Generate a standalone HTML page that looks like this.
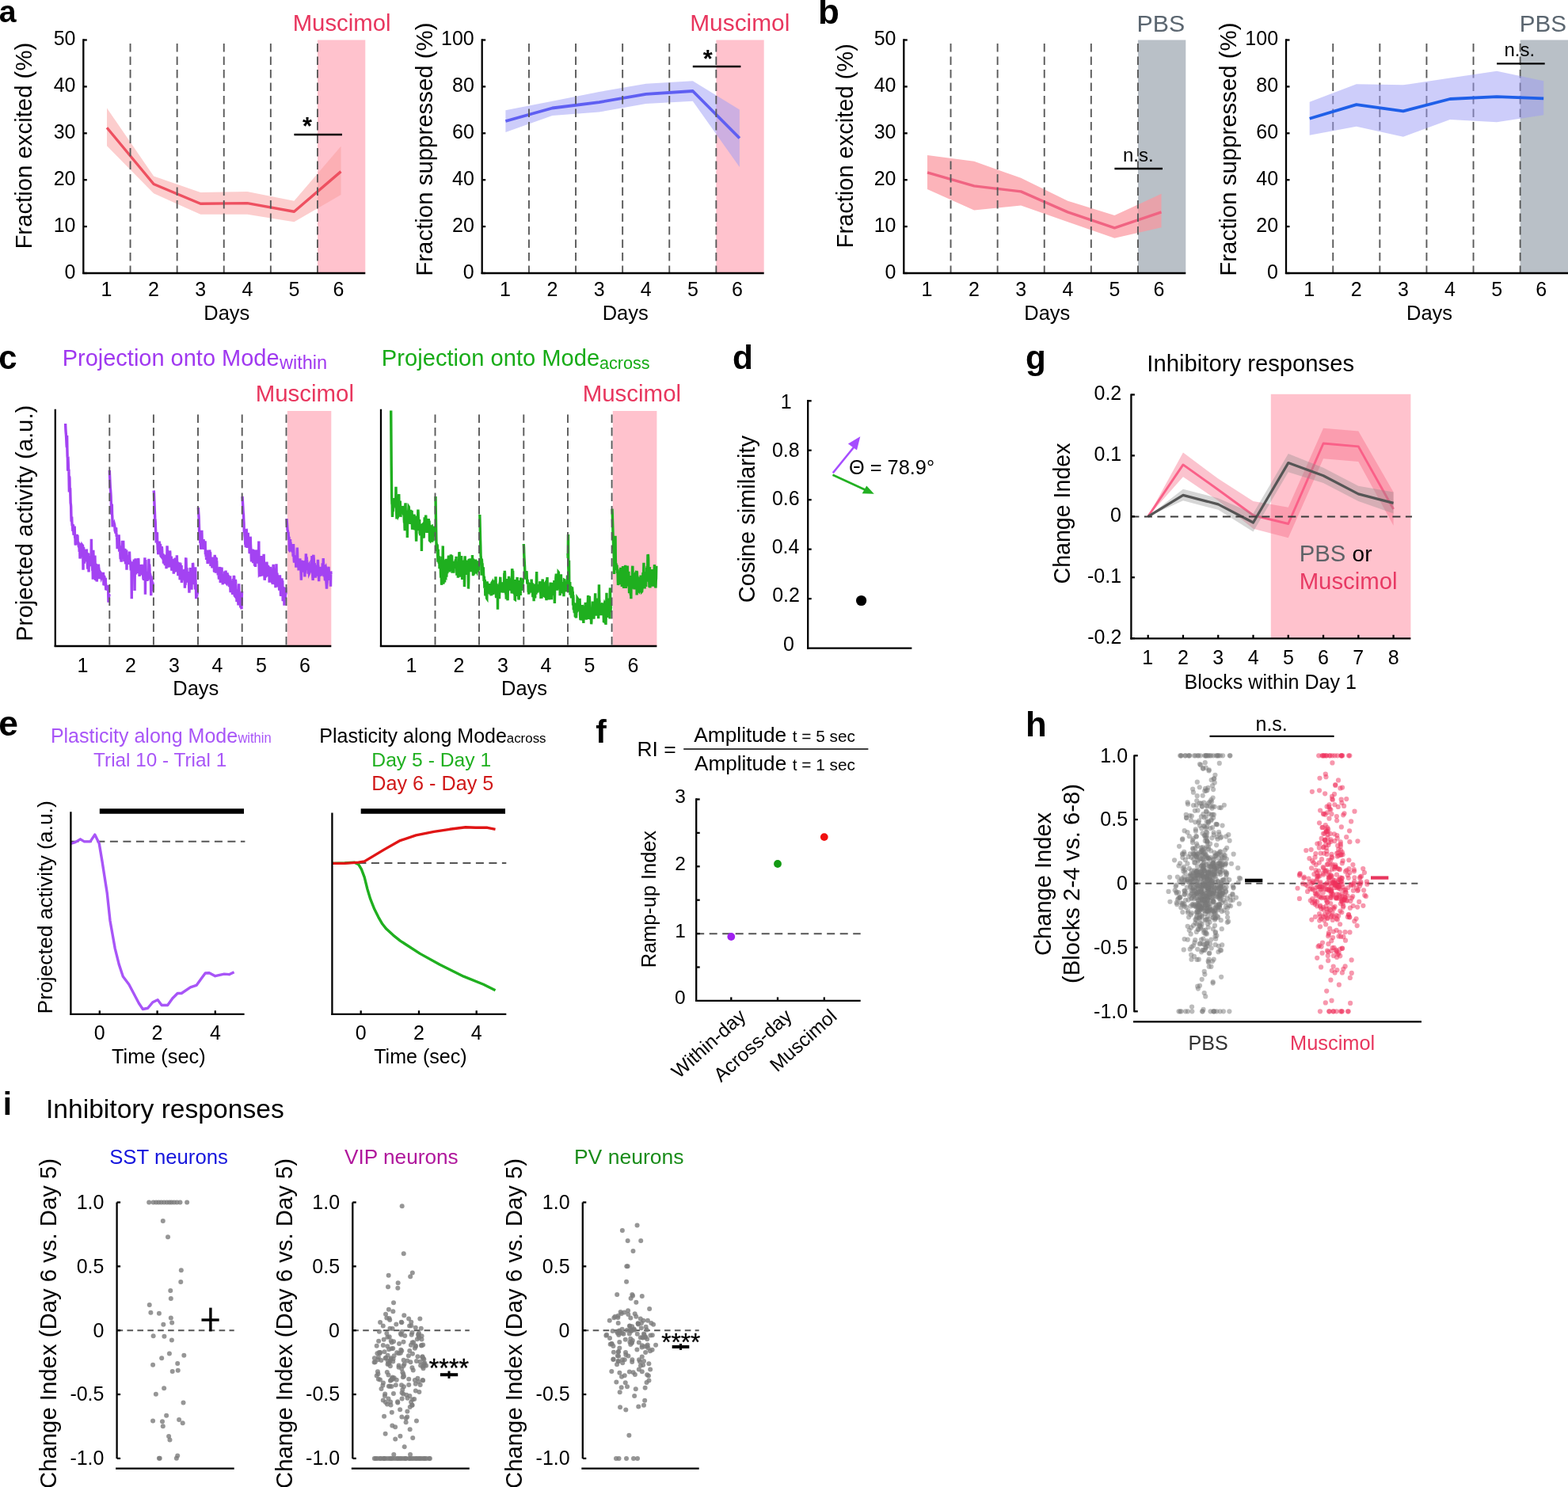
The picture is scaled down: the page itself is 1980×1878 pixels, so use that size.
<!DOCTYPE html>
<html><head><meta charset="utf-8"><title>Figure</title>
<style>html,body{margin:0;padding:0;background:#fff;overflow:hidden;} svg{display:block;}</style></head>
<body><svg width="1980" height="1878" viewBox="0 0 1980 1878">
<rect width="1980" height="1878" fill="#fff"/>
<rect x="400.95" y="50.50" width="60.35" height="294.50" fill="#FFC2CD"/>
<polygon points="135.00,136.49 194.10,222.49 253.20,243.10 312.30,241.93 371.40,253.70 430.50,184.79 430.50,246.05 371.40,280.21 312.30,270.79 253.20,270.79 194.10,244.28 135.00,184.20" fill="#FA9D9D" fill-opacity="0.51" stroke="none"/>
<polyline points="135.00,161.23 194.10,232.50 253.20,257.24 312.30,256.65 371.40,267.25 430.50,216.60" fill="none" stroke="#EE5060" stroke-width="3.4" stroke-linejoin="round" stroke-linecap="butt"/>
<line x1="164.55" y1="55.00" x2="164.55" y2="345.00" stroke="#5a5a5a" stroke-width="1.9" stroke-dasharray="10.5,6" stroke-linecap="butt"/>
<line x1="223.65" y1="55.00" x2="223.65" y2="345.00" stroke="#5a5a5a" stroke-width="1.9" stroke-dasharray="10.5,6" stroke-linecap="butt"/>
<line x1="282.75" y1="55.00" x2="282.75" y2="345.00" stroke="#5a5a5a" stroke-width="1.9" stroke-dasharray="10.5,6" stroke-linecap="butt"/>
<line x1="341.85" y1="55.00" x2="341.85" y2="345.00" stroke="#5a5a5a" stroke-width="1.9" stroke-dasharray="10.5,6" stroke-linecap="butt"/>
<line x1="400.95" y1="55.00" x2="400.95" y2="345.00" stroke="#5a5a5a" stroke-width="1.9" stroke-dasharray="10.5,6" stroke-linecap="butt"/>
<line x1="105.30" y1="49.30" x2="105.30" y2="346.10" stroke="#000" stroke-width="2.3" stroke-linecap="butt"/>
<line x1="104.20" y1="345.00" x2="461.30" y2="345.00" stroke="#000" stroke-width="2.3" stroke-linecap="butt"/>
<line x1="105.30" y1="345.00" x2="109.80" y2="345.00" stroke="#000" stroke-width="2.3" stroke-linecap="butt"/>
<line x1="105.30" y1="286.10" x2="109.80" y2="286.10" stroke="#000" stroke-width="2.3" stroke-linecap="butt"/>
<line x1="105.30" y1="227.20" x2="109.80" y2="227.20" stroke="#000" stroke-width="2.3" stroke-linecap="butt"/>
<line x1="105.30" y1="168.30" x2="109.80" y2="168.30" stroke="#000" stroke-width="2.3" stroke-linecap="butt"/>
<line x1="105.30" y1="109.40" x2="109.80" y2="109.40" stroke="#000" stroke-width="2.3" stroke-linecap="butt"/>
<line x1="105.30" y1="50.50" x2="109.80" y2="50.50" stroke="#000" stroke-width="2.3" stroke-linecap="butt"/>
<line x1="371.40" y1="170.00" x2="432.00" y2="170.00" stroke="#000" stroke-width="2.3" stroke-linecap="butt"/>
<rect x="904.35" y="50.50" width="60.35" height="294.50" fill="#FFC2CD"/>
<polygon points="638.40,139.14 697.50,127.66 756.60,115.88 815.70,105.87 874.80,102.33 933.90,138.56 933.90,211.00 874.80,127.66 815.70,130.90 756.60,141.50 697.50,145.92 638.40,167.12" fill="#9D9DF5" fill-opacity="0.51" stroke="none"/>
<polyline points="638.40,152.99 697.50,136.49 756.60,129.13 815.70,118.82 874.80,115.00 933.90,174.48" fill="none" stroke="#5F5FF2" stroke-width="3.8" stroke-linejoin="round" stroke-linecap="butt"/>
<line x1="667.95" y1="55.00" x2="667.95" y2="345.00" stroke="#5a5a5a" stroke-width="1.9" stroke-dasharray="10.5,6" stroke-linecap="butt"/>
<line x1="727.05" y1="55.00" x2="727.05" y2="345.00" stroke="#5a5a5a" stroke-width="1.9" stroke-dasharray="10.5,6" stroke-linecap="butt"/>
<line x1="786.15" y1="55.00" x2="786.15" y2="345.00" stroke="#5a5a5a" stroke-width="1.9" stroke-dasharray="10.5,6" stroke-linecap="butt"/>
<line x1="845.25" y1="55.00" x2="845.25" y2="345.00" stroke="#5a5a5a" stroke-width="1.9" stroke-dasharray="10.5,6" stroke-linecap="butt"/>
<line x1="904.35" y1="55.00" x2="904.35" y2="345.00" stroke="#5a5a5a" stroke-width="1.9" stroke-dasharray="10.5,6" stroke-linecap="butt"/>
<line x1="608.70" y1="49.30" x2="608.70" y2="346.10" stroke="#000" stroke-width="2.3" stroke-linecap="butt"/>
<line x1="607.60" y1="345.00" x2="964.70" y2="345.00" stroke="#000" stroke-width="2.3" stroke-linecap="butt"/>
<line x1="608.70" y1="345.00" x2="613.20" y2="345.00" stroke="#000" stroke-width="2.3" stroke-linecap="butt"/>
<line x1="608.70" y1="286.10" x2="613.20" y2="286.10" stroke="#000" stroke-width="2.3" stroke-linecap="butt"/>
<line x1="608.70" y1="227.20" x2="613.20" y2="227.20" stroke="#000" stroke-width="2.3" stroke-linecap="butt"/>
<line x1="608.70" y1="168.30" x2="613.20" y2="168.30" stroke="#000" stroke-width="2.3" stroke-linecap="butt"/>
<line x1="608.70" y1="109.40" x2="613.20" y2="109.40" stroke="#000" stroke-width="2.3" stroke-linecap="butt"/>
<line x1="608.70" y1="50.50" x2="613.20" y2="50.50" stroke="#000" stroke-width="2.3" stroke-linecap="butt"/>
<line x1="874.80" y1="84.00" x2="935.40" y2="84.00" stroke="#000" stroke-width="2.3" stroke-linecap="butt"/>
<rect x="1436.95" y="50.50" width="60.35" height="294.50" fill="#B9C0C7"/>
<polygon points="1171.00,195.98 1230.10,203.64 1289.20,224.84 1348.30,253.70 1407.40,271.96 1466.50,244.87 1466.50,287.28 1407.40,300.82 1348.30,280.21 1289.20,259.60 1230.10,265.49 1171.00,238.98" fill="#FB969E" fill-opacity="0.71" stroke="none"/>
<polyline points="1171.00,217.78 1230.10,234.86 1289.20,241.93 1348.30,267.84 1407.40,287.87 1466.50,267.84" fill="none" stroke="#F06482" stroke-width="3.4" stroke-linejoin="round" stroke-linecap="butt"/>
<line x1="1200.55" y1="55.00" x2="1200.55" y2="345.00" stroke="#5a5a5a" stroke-width="1.9" stroke-dasharray="10.5,6" stroke-linecap="butt"/>
<line x1="1259.65" y1="55.00" x2="1259.65" y2="345.00" stroke="#5a5a5a" stroke-width="1.9" stroke-dasharray="10.5,6" stroke-linecap="butt"/>
<line x1="1318.75" y1="55.00" x2="1318.75" y2="345.00" stroke="#5a5a5a" stroke-width="1.9" stroke-dasharray="10.5,6" stroke-linecap="butt"/>
<line x1="1377.85" y1="55.00" x2="1377.85" y2="345.00" stroke="#5a5a5a" stroke-width="1.9" stroke-dasharray="10.5,6" stroke-linecap="butt"/>
<line x1="1436.95" y1="55.00" x2="1436.95" y2="345.00" stroke="#5a5a5a" stroke-width="1.9" stroke-dasharray="10.5,6" stroke-linecap="butt"/>
<line x1="1141.30" y1="49.30" x2="1141.30" y2="346.10" stroke="#000" stroke-width="2.3" stroke-linecap="butt"/>
<line x1="1140.20" y1="345.00" x2="1497.30" y2="345.00" stroke="#000" stroke-width="2.3" stroke-linecap="butt"/>
<line x1="1141.30" y1="345.00" x2="1145.80" y2="345.00" stroke="#000" stroke-width="2.3" stroke-linecap="butt"/>
<line x1="1141.30" y1="286.10" x2="1145.80" y2="286.10" stroke="#000" stroke-width="2.3" stroke-linecap="butt"/>
<line x1="1141.30" y1="227.20" x2="1145.80" y2="227.20" stroke="#000" stroke-width="2.3" stroke-linecap="butt"/>
<line x1="1141.30" y1="168.30" x2="1145.80" y2="168.30" stroke="#000" stroke-width="2.3" stroke-linecap="butt"/>
<line x1="1141.30" y1="109.40" x2="1145.80" y2="109.40" stroke="#000" stroke-width="2.3" stroke-linecap="butt"/>
<line x1="1141.30" y1="50.50" x2="1145.80" y2="50.50" stroke="#000" stroke-width="2.3" stroke-linecap="butt"/>
<line x1="1407.40" y1="213.00" x2="1468.00" y2="213.00" stroke="#000" stroke-width="2.3" stroke-linecap="butt"/>
<rect x="1919.65" y="50.50" width="60.35" height="294.50" fill="#B9C0C7"/>
<line x1="1683.25" y1="55.00" x2="1683.25" y2="345.00" stroke="#5a5a5a" stroke-width="1.9" stroke-dasharray="10.5,6" stroke-linecap="butt"/>
<line x1="1742.35" y1="55.00" x2="1742.35" y2="345.00" stroke="#5a5a5a" stroke-width="1.9" stroke-dasharray="10.5,6" stroke-linecap="butt"/>
<line x1="1801.45" y1="55.00" x2="1801.45" y2="345.00" stroke="#5a5a5a" stroke-width="1.9" stroke-dasharray="10.5,6" stroke-linecap="butt"/>
<line x1="1860.55" y1="55.00" x2="1860.55" y2="345.00" stroke="#5a5a5a" stroke-width="1.9" stroke-dasharray="10.5,6" stroke-linecap="butt"/>
<line x1="1919.65" y1="55.00" x2="1919.65" y2="345.00" stroke="#5a5a5a" stroke-width="1.9" stroke-dasharray="10.5,6" stroke-linecap="butt"/>
<polygon points="1653.70,128.84 1712.80,106.16 1771.90,107.34 1831.00,98.50 1890.10,89.67 1949.20,102.33 1949.20,145.33 1890.10,154.16 1831.00,150.92 1771.90,172.72 1712.80,159.76 1653.70,170.66" fill="#9D9DF5" fill-opacity="0.51" stroke="none"/>
<polyline points="1653.70,149.75 1712.80,132.08 1771.90,140.32 1831.00,125.01 1890.10,122.06 1949.20,124.42" fill="none" stroke="#1F5FE8" stroke-width="3.8" stroke-linejoin="round" stroke-linecap="butt"/>
<line x1="1624.00" y1="49.30" x2="1624.00" y2="346.10" stroke="#000" stroke-width="2.3" stroke-linecap="butt"/>
<line x1="1622.90" y1="345.00" x2="1980.00" y2="345.00" stroke="#000" stroke-width="2.3" stroke-linecap="butt"/>
<line x1="1624.00" y1="345.00" x2="1628.50" y2="345.00" stroke="#000" stroke-width="2.3" stroke-linecap="butt"/>
<line x1="1624.00" y1="286.10" x2="1628.50" y2="286.10" stroke="#000" stroke-width="2.3" stroke-linecap="butt"/>
<line x1="1624.00" y1="227.20" x2="1628.50" y2="227.20" stroke="#000" stroke-width="2.3" stroke-linecap="butt"/>
<line x1="1624.00" y1="168.30" x2="1628.50" y2="168.30" stroke="#000" stroke-width="2.3" stroke-linecap="butt"/>
<line x1="1624.00" y1="109.40" x2="1628.50" y2="109.40" stroke="#000" stroke-width="2.3" stroke-linecap="butt"/>
<line x1="1624.00" y1="50.50" x2="1628.50" y2="50.50" stroke="#000" stroke-width="2.3" stroke-linecap="butt"/>
<line x1="1890.10" y1="80.40" x2="1950.70" y2="80.40" stroke="#000" stroke-width="2.3" stroke-linecap="butt"/>
<rect x="362.80" y="519.00" width="55.50" height="297.00" fill="#FFC2CD"/>
<polyline points="82.60,535.00 82.85,541.10 83.10,545.35 83.36,548.26 83.61,552.01 83.86,556.66 84.11,562.11 84.36,565.12 84.61,550.15 84.87,566.16 85.12,576.14 85.37,578.24 85.62,594.61 85.87,576.48 86.13,582.66 86.38,590.41 86.63,595.26 86.88,592.78 87.13,607.82 87.38,621.58 87.64,601.38 87.89,603.86 88.14,617.54 88.39,618.10 88.64,616.33 88.90,626.80 89.15,635.28 89.40,636.66 89.65,639.60 89.90,651.36 90.15,658.77 90.41,654.15 90.66,652.53 90.91,660.40 91.16,664.07 91.41,661.78 91.67,667.27 91.92,670.90 92.17,664.64 92.42,662.28 92.67,669.29 92.92,674.16 93.18,675.76 93.43,665.86 93.68,665.94 93.93,665.79 94.18,664.60 94.44,675.36 94.69,679.55 94.94,677.59 95.19,687.26 95.44,688.32 95.69,686.17 95.95,686.12 96.20,685.00 96.45,676.86 96.70,684.53 96.95,684.20 97.21,674.77 97.46,682.11 97.71,685.41 97.96,676.04 98.21,684.72 98.46,686.12 98.72,687.27 98.97,684.22 99.22,689.81 99.47,690.32 99.72,691.06 99.98,689.97 100.23,697.04 100.48,696.20 100.73,692.55 100.98,705.35 101.23,704.34 101.49,702.46 101.74,685.76 101.99,696.21 102.24,697.89 102.49,692.27 102.75,690.60 103.00,697.72 103.25,691.18 103.50,691.17 103.75,701.64 104.00,688.69 104.26,689.06 104.51,689.11 104.76,699.35 105.01,719.83 105.26,694.31 105.52,690.90 105.77,693.46 106.02,696.34 106.27,711.58 106.52,704.44 106.77,697.61 107.03,701.28 107.28,701.37 107.53,698.81 107.78,697.74 108.03,703.50 108.29,708.14 108.54,702.15 108.79,698.70 109.04,693.92 109.29,694.61 109.54,709.43 109.80,702.19 110.05,697.70 110.30,710.49 110.55,714.62 110.80,718.64 111.06,708.72 111.31,699.77 111.56,698.60 111.81,716.00 112.06,722.49 112.31,705.23 112.57,702.23 112.82,707.44 113.07,702.65 113.32,703.34 113.57,705.32 113.83,710.47 114.08,715.07 114.33,712.49 114.58,713.30 114.83,710.44 115.08,705.94 115.34,680.85 115.59,698.20 115.84,710.54 116.09,709.30 116.34,713.73 116.60,717.65 116.85,721.49 117.10,720.65 117.35,731.60 117.60,711.57 117.85,694.78 118.11,705.34 118.36,705.71 118.61,703.76 118.86,707.13 119.11,711.97 119.37,714.01 119.62,708.24 119.87,701.50 120.12,710.38 120.37,718.02 120.62,733.05 120.88,719.87 121.13,711.80 121.38,714.78 121.63,728.96 121.88,729.49 122.14,734.46 122.39,732.94 122.64,718.70 122.89,720.60 123.14,724.09 123.39,725.24 123.65,725.10 123.90,723.40 124.15,719.64 124.40,712.63 124.65,716.57 124.91,717.94 125.16,721.27 125.41,722.06 125.66,728.23 125.91,731.02 126.16,728.81 126.42,727.82 126.67,725.85 126.92,723.16 127.17,723.56 127.42,724.34 127.68,728.67 127.93,729.76 128.18,729.04 128.43,723.58 128.68,730.19 128.93,725.22 129.19,723.60 129.44,726.58 129.69,727.60 129.94,730.70 130.19,726.67 130.45,722.85 130.70,727.95 130.95,739.25 131.20,733.97 131.45,726.95 131.70,728.89 131.96,728.98 132.21,739.74 132.46,730.99 132.71,736.94 132.96,737.79 133.22,729.89 133.47,738.24 133.72,745.30 133.97,743.54 134.22,743.05 134.47,745.63 134.73,743.06 134.98,742.05 135.23,742.10 135.48,743.58 135.73,740.13 135.99,745.80 136.24,741.32 136.49,739.13 136.74,750.36 136.99,760.78 137.24,757.10 137.50,750.21 137.75,753.24 138.00,750.67" fill="none" stroke="#A343F2" stroke-width="3.4" stroke-linejoin="miter" stroke-linecap="butt"/>
<polyline points="138.30,594.00 138.55,600.39 138.80,605.65 139.06,611.40 139.31,617.12 139.56,618.48 139.81,622.03 140.06,626.45 140.32,635.17 140.57,644.30 140.82,648.08 141.07,649.75 141.32,636.56 141.58,648.99 141.83,652.74 142.08,665.43 142.33,657.85 142.58,665.28 142.84,661.96 143.09,665.32 143.34,660.74 143.59,661.22 143.85,660.32 144.10,662.59 144.35,661.70 144.60,662.66 144.85,664.92 145.11,669.95 145.36,671.24 145.61,665.80 145.86,673.60 146.11,670.81 146.37,667.69 146.62,666.34 146.87,672.67 147.12,676.25 147.37,678.13 147.63,676.82 147.88,683.50 148.13,693.19 148.38,687.12 148.63,682.37 148.89,688.30 149.14,687.22 149.39,690.34 149.64,690.79 149.89,682.64 150.15,675.19 150.40,683.85 150.65,696.83 150.90,689.26 151.15,693.83 151.41,696.11 151.66,692.03 151.91,700.86 152.16,706.10 152.42,704.23 152.67,703.97 152.92,706.48 153.17,709.59 153.42,699.56 153.68,695.96 153.93,696.61 154.18,687.90 154.43,682.78 154.68,688.46 154.94,697.97 155.19,697.50 155.44,689.44 155.69,682.86 155.94,692.26 156.20,702.12 156.45,699.85 156.70,706.00 156.95,709.23 157.20,705.56 157.46,702.87 157.71,693.66 157.96,693.02 158.21,702.63 158.46,710.11 158.72,709.98 158.97,710.12 159.22,711.49 159.47,707.34 159.72,694.49 159.98,719.79 160.23,708.19 160.48,707.63 160.73,701.07 160.98,710.18 161.24,706.73 161.49,706.19 161.74,711.03 161.99,710.97 162.25,704.11 162.50,712.89 162.75,711.00 163.00,705.51 163.25,703.41 163.51,696.45 163.76,703.95 164.01,710.66 164.26,708.17 164.51,709.48 164.77,712.15 165.02,716.05 165.27,720.31 165.52,715.65 165.77,713.88 166.03,721.41 166.28,756.16 166.53,717.94 166.78,714.19 167.03,709.34 167.29,721.46 167.54,724.67 167.79,724.69 168.04,715.85 168.29,711.15 168.55,720.63 168.80,720.59 169.05,709.52 169.30,706.62 169.55,715.84 169.81,721.66 170.06,745.91 170.31,717.31 170.56,712.35 170.82,712.05 171.07,705.25 171.32,711.99 171.57,725.33 171.82,718.92 172.08,711.32 172.33,710.22 172.58,720.30 172.83,723.80 173.08,720.39 173.34,717.23 173.59,720.40 173.84,720.25 174.09,716.77 174.34,717.12 174.60,705.09 174.85,706.68 175.10,714.77 175.35,715.93 175.60,713.11 175.86,721.54 176.11,727.82 176.36,725.33 176.61,724.10 176.86,726.56 177.12,722.26 177.37,714.15 177.62,719.81 177.87,725.93 178.12,716.88 178.38,720.68 178.63,717.26 178.88,713.21 179.13,713.87 179.38,720.89 179.64,724.52 179.89,721.53 180.14,713.43 180.39,718.26 180.65,725.71 180.90,730.17 181.15,730.17 181.40,731.23 181.65,732.72 181.91,728.46 182.16,719.95 182.41,720.50 182.66,714.41 182.91,704.38 183.17,712.91 183.42,750.65 183.67,716.82 183.92,707.10 184.17,719.13 184.43,732.08 184.68,727.93 184.93,726.28 185.18,723.62 185.43,726.21 185.69,733.87 185.94,732.11 186.19,727.95 186.44,732.55 186.69,733.14 186.95,726.85 187.20,727.29 187.45,726.45 187.70,724.65 187.95,705.88 188.21,729.24 188.46,718.83 188.71,712.53 188.96,718.59 189.22,730.95 189.47,723.80 189.72,726.42 189.97,726.66 190.22,731.37 190.48,731.85 190.73,752.33 190.98,727.53 191.23,731.82 191.48,733.34 191.74,732.88 191.99,733.70 192.24,741.10 192.49,746.50 192.74,744.52 193.00,735.56 193.25,740.08 193.50,741.16" fill="none" stroke="#A343F2" stroke-width="3.4" stroke-linejoin="miter" stroke-linecap="butt"/>
<polyline points="194.20,619.50 194.45,622.64 194.70,629.60 194.95,635.65 195.21,642.01 195.46,647.56 195.71,654.38 195.96,656.24 196.21,659.14 196.46,667.02 196.71,672.13 196.96,674.07 197.22,685.55 197.47,681.73 197.72,682.36 197.97,676.87 198.22,673.01 198.47,672.39 198.72,687.40 198.98,686.86 199.23,694.60 199.48,692.81 199.73,700.10 199.98,699.06 200.23,694.05 200.48,694.51 200.74,687.45 200.99,691.15 201.24,683.57 201.49,691.26 201.74,698.34 201.99,694.34 202.24,689.02 202.50,686.92 202.75,692.39 203.00,702.15 203.25,702.45 203.50,694.03 203.75,690.45 204.00,696.54 204.25,690.26 204.51,691.90 204.76,696.26 205.01,704.47 205.26,705.05 205.51,705.23 205.76,702.86 206.01,699.43 206.27,706.78 206.52,711.79 206.77,706.40 207.02,706.23 207.27,705.54 207.52,710.44 207.77,711.21 208.02,710.91 208.28,710.96 208.53,713.87 208.78,704.72 209.03,700.58 209.28,701.71 209.53,706.17 209.78,701.35 210.04,718.21 210.29,710.98 210.54,715.38 210.79,706.42 211.04,689.38 211.29,693.22 211.54,695.91 211.80,696.81 212.05,705.88 212.30,716.80 212.55,707.86 212.80,704.13 213.05,710.84 213.30,710.25 213.56,707.90 213.81,704.75 214.06,708.34 214.31,707.85 214.56,695.47 214.81,698.19 215.06,714.69 215.31,716.15 215.57,706.76 215.82,702.87 216.07,705.05 216.32,702.60 216.57,709.58 216.82,720.74 217.07,717.89 217.33,718.50 217.58,713.64 217.83,716.66 218.08,718.72 218.33,706.61 218.58,707.70 218.83,711.92 219.08,717.69 219.34,724.68 219.59,717.87 219.84,705.70 220.09,707.66 220.34,708.40 220.59,711.18 220.84,722.80 221.10,704.63 221.35,712.85 221.60,716.94 221.85,719.80 222.10,719.64 222.35,717.04 222.60,717.98 222.86,720.90 223.11,711.51 223.36,701.18 223.61,711.16 223.86,722.02 224.11,715.85 224.36,709.55 224.61,717.79 224.87,727.22 225.12,723.81 225.37,723.75 225.62,722.59 225.87,717.78 226.12,713.64 226.37,714.57 226.63,711.65 226.88,710.26 227.13,732.20 227.38,730.37 227.63,721.74 227.88,717.21 228.13,716.72 228.39,722.10 228.64,722.07 228.89,720.24 229.14,714.09 229.39,735.89 229.64,733.25 229.89,725.12 230.14,725.73 230.40,725.65 230.65,730.64 230.90,730.73 231.15,723.56 231.40,719.70 231.65,723.23 231.90,722.32 232.16,720.20 232.41,725.47 232.66,725.01 232.91,718.77 233.16,727.05 233.41,742.77 233.66,734.96 233.92,731.45 234.17,738.74 234.42,721.91 234.67,705.17 234.92,704.67 235.17,712.76 235.42,725.90 235.68,727.71 235.93,717.09 236.18,726.09 236.43,721.81 236.68,726.69 236.93,731.09 237.18,730.72 237.43,728.69 237.69,735.57 237.94,722.00 238.19,729.54 238.44,736.73 238.69,741.43 238.94,748.64 239.19,742.37 239.45,739.30 239.70,741.61 239.95,732.14 240.20,718.46 240.45,716.99 240.70,735.02 240.95,738.61 241.20,735.44 241.46,731.84 241.71,736.88 241.96,744.61 242.21,727.70 242.46,725.58 242.71,730.66 242.96,738.23 243.22,724.28 243.47,710.95 243.72,712.11 243.97,722.95 244.22,736.52 244.47,735.09 244.72,724.89 244.98,731.37 245.23,732.18 245.48,734.28 245.73,733.24 245.98,734.14 246.23,737.64 246.48,744.50 246.74,716.30 246.99,735.59 247.24,738.03 247.49,745.04 247.74,756.18 247.99,747.76 248.24,750.14 248.49,750.93 248.75,751.06 249.00,743.86 249.25,746.99 249.50,750.59" fill="none" stroke="#A343F2" stroke-width="3.4" stroke-linejoin="miter" stroke-linecap="butt"/>
<polyline points="250.30,641.00 250.55,645.04 250.80,648.79 251.06,652.52 251.31,660.38 251.56,669.10 251.81,673.54 252.06,678.45 252.32,675.51 252.57,678.59 252.82,685.86 253.07,679.23 253.32,683.82 253.58,693.83 253.83,685.00 254.08,680.67 254.33,679.66 254.58,679.62 254.84,669.71 255.09,678.98 255.34,693.65 255.59,689.16 255.85,685.34 256.10,688.83 256.35,690.41 256.60,690.40 256.85,688.59 257.11,681.15 257.36,688.28 257.61,688.74 257.86,693.98 258.11,690.73 258.37,685.74 258.62,688.10 258.87,689.01 259.12,683.24 259.37,697.99 259.63,697.90 259.88,695.42 260.13,703.21 260.38,701.12 260.63,706.88 260.89,703.87 261.14,694.59 261.39,698.13 261.64,698.32 261.89,704.97 262.15,712.00 262.40,710.71 262.65,707.38 262.90,697.82 263.15,702.27 263.41,707.77 263.66,709.41 263.91,703.36 264.16,707.16 264.42,705.15 264.67,694.49 264.92,696.82 265.17,703.82 265.42,697.32 265.68,698.38 265.93,714.97 266.18,710.07 266.43,706.77 266.68,707.12 266.94,704.84 267.19,711.24 267.44,705.79 267.69,713.26 267.94,717.34 268.20,709.63 268.45,708.52 268.70,706.71 268.95,703.55 269.20,712.13 269.46,715.79 269.71,710.47 269.96,714.67 270.21,713.40 270.46,721.42 270.72,722.42 270.97,710.09 271.22,700.85 271.47,705.81 271.72,703.37 271.98,704.23 272.23,714.35 272.48,723.61 272.73,718.23 272.98,711.66 273.24,704.48 273.49,707.47 273.74,709.42 273.99,717.60 274.25,716.47 274.50,717.70 274.75,718.85 275.00,720.52 275.25,726.46 275.51,724.69 275.76,720.24 276.01,722.62 276.26,727.97 276.51,731.56 276.77,728.75 277.02,730.45 277.27,721.92 277.52,717.85 277.77,716.04 278.03,724.04 278.28,736.07 278.53,718.30 278.78,727.16 279.03,722.59 279.29,722.29 279.54,730.18 279.79,729.34 280.04,716.42 280.29,728.13 280.55,733.19 280.80,735.78 281.05,734.16 281.30,738.30 281.55,729.15 281.81,726.66 282.06,730.85 282.31,734.62 282.56,728.63 282.82,726.75 283.07,732.81 283.32,737.05 283.57,727.54 283.82,721.55 284.08,728.44 284.33,733.15 284.58,729.21 284.83,727.11 285.08,720.48 285.34,728.22 285.59,733.75 285.84,736.62 286.09,736.92 286.34,735.76 286.60,729.61 286.85,729.24 287.10,723.37 287.35,728.70 287.60,736.45 287.86,737.42 288.11,725.79 288.36,733.21 288.61,731.50 288.86,729.56 289.12,734.83 289.37,739.09 289.62,741.08 289.87,728.84 290.12,730.04 290.38,730.60 290.63,727.23 290.88,743.30 291.13,748.28 291.38,737.39 291.64,737.59 291.89,736.99 292.14,737.26 292.39,735.89 292.65,739.27 292.90,735.57 293.15,744.96 293.40,748.33 293.65,750.79 293.91,733.80 294.16,732.82 294.41,731.30 294.66,737.17 294.91,740.42 295.17,732.81 295.42,726.92 295.67,728.51 295.92,742.25 296.17,752.17 296.43,752.50 296.68,743.98 296.93,737.43 297.18,737.25 297.43,731.94 297.69,735.03 297.94,748.56 298.19,747.47 298.44,747.67 298.69,749.03 298.95,758.17 299.20,758.12 299.45,746.39 299.70,744.31 299.95,747.76 300.21,759.31 300.46,760.12 300.71,756.26 300.96,764.49 301.22,753.87 301.47,740.56 301.72,737.27 301.97,748.22 302.22,753.30 302.48,751.00 302.73,756.87 302.98,761.57 303.23,757.83 303.48,763.38 303.74,767.42 303.99,760.23 304.24,753.77 304.49,758.22 304.74,764.40 305.00,769.39 305.25,755.25 305.50,746.83" fill="none" stroke="#A343F2" stroke-width="3.4" stroke-linejoin="miter" stroke-linecap="butt"/>
<polyline points="306.00,627.00 306.25,629.95 306.50,635.12 306.75,639.06 307.00,644.34 307.26,648.45 307.51,649.72 307.76,656.60 308.01,661.15 308.26,671.17 308.51,672.72 308.76,671.17 309.01,676.45 309.26,678.52 309.52,681.74 309.77,687.24 310.02,687.62 310.27,691.18 310.52,686.23 310.77,677.18 311.02,667.97 311.27,669.17 311.53,681.23 311.78,689.75 312.03,691.70 312.28,682.81 312.53,681.64 312.78,679.03 313.03,676.44 313.28,672.69 313.53,684.73 313.79,683.87 314.04,686.33 314.29,691.22 314.54,688.89 314.79,684.99 315.04,697.72 315.29,698.88 315.54,694.07 315.79,685.28 316.05,677.81 316.30,679.18 316.55,688.96 316.80,692.87 317.05,694.06 317.30,705.04 317.55,709.50 317.80,704.41 318.05,701.87 318.31,694.53 318.56,702.44 318.81,700.44 319.06,693.60 319.31,703.38 319.56,709.84 319.81,710.68 320.06,706.51 320.32,694.48 320.57,696.20 320.82,698.20 321.07,701.57 321.32,705.38 321.57,714.70 321.82,708.02 322.07,701.51 322.32,710.44 322.58,715.88 322.83,706.05 323.08,694.52 323.33,697.26 323.58,699.15 323.83,694.65 324.08,698.66 324.33,699.22 324.58,709.39 324.84,711.62 325.09,704.74 325.34,699.50 325.59,704.82 325.84,702.51 326.09,704.21 326.34,711.43 326.59,702.85 326.84,683.44 327.10,714.00 327.35,724.18 327.60,723.75 327.85,721.33 328.10,722.91 328.35,716.17 328.60,726.57 328.85,726.55 329.11,713.53 329.36,710.04 329.61,702.14 329.86,703.75 330.11,710.63 330.36,706.46 330.61,712.03 330.86,715.89 331.11,716.39 331.37,723.00 331.62,727.29 331.87,720.59 332.12,723.28 332.37,724.24 332.62,713.36 332.87,704.92 333.12,699.90 333.37,715.08 333.63,727.04 333.88,724.74 334.13,732.63 334.38,731.39 334.63,724.53 334.88,716.56 335.13,712.04 335.38,717.35 335.63,720.81 335.89,717.97 336.14,710.37 336.39,715.47 336.64,718.79 336.89,709.54 337.14,714.11 337.39,720.75 337.64,725.56 337.89,725.25 338.15,719.23 338.40,714.31 338.65,715.02 338.90,726.99 339.15,727.68 339.40,721.73 339.65,715.74 339.90,719.34 340.16,735.77 340.41,726.02 340.66,729.53 340.91,732.11 341.16,716.56 341.41,717.03 341.66,726.23 341.91,727.02 342.16,719.75 342.42,721.44 342.67,720.56 342.92,721.90 343.17,727.66 343.42,730.73 343.67,735.41 343.92,736.02 344.17,735.88 344.42,726.51 344.68,725.87 344.93,717.10 345.18,712.77 345.43,718.39 345.68,730.85 345.93,728.59 346.18,733.38 346.43,736.31 346.68,738.14 346.94,730.71 347.19,728.79 347.44,727.92 347.69,728.57 347.94,742.25 348.19,733.32 348.44,729.35 348.69,728.72 348.95,712.35 349.20,726.87 349.45,731.01 349.70,724.73 349.95,723.50 350.20,728.83 350.45,735.70 350.70,740.96 350.95,727.74 351.21,733.06 351.46,728.85 351.71,733.51 351.96,741.79 352.21,740.88 352.46,740.92 352.71,745.55 352.96,736.77 353.21,729.73 353.47,726.33 353.72,736.29 353.97,741.16 354.22,739.96 354.47,751.26 354.72,751.29 354.97,745.02 355.22,735.51 355.47,740.90 355.73,740.02 355.98,730.23 356.23,737.60 356.48,737.84 356.73,733.38 356.98,747.41 357.23,759.15 357.48,751.75 357.74,741.20 357.99,744.83 358.24,750.91 358.49,744.80 358.74,747.89 358.99,764.83 359.24,752.85 359.49,756.16 359.74,745.90 360.00,754.43 360.25,756.22 360.50,747.56 360.75,741.83 361.00,750.46" fill="none" stroke="#A343F2" stroke-width="3.4" stroke-linejoin="miter" stroke-linecap="butt"/>
<polyline points="362.00,655.00 362.25,658.46 362.50,661.96 362.75,665.53 363.00,669.11 363.26,669.57 363.51,672.24 363.76,672.60 364.01,671.73 364.26,676.02 364.51,681.10 364.76,681.52 365.01,677.77 365.26,694.56 365.52,694.88 365.77,694.29 366.02,692.63 366.27,686.10 366.52,681.06 366.77,690.27 367.02,684.88 367.27,690.01 367.52,692.43 367.78,693.92 368.03,694.37 368.28,693.99 368.53,696.29 368.78,690.23 369.03,693.79 369.28,689.23 369.53,698.57 369.78,696.36 370.04,700.97 370.29,702.64 370.54,687.01 370.79,692.97 371.04,703.08 371.29,708.16 371.54,710.50 371.79,707.16 372.04,704.72 372.30,702.84 372.55,703.03 372.80,704.46 373.05,708.36 373.30,706.66 373.55,710.39 373.80,716.63 374.05,713.26 374.30,709.35 374.56,704.72 374.81,707.92 375.06,699.39 375.31,691.58 375.56,697.65 375.81,707.53 376.06,706.27 376.31,706.54 376.57,709.71 376.82,708.19 377.07,720.45 377.32,713.37 377.57,711.96 377.82,719.62 378.07,707.20 378.32,705.75 378.57,708.08 378.83,705.34 379.08,713.42 379.33,715.99 379.58,715.35 379.83,715.73 380.08,723.63 380.33,732.67 380.58,723.11 380.83,707.52 381.09,719.86 381.34,722.55 381.59,716.43 381.84,708.47 382.09,709.43 382.34,709.64 382.59,708.34 382.84,721.11 383.09,722.56 383.35,714.64 383.60,711.88 383.85,722.42 384.10,719.17 384.35,721.91 384.60,719.56 384.85,728.47 385.10,723.14 385.35,722.78 385.61,707.90 385.86,713.47 386.11,711.60 386.36,699.33 386.61,704.29 386.86,704.26 387.11,703.38 387.36,706.16 387.61,708.02 387.87,716.51 388.12,720.01 388.37,716.98 388.62,710.75 388.87,715.02 389.12,724.70 389.37,717.59 389.62,714.42 389.87,713.96 390.13,720.29 390.38,724.55 390.63,724.05 390.88,722.29 391.13,721.47 391.38,718.23 391.63,723.41 391.88,712.48 392.13,717.39 392.39,720.46 392.64,714.35 392.89,720.50 393.14,718.30 393.39,707.23 393.64,714.68 393.89,702.06 394.14,708.59 394.39,717.91 394.65,722.24 394.90,730.13 395.15,732.90 395.40,715.44 395.65,701.74 395.90,700.90 396.15,704.29 396.40,708.81 396.65,716.09 396.91,721.78 397.16,711.29 397.41,713.33 397.66,716.12 397.91,716.02 398.16,719.04 398.41,729.73 398.66,721.82 398.91,719.96 399.17,723.51 399.42,725.11 399.67,727.56 399.92,714.87 400.17,725.03 400.42,715.54 400.67,719.56 400.92,723.37 401.17,713.70 401.43,706.74 401.68,714.10 401.93,714.90 402.18,721.98 402.43,726.82 402.68,734.26 402.93,726.04 403.18,717.22 403.43,723.17 403.69,727.90 403.94,723.29 404.19,720.28 404.44,718.45 404.69,716.22 404.94,717.25 405.19,727.50 405.44,723.35 405.70,715.88 405.95,725.27 406.20,724.49 406.45,723.58 406.70,725.74 406.95,725.08 407.20,711.18 407.45,718.87 407.70,725.47 407.96,719.58 408.21,705.00 408.46,712.31 408.71,724.50 408.96,728.11 409.21,713.19 409.46,716.50 409.71,724.61 409.96,726.71 410.22,729.77 410.47,733.45 410.72,728.01 410.97,716.24 411.22,715.82 411.47,717.19 411.72,725.28 411.97,735.74 412.22,738.60 412.48,743.64 412.73,740.16 412.98,736.58 413.23,732.33 413.48,723.20 413.73,728.87 413.98,730.56 414.23,732.85 414.48,724.31 414.74,719.59 414.99,715.72 415.24,721.12 415.49,724.53 415.74,731.27 415.99,731.35 416.24,727.79 416.49,725.31 416.74,724.50 417.00,724.49 417.25,728.49 417.50,740.82 417.75,721.42 418.00,725.11" fill="none" stroke="#A343F2" stroke-width="3.4" stroke-linejoin="miter" stroke-linecap="butt"/>
<line x1="138.30" y1="523.50" x2="138.30" y2="816.00" stroke="#5a5a5a" stroke-width="1.9" stroke-dasharray="10.5,6" stroke-linecap="butt"/>
<line x1="193.90" y1="523.50" x2="193.90" y2="816.00" stroke="#5a5a5a" stroke-width="1.9" stroke-dasharray="10.5,6" stroke-linecap="butt"/>
<line x1="250.00" y1="523.50" x2="250.00" y2="816.00" stroke="#5a5a5a" stroke-width="1.9" stroke-dasharray="10.5,6" stroke-linecap="butt"/>
<line x1="305.70" y1="523.50" x2="305.70" y2="816.00" stroke="#5a5a5a" stroke-width="1.9" stroke-dasharray="10.5,6" stroke-linecap="butt"/>
<line x1="361.50" y1="523.50" x2="361.50" y2="816.00" stroke="#5a5a5a" stroke-width="1.9" stroke-dasharray="10.5,6" stroke-linecap="butt"/>
<line x1="69.80" y1="516.70" x2="69.80" y2="817.10" stroke="#000" stroke-width="2.3" stroke-linecap="butt"/>
<line x1="68.70" y1="816.00" x2="418.30" y2="816.00" stroke="#000" stroke-width="2.3" stroke-linecap="butt"/>
<rect x="773.80" y="519.00" width="55.60" height="297.00" fill="#FFC2CD"/>
<polyline points="493.70,518.50 493.95,553.00 494.20,587.19 494.45,609.78 494.71,628.53 494.96,636.03 495.21,637.35 495.46,652.95 495.71,649.42 495.96,636.28 496.21,645.01 496.46,644.96 496.72,637.60 496.97,641.52 497.22,638.74 497.47,628.98 497.72,637.41 497.97,635.59 498.22,634.57 498.48,633.51 498.73,635.37 498.98,639.70 499.23,637.36 499.48,628.84 499.73,631.83 499.98,614.69 500.24,628.03 500.49,637.99 500.74,648.58 500.99,655.32 501.24,637.70 501.49,633.94 501.74,635.42 502.00,644.28 502.25,650.38 502.50,647.54 502.75,649.54 503.00,651.54 503.25,651.02 503.50,628.55 503.75,624.12 504.01,639.99 504.26,648.38 504.51,645.10 504.76,645.02 505.01,635.56 505.26,632.57 505.51,640.18 505.77,652.52 506.02,652.00 506.27,643.82 506.52,645.05 506.77,643.00 507.02,643.26 507.27,639.43 507.52,642.91 507.78,649.18 508.03,644.37 508.28,639.02 508.53,641.14 508.78,646.56 509.03,646.58 509.28,647.20 509.54,647.53 509.79,650.65 510.04,646.80 510.29,656.30 510.54,660.48 510.79,655.31 511.04,666.82 511.30,670.06 511.55,655.17 511.80,637.94 512.05,635.39 512.30,649.99 512.55,664.78 512.80,661.42 513.05,657.60 513.31,649.76 513.56,646.64 513.81,650.10 514.06,644.48 514.31,678.96 514.56,655.67 514.81,655.29 515.07,655.50 515.32,652.36 515.57,660.72 515.82,644.10 516.07,639.97 516.32,640.35 516.57,647.58 516.83,657.59 517.08,658.48 517.33,657.40 517.58,657.84 517.83,660.00 518.08,661.72 518.33,649.35 518.59,643.87 518.84,655.71 519.09,654.36 519.34,654.99 519.59,651.92 519.84,653.87 520.09,644.82 520.34,662.12 520.60,668.74 520.85,666.28 521.10,660.96 521.35,658.15 521.60,654.65 521.85,655.51 522.10,653.08 522.36,652.87 522.61,661.64 522.86,665.72 523.11,649.62 523.36,659.22 523.61,661.32 523.86,669.34 524.12,657.78 524.37,658.70 524.62,654.17 524.87,659.65 525.12,651.51 525.37,673.42 525.62,683.81 525.87,675.50 526.13,661.69 526.38,661.67 526.63,660.99 526.88,668.06 527.13,657.27 527.38,662.14 527.63,654.09 527.89,643.48 528.14,647.60 528.39,658.46 528.64,658.08 528.89,661.04 529.14,670.13 529.39,663.15 529.64,656.03 529.90,664.27 530.15,674.09 530.40,662.10 530.65,675.30 530.90,676.10 531.15,663.45 531.40,662.68 531.66,672.21 531.91,666.24 532.16,663.62 532.41,695.98 532.66,669.18 532.91,665.79 533.16,671.25 533.42,661.38 533.67,662.57 533.92,662.27 534.17,663.97 534.42,675.11 534.67,677.03 534.92,678.73 535.17,679.55 535.43,671.86 535.68,664.17 535.93,666.05 536.18,653.40 536.43,656.42 536.68,661.30 536.93,657.22 537.19,669.37 537.44,658.01 537.69,650.48 537.94,654.77 538.19,658.43 538.44,663.57 538.69,667.39 538.95,672.90 539.20,668.10 539.45,665.03 539.70,661.17 539.95,666.17 540.20,657.91 540.45,668.70 540.71,658.20 540.96,660.31 541.21,655.06 541.46,660.33 541.71,666.76 541.96,657.62 542.21,662.98 542.46,682.50 542.72,682.76 542.97,671.15 543.22,666.32 543.47,667.48 543.72,680.83 543.97,672.72 544.22,668.84 544.48,668.12 544.73,663.29 544.98,664.40 545.23,664.31 545.48,677.32 545.73,684.68 545.98,671.53 546.24,675.52 546.49,667.98 546.74,681.53 546.99,683.33 547.24,664.54 547.49,674.03 547.74,674.36 547.99,677.65 548.25,671.83 548.50,666.84 548.75,673.69 549.00,671.93" fill="none" stroke="#1FAF1F" stroke-width="3.4" stroke-linejoin="miter" stroke-linecap="butt"/>
<polyline points="550.00,627.00 550.25,643.95 550.50,659.12 550.75,675.05 551.00,688.14 551.26,688.07 551.51,696.17 551.76,695.34 552.01,687.48 552.26,689.11 552.51,694.58 552.76,702.74 553.01,709.65 553.26,693.92 553.52,702.99 553.77,707.19 554.02,707.11 554.27,711.75 554.52,702.46 554.77,703.91 555.02,718.10 555.27,715.00 555.53,713.98 555.78,711.40 556.03,711.79 556.28,715.72 556.53,724.81 556.78,729.66 557.03,723.50 557.28,722.03 557.53,738.82 557.79,733.02 558.04,725.49 558.29,702.88 558.54,716.40 558.79,717.63 559.04,705.08 559.29,689.39 559.54,724.83 559.79,737.41 560.05,736.05 560.30,708.63 560.55,709.09 560.80,720.18 561.05,713.68 561.30,718.28 561.55,735.59 561.80,719.91 562.06,713.70 562.31,714.68 562.56,728.81 562.81,729.05 563.06,712.91 563.31,705.90 563.56,717.03 563.81,728.71 564.06,721.67 564.32,711.16 564.57,719.34 564.82,724.26 565.07,720.01 565.32,719.08 565.57,717.12 565.82,712.67 566.07,708.58 566.32,703.50 566.58,701.71 566.83,703.42 567.08,717.84 567.33,722.30 567.58,720.18 567.83,720.90 568.08,717.05 568.33,712.46 568.59,716.03 568.84,714.83 569.09,709.85 569.34,700.25 569.59,709.14 569.84,717.83 570.09,706.54 570.34,705.93 570.59,701.36 570.85,711.33 571.10,723.73 571.35,718.06 571.60,721.54 571.85,718.19 572.10,721.72 572.35,716.14 572.60,719.56 572.85,723.58 573.11,720.24 573.36,710.40 573.61,709.72 573.86,709.14 574.11,712.72 574.36,713.27 574.61,715.40 574.86,717.80 575.12,708.52 575.37,706.81 575.62,709.74 575.87,711.35 576.12,702.80 576.37,715.51 576.62,714.01 576.87,726.60 577.12,723.78 577.38,722.34 577.63,710.62 577.88,711.79 578.13,720.78 578.38,729.68 578.63,724.99 578.88,725.70 579.13,718.52 579.38,723.95 579.64,710.89 579.89,697.23 580.14,698.36 580.39,712.51 580.64,715.77 580.89,717.29 581.14,717.41 581.39,723.39 581.65,728.52 581.90,724.77 582.15,716.65 582.40,709.76 582.65,701.98 582.90,713.47 583.15,724.21 583.40,719.27 583.65,732.00 583.91,726.72 584.16,722.97 584.41,723.98 584.66,718.56 584.91,719.64 585.16,724.07 585.41,713.74 585.66,710.45 585.91,707.43 586.17,721.30 586.42,741.09 586.67,729.63 586.92,707.82 587.17,702.29 587.42,712.18 587.67,720.81 587.92,716.36 588.18,725.01 588.43,723.80 588.68,723.85 588.93,725.72 589.18,724.57 589.43,713.63 589.68,713.01 589.93,723.60 590.18,715.09 590.44,707.50 590.69,714.32 590.94,714.00 591.19,724.51 591.44,743.58 591.69,735.11 591.94,713.82 592.19,705.74 592.44,710.34 592.70,709.28 592.95,715.69 593.20,719.81 593.45,720.97 593.70,713.77 593.95,705.19 594.20,711.27 594.45,716.10 594.71,720.07 594.96,722.07 595.21,710.39 595.46,710.26 595.71,708.59 595.96,709.27 596.21,716.24 596.46,701.12 596.71,721.51 596.97,705.26 597.22,719.21 597.47,727.15 597.72,705.89 597.97,713.47 598.22,718.51 598.47,725.17 598.72,724.34 598.97,712.31 599.23,713.80 599.48,717.72 599.73,716.19 599.98,716.05 600.23,724.44 600.48,716.99 600.73,706.60 600.98,712.97 601.24,712.91 601.49,714.06 601.74,721.63 601.99,722.10 602.24,719.38 602.49,720.57 602.74,720.56 602.99,712.63 603.24,716.97 603.50,722.59 603.75,712.29 604.00,708.37 604.25,711.53 604.50,720.51" fill="none" stroke="#1FAF1F" stroke-width="3.4" stroke-linejoin="miter" stroke-linecap="butt"/>
<polyline points="605.80,650.00 606.05,660.25 606.30,671.45 606.56,681.12 606.81,689.79 607.06,701.52 607.31,703.83 607.56,708.55 607.82,714.60 608.07,726.78 608.32,705.60 608.57,709.72 608.82,716.99 609.08,711.37 609.33,718.95 609.58,722.22 609.83,716.82 610.09,725.71 610.34,716.27 610.59,724.77 610.84,728.26 611.09,734.03 611.35,727.76 611.60,731.46 611.85,742.59 612.10,741.51 612.35,732.04 612.61,743.34 612.86,752.37 613.11,734.31 613.36,746.06 613.61,749.00 613.87,744.00 614.12,744.32 614.37,752.49 614.62,755.63 614.87,755.98 615.13,734.33 615.38,738.67 615.63,740.94 615.88,738.66 616.14,740.55 616.39,736.76 616.64,742.95 616.89,741.10 617.14,742.06 617.40,747.50 617.65,747.44 617.90,739.03 618.15,747.43 618.40,749.95 618.66,748.50 618.91,750.96 619.16,738.88 619.41,737.15 619.66,741.81 619.92,741.36 620.17,750.87 620.42,750.90 620.67,752.33 620.92,736.26 621.18,735.84 621.43,746.82 621.68,740.24 621.93,745.29 622.18,739.41 622.44,744.77 622.69,750.89 622.94,741.62 623.19,732.43 623.45,738.47 623.70,749.50 623.95,747.83 624.20,747.78 624.45,745.03 624.71,735.42 624.96,738.92 625.21,735.57 625.46,743.96 625.71,739.91 625.97,728.23 626.22,739.66 626.47,753.70 626.72,755.04 626.97,737.20 627.23,740.94 627.48,748.15 627.73,747.16 627.98,740.07 628.23,743.05 628.49,769.65 628.74,739.44 628.99,738.83 629.24,742.05 629.49,740.71 629.75,743.08 630.00,744.36 630.25,752.45 630.50,756.12 630.76,743.68 631.01,735.92 631.26,737.22 631.51,733.51 631.76,728.70 632.02,736.86 632.27,740.50 632.52,746.79 632.77,745.22 633.02,744.90 633.28,748.26 633.53,739.15 633.78,736.83 634.03,735.96 634.28,739.03 634.54,745.14 634.79,738.75 635.04,735.30 635.29,738.02 635.54,748.71 635.80,741.78 636.05,737.29 636.30,735.26 636.55,738.96 636.81,723.82 637.06,729.58 637.31,720.90 637.56,724.80 637.81,740.24 638.07,742.89 638.32,731.17 638.57,738.53 638.82,749.90 639.07,750.63 639.33,756.73 639.58,731.05 639.83,733.55 640.08,746.62 640.33,749.53 640.59,734.65 640.84,755.95 641.09,758.27 641.34,743.61 641.59,742.97 641.85,738.98 642.10,734.41 642.35,735.11 642.60,727.85 642.85,730.49 643.11,738.72 643.36,743.78 643.61,734.36 643.86,732.26 644.12,733.56 644.37,740.73 644.62,742.81 644.87,746.09 645.12,736.82 645.38,730.38 645.63,740.16 645.88,732.09 646.13,749.52 646.38,741.87 646.64,718.31 646.89,719.78 647.14,733.87 647.39,729.43 647.64,720.90 647.90,733.96 648.15,749.60 648.40,745.59 648.65,735.85 648.90,742.36 649.16,747.52 649.41,745.31 649.66,750.55 649.91,744.11 650.16,757.00 650.42,757.16 650.67,747.74 650.92,742.68 651.17,732.05 651.43,735.35 651.68,747.47 651.93,752.96 652.18,748.89 652.43,743.63 652.69,738.63 652.94,731.35 653.19,728.90 653.44,751.38 653.69,737.08 653.95,735.86 654.20,741.42 654.45,739.74 654.70,751.45 654.95,757.38 655.21,756.49 655.46,750.08 655.71,738.65 655.96,734.04 656.21,733.48 656.47,743.33 656.72,748.90 656.97,740.60 657.22,752.03 657.48,737.43 657.73,729.50 657.98,740.64 658.23,746.07 658.48,735.87 658.74,734.26 658.99,745.75 659.24,736.84 659.49,743.01 659.74,740.66 660.00,735.82 660.25,734.82 660.50,730.23" fill="none" stroke="#1FAF1F" stroke-width="3.4" stroke-linejoin="miter" stroke-linecap="butt"/>
<polyline points="661.30,687.00 661.55,692.19 661.80,700.77 662.06,706.02 662.31,710.87 662.56,715.23 662.81,721.08 663.06,726.53 663.32,726.33 663.57,725.32 663.82,730.07 664.07,731.49 664.32,727.91 664.58,723.53 664.83,721.24 665.08,723.02 665.33,730.73 665.58,732.98 665.84,736.81 666.09,731.71 666.34,738.18 666.59,736.35 666.85,735.01 667.10,743.81 667.35,743.54 667.60,747.47 667.85,750.50 668.11,745.33 668.36,739.20 668.61,744.41 668.86,748.77 669.11,742.57 669.37,746.06 669.62,743.60 669.87,740.32 670.12,738.20 670.37,736.21 670.63,742.38 670.88,743.30 671.13,731.66 671.38,738.80 671.63,745.50 671.89,745.31 672.14,748.30 672.39,736.26 672.64,750.86 672.89,754.13 673.15,748.63 673.40,745.49 673.65,748.78 673.90,749.23 674.15,759.26 674.41,738.10 674.66,739.07 674.91,743.28 675.16,737.53 675.42,749.48 675.67,755.59 675.92,742.16 676.17,741.96 676.42,749.88 676.68,746.79 676.93,750.74 677.18,744.46 677.43,727.50 677.68,722.12 677.94,739.36 678.19,749.03 678.44,744.15 678.69,748.05 678.94,738.12 679.20,742.29 679.45,744.91 679.70,742.85 679.95,740.56 680.20,739.15 680.46,740.07 680.71,738.98 680.96,746.06 681.21,740.16 681.46,743.87 681.72,735.59 681.97,734.39 682.22,747.12 682.47,749.18 682.72,745.77 682.98,756.08 683.23,746.09 683.48,750.77 683.73,753.81 683.98,755.67 684.24,740.65 684.49,736.31 684.74,738.36 684.99,733.90 685.25,731.55 685.50,739.03 685.75,740.18 686.00,737.11 686.25,736.91 686.51,735.39 686.76,752.12 687.01,752.34 687.26,749.20 687.51,749.61 687.77,742.49 688.02,737.97 688.27,737.45 688.52,736.97 688.77,742.27 689.03,750.10 689.28,747.10 689.53,754.53 689.78,755.60 690.03,758.10 690.29,743.76 690.54,736.72 690.79,733.12 691.04,729.15 691.29,745.62 691.55,749.63 691.80,746.42 692.05,742.77 692.30,747.44 692.55,740.69 692.81,745.18 693.06,749.19 693.31,753.83 693.56,757.33 693.82,748.76 694.07,740.50 694.32,744.95 694.57,743.11 694.82,740.92 695.08,735.57 695.33,738.71 695.58,741.47 695.83,742.13 696.08,750.35 696.34,757.25 696.59,744.93 696.84,735.71 697.09,741.27 697.34,750.30 697.60,748.35 697.85,750.45 698.10,748.72 698.35,749.05 698.60,744.91 698.86,751.26 699.11,748.51 699.36,750.41 699.61,748.39 699.86,733.09 700.12,752.54 700.37,762.08 700.62,744.79 700.87,736.88 701.12,740.63 701.38,745.69 701.63,739.34 701.88,729.87 702.13,726.90 702.38,724.70 702.64,729.24 702.89,727.90 703.14,726.85 703.39,745.68 703.65,741.15 703.90,738.23 704.15,727.83 704.40,744.45 704.65,735.92 704.91,735.92 705.16,722.60 705.41,722.91 705.66,739.98 705.91,740.53 706.17,740.08 706.42,733.33 706.67,729.91 706.92,729.21 707.17,752.13 707.43,731.22 707.68,734.95 707.93,734.18 708.18,736.53 708.43,725.19 708.69,734.57 708.94,739.43 709.19,745.88 709.44,749.39 709.69,744.30 709.95,738.01 710.20,734.92 710.45,745.59 710.70,740.09 710.95,738.86 711.21,736.70 711.46,735.37 711.71,748.98 711.96,753.21 712.22,742.41 712.47,732.32 712.72,732.46 712.97,736.01 713.22,734.91 713.48,739.85 713.73,738.13 713.98,740.05 714.23,744.62 714.48,741.02 714.74,747.36 714.99,743.07 715.24,743.43 715.49,740.18 715.74,744.83 716.00,743.80 716.25,736.60 716.50,726.45" fill="none" stroke="#1FAF1F" stroke-width="3.4" stroke-linejoin="miter" stroke-linecap="butt"/>
<polyline points="717.00,699.00 717.25,704.99 717.50,674.98 717.75,716.62 718.00,722.66 718.26,724.77 718.51,707.88 718.76,733.86 719.01,747.99 719.26,742.48 719.51,736.68 719.76,735.03 720.01,751.35 720.26,749.64 720.52,747.15 720.77,741.35 721.02,741.48 721.27,753.26 721.52,755.37 721.77,744.31 722.02,743.09 722.27,742.98 722.52,741.39 722.78,744.95 723.03,747.71 723.28,747.97 723.53,764.41 723.78,751.41 724.03,755.61 724.28,770.24 724.53,761.63 724.79,762.01 725.04,770.74 725.29,774.10 725.54,764.24 725.79,769.56 726.04,764.12 726.29,778.13 726.54,778.97 726.79,771.32 727.05,768.74 727.30,779.24 727.55,780.34 727.80,775.56 728.05,761.48 728.30,766.02 728.55,772.60 728.80,770.38 729.05,755.39 729.31,755.79 729.56,769.54 729.81,770.05 730.06,769.59 730.31,764.79 730.56,768.48 730.81,763.89 731.06,759.82 731.31,763.30 731.57,769.88 731.82,759.17 732.07,755.81 732.32,764.75 732.57,776.09 732.82,781.34 733.07,782.92 733.32,781.25 733.57,771.96 733.83,772.98 734.08,783.56 734.33,777.08 734.58,773.07 734.83,768.39 735.08,771.22 735.33,763.94 735.58,765.77 735.83,769.05 736.09,771.61 736.34,777.84 736.59,781.22 736.84,787.02 737.09,772.64 737.34,766.84 737.59,771.43 737.84,765.57 738.10,767.66 738.35,777.73 738.60,767.59 738.85,771.52 739.10,764.18 739.35,760.92 739.60,779.36 739.85,768.99 740.10,766.05 740.36,782.71 740.61,772.90 740.86,773.03 741.11,778.30 741.36,763.05 741.61,760.93 741.86,772.48 742.11,771.31 742.36,759.63 742.62,751.95 742.87,755.72 743.12,774.66 743.37,781.80 743.62,781.29 743.87,775.35 744.12,766.74 744.37,752.72 744.62,761.05 744.88,767.28 745.13,775.98 745.38,769.81 745.63,768.51 745.88,770.31 746.13,772.58 746.38,777.95 746.63,788.33 746.88,784.75 747.14,772.48 747.39,767.38 747.64,780.59 747.89,778.40 748.14,776.58 748.39,761.24 748.64,761.25 748.89,775.11 749.14,777.78 749.40,770.18 749.65,771.66 749.90,781.64 750.15,774.98 750.40,765.47 750.65,763.81 750.90,774.21 751.15,772.60 751.40,755.47 751.66,749.38 751.91,767.64 752.16,775.61 752.41,777.63 752.66,769.86 752.91,757.81 753.16,769.13 753.41,769.71 753.67,776.90 753.92,771.20 754.17,761.47 754.42,755.49 754.67,760.17 754.92,766.80 755.17,768.41 755.42,774.18 755.67,781.29 755.93,766.16 756.18,759.46 756.43,738.20 756.68,756.84 756.93,759.13 757.18,773.96 757.43,777.09 757.68,763.31 757.93,763.77 758.19,774.63 758.44,774.10 758.69,769.27 758.94,763.48 759.19,777.13 759.44,773.12 759.69,767.53 759.94,763.18 760.19,762.86 760.45,763.00 760.70,763.02 760.95,767.91 761.20,769.79 761.45,761.68 761.70,763.47 761.95,770.71 762.20,777.44 762.45,786.09 762.71,766.48 762.96,765.94 763.21,763.04 763.46,761.79 763.71,762.32 763.96,787.24 764.21,769.38 764.46,769.77 764.71,778.15 764.97,789.03 765.22,777.15 765.47,768.04 765.72,765.43 765.97,748.78 766.22,770.54 766.47,779.90 766.72,768.82 766.98,765.39 767.23,759.98 767.48,756.54 767.73,766.07 767.98,766.38 768.23,763.35 768.48,767.95 768.73,755.58 768.98,768.88 769.24,771.44 769.49,769.11 769.74,767.75 769.99,781.48 770.24,748.02 770.49,742.44 770.74,759.85 770.99,773.08 771.24,767.73 771.50,766.03 771.75,766.40 772.00,766.03 772.25,766.25 772.50,766.39" fill="none" stroke="#1FAF1F" stroke-width="3.4" stroke-linejoin="miter" stroke-linecap="butt"/>
<polyline points="773.00,642.60 773.25,649.00 773.50,656.54 773.75,664.29 774.00,673.39 774.26,680.05 774.51,686.94 774.76,692.50 775.01,697.02 775.26,701.92 775.51,724.91 775.76,705.15 776.01,700.71 776.26,704.32 776.52,714.53 776.77,706.43 777.02,676.86 777.27,702.10 777.52,714.59 777.77,714.45 778.02,711.31 778.27,715.70 778.52,719.75 778.78,716.27 779.03,713.52 779.28,719.93 779.53,723.85 779.78,718.82 780.03,722.85 780.28,733.46 780.53,739.02 780.78,737.01 781.04,734.93 781.29,736.33 781.54,727.96 781.79,732.41 782.04,728.96 782.29,732.64 782.54,724.36 782.79,727.60 783.04,738.18 783.30,725.17 783.55,716.79 783.80,732.53 784.05,735.88 784.30,723.13 784.55,719.45 784.80,736.57 785.05,731.66 785.30,740.86 785.56,736.52 785.81,726.25 786.06,735.54 786.31,728.86 786.56,714.95 786.81,729.70 787.06,724.99 787.31,726.59 787.57,743.00 787.82,738.94 788.07,739.05 788.32,730.83 788.57,732.58 788.82,730.16 789.07,735.52 789.32,737.56 789.57,713.76 789.83,730.00 790.08,737.05 790.33,742.95 790.58,740.48 790.83,728.42 791.08,723.35 791.33,730.43 791.58,740.23 791.83,738.62 792.09,721.15 792.34,714.59 792.59,734.18 792.84,736.23 793.09,740.00 793.34,729.44 793.59,731.90 793.84,721.69 794.09,732.24 794.35,741.22 794.60,749.09 794.85,739.01 795.10,748.26 795.35,732.74 795.60,727.07 795.85,744.15 796.10,747.13 796.35,746.78 796.61,736.84 796.86,756.17 797.11,728.50 797.36,742.75 797.61,730.17 797.86,735.83 798.11,736.99 798.36,728.35 798.61,716.41 798.87,714.74 799.12,729.28 799.37,732.87 799.62,733.73 799.87,743.57 800.12,736.19 800.37,739.77 800.62,739.51 800.87,735.42 801.13,744.39 801.38,742.53 801.63,735.92 801.88,725.58 802.13,725.04 802.38,726.10 802.63,732.01 802.88,737.23 803.13,738.15 803.39,726.67 803.64,733.77 803.89,720.70 804.14,751.43 804.39,721.46 804.64,730.80 804.89,727.46 805.14,730.31 805.39,729.03 805.65,732.83 805.90,742.30 806.15,746.07 806.40,746.35 806.65,737.17 806.90,728.74 807.15,739.23 807.40,744.39 807.65,748.33 807.91,739.87 808.16,733.12 808.41,735.21 808.66,729.68 808.91,731.94 809.16,726.55 809.41,739.10 809.66,735.63 809.91,733.34 810.17,741.33 810.42,747.17 810.67,746.91 810.92,744.65 811.17,741.59 811.42,742.85 811.67,731.79 811.92,723.03 812.17,733.07 812.43,740.06 812.68,721.67 812.93,710.75 813.18,737.66 813.43,730.87 813.68,734.83 813.93,733.74 814.18,743.58 814.43,726.81 814.69,726.27 814.94,734.49 815.19,734.44 815.44,739.24 815.69,741.00 815.94,729.42 816.19,722.07 816.44,734.71 816.70,717.00 816.95,720.38 817.20,714.88 817.45,717.85 817.70,718.30 817.95,701.64 818.20,700.19 818.45,701.12 818.70,704.96 818.96,719.59 819.21,724.48 819.46,725.26 819.71,731.23 819.96,741.82 820.21,717.18 820.46,716.04 820.71,732.70 820.96,742.45 821.22,735.30 821.47,732.89 821.72,726.61 821.97,730.84 822.22,732.28 822.47,735.04 822.72,729.96 822.97,726.32 823.22,724.40 823.48,718.93 823.73,729.96 823.98,735.97 824.23,732.42 824.48,740.66 824.73,736.44 824.98,728.38 825.23,734.26 825.48,732.06 825.74,735.38 825.99,723.89 826.24,719.19 826.49,713.03 826.74,720.24 826.99,720.28 827.24,723.72 827.49,737.57 827.74,742.50 828.00,740.96 828.25,733.30 828.50,730.51 828.75,715.07 829.00,716.14" fill="none" stroke="#1FAF1F" stroke-width="3.4" stroke-linejoin="miter" stroke-linecap="butt"/>
<line x1="549.50" y1="523.50" x2="549.50" y2="816.00" stroke="#5a5a5a" stroke-width="1.9" stroke-dasharray="10.5,6" stroke-linecap="butt"/>
<line x1="605.00" y1="523.50" x2="605.00" y2="816.00" stroke="#5a5a5a" stroke-width="1.9" stroke-dasharray="10.5,6" stroke-linecap="butt"/>
<line x1="661.30" y1="523.50" x2="661.30" y2="816.00" stroke="#5a5a5a" stroke-width="1.9" stroke-dasharray="10.5,6" stroke-linecap="butt"/>
<line x1="717.00" y1="523.50" x2="717.00" y2="816.00" stroke="#5a5a5a" stroke-width="1.9" stroke-dasharray="10.5,6" stroke-linecap="butt"/>
<line x1="772.60" y1="523.50" x2="772.60" y2="816.00" stroke="#5a5a5a" stroke-width="1.9" stroke-dasharray="10.5,6" stroke-linecap="butt"/>
<line x1="481.00" y1="516.70" x2="481.00" y2="817.10" stroke="#000" stroke-width="2.3" stroke-linecap="butt"/>
<line x1="479.90" y1="816.00" x2="829.40" y2="816.00" stroke="#000" stroke-width="2.3" stroke-linecap="butt"/>
<line x1="1020.20" y1="505.00" x2="1020.20" y2="819.70" stroke="#000" stroke-width="2.3" stroke-linecap="butt"/>
<line x1="1019.10" y1="818.60" x2="1151.40" y2="818.60" stroke="#000" stroke-width="2.3" stroke-linecap="butt"/>
<line x1="1020.20" y1="506.30" x2="1024.70" y2="506.30" stroke="#000" stroke-width="2.3" stroke-linecap="butt"/>
<line x1="1020.20" y1="568.76" x2="1024.70" y2="568.76" stroke="#000" stroke-width="2.3" stroke-linecap="butt"/>
<line x1="1020.20" y1="631.22" x2="1024.70" y2="631.22" stroke="#000" stroke-width="2.3" stroke-linecap="butt"/>
<line x1="1020.20" y1="693.68" x2="1024.70" y2="693.68" stroke="#000" stroke-width="2.3" stroke-linecap="butt"/>
<line x1="1020.20" y1="756.14" x2="1024.70" y2="756.14" stroke="#000" stroke-width="2.3" stroke-linecap="butt"/>
<circle cx="1087.60" cy="758.50" r="6.6" fill="#000"/>
<line x1="1051.80" y1="597.30" x2="1078.40" y2="564.50" stroke="#A64DFF" stroke-width="2.6" stroke-linecap="butt"/>
<polygon points="1086.30,551.30 1070.90,560.60 1082.00,568.50" fill="#A64DFF" stroke="none"/>
<line x1="1051.50" y1="599.70" x2="1092.80" y2="618.70" stroke="#22B022" stroke-width="2.6" stroke-linecap="butt"/>
<polygon points="1103.80,623.70 1094.20,613.40 1088.70,623.20" fill="#22B022" stroke="none"/>
<rect x="1604.80" y="497.80" width="176.60" height="308.50" fill="#FFC2CD"/>
<polygon points="1449.70,652.30 1493.97,571.53 1538.24,604.61 1582.51,633.07 1626.78,640.76 1671.05,540.76 1715.32,544.61 1759.59,621.53 1759.59,663.84 1715.32,583.07 1671.05,579.22 1626.78,679.22 1582.51,667.68 1538.24,632.30 1493.97,602.30 1449.70,652.30" fill="#F5607E" fill-opacity="0.38" stroke="none"/>
<polyline points="1449.70,652.30 1493.97,586.91 1538.24,618.45 1582.51,650.76 1626.78,661.53 1671.05,559.99 1715.32,563.84 1759.59,643.07" fill="none" stroke="#FA6088" stroke-width="2.9" stroke-linejoin="round" stroke-linecap="butt"/>
<polygon points="1449.70,652.30 1493.97,617.68 1538.24,629.22 1582.51,648.45 1626.78,573.07 1671.05,590.76 1715.32,613.84 1759.59,621.53 1759.59,648.45 1715.32,633.07 1671.05,609.99 1626.78,596.14 1582.51,671.53 1538.24,643.84 1493.97,632.30 1449.70,652.30" fill="#8A8A8A" fill-opacity="0.35" stroke="none"/>
<polyline points="1449.70,652.30 1493.97,625.38 1538.24,636.91 1582.51,659.99 1626.78,584.61 1671.05,600.76 1715.32,623.84 1759.59,635.38" fill="none" stroke="#555555" stroke-width="3.2" stroke-linejoin="round" stroke-linecap="butt"/>
<line x1="1428.40" y1="652.40" x2="1783.00" y2="652.40" stroke="#3a3a3a" stroke-width="2.0" stroke-dasharray="10,6.5" stroke-linecap="butt"/>
<line x1="1428.40" y1="497.40" x2="1428.40" y2="807.40" stroke="#000" stroke-width="2.3" stroke-linecap="butt"/>
<line x1="1427.30" y1="806.30" x2="1781.40" y2="806.30" stroke="#000" stroke-width="2.3" stroke-linecap="butt"/>
<line x1="1428.40" y1="498.45" x2="1432.90" y2="498.45" stroke="#000" stroke-width="2.3" stroke-linecap="butt"/>
<line x1="1428.40" y1="575.38" x2="1432.90" y2="575.38" stroke="#000" stroke-width="2.3" stroke-linecap="butt"/>
<line x1="1428.40" y1="652.30" x2="1432.90" y2="652.30" stroke="#000" stroke-width="2.3" stroke-linecap="butt"/>
<line x1="1428.40" y1="729.22" x2="1432.90" y2="729.22" stroke="#000" stroke-width="2.3" stroke-linecap="butt"/>
<line x1="1428.40" y1="806.15" x2="1432.90" y2="806.15" stroke="#000" stroke-width="2.3" stroke-linecap="butt"/>
<line x1="1449.70" y1="806.30" x2="1449.70" y2="801.80" stroke="#000" stroke-width="2.3" stroke-linecap="butt"/>
<line x1="1493.97" y1="806.30" x2="1493.97" y2="801.80" stroke="#000" stroke-width="2.3" stroke-linecap="butt"/>
<line x1="1538.24" y1="806.30" x2="1538.24" y2="801.80" stroke="#000" stroke-width="2.3" stroke-linecap="butt"/>
<line x1="1582.51" y1="806.30" x2="1582.51" y2="801.80" stroke="#000" stroke-width="2.3" stroke-linecap="butt"/>
<line x1="1626.78" y1="806.30" x2="1626.78" y2="801.80" stroke="#000" stroke-width="2.3" stroke-linecap="butt"/>
<line x1="1671.05" y1="806.30" x2="1671.05" y2="801.80" stroke="#000" stroke-width="2.3" stroke-linecap="butt"/>
<line x1="1715.32" y1="806.30" x2="1715.32" y2="801.80" stroke="#000" stroke-width="2.3" stroke-linecap="butt"/>
<line x1="1759.59" y1="806.30" x2="1759.59" y2="801.80" stroke="#000" stroke-width="2.3" stroke-linecap="butt"/>
<line x1="125.80" y1="1024.50" x2="308.00" y2="1024.50" stroke="#000" stroke-width="6.3" stroke-linecap="butt"/>
<line x1="89.40" y1="1062.80" x2="309.40" y2="1062.80" stroke="#555" stroke-width="2.0" stroke-dasharray="10,6.5" stroke-linecap="butt"/>
<polyline points="89.43,1065.35 95.19,1063.60 101.45,1059.84 106.46,1062.85 113.98,1062.85 119.74,1054.08 125.25,1065.35 129.01,1087.90 135.27,1127.98 139.03,1163.05 145.29,1198.12 150.30,1218.16 155.31,1233.19 162.83,1243.21 175.35,1267.00 180.36,1274.52 186.62,1273.27 192.89,1265.75 199.15,1262.75 204.16,1269.51 211.67,1269.51 217.94,1260.74 224.20,1254.48 229.21,1254.48 240.48,1246.96 248.00,1244.46 259.27,1228.93 264.28,1228.68 271.79,1232.69 283.07,1230.18 289.33,1230.68 295.59,1227.68" fill="none" stroke="#A855F7" stroke-width="3.4" stroke-linejoin="round" stroke-linecap="butt"/>
<line x1="89.40" y1="1025.30" x2="89.40" y2="1281.90" stroke="#000" stroke-width="2.3" stroke-linecap="butt"/>
<line x1="88.30" y1="1280.80" x2="308.60" y2="1280.80" stroke="#000" stroke-width="2.3" stroke-linecap="butt"/>
<line x1="125.80" y1="1280.80" x2="125.80" y2="1276.30" stroke="#000" stroke-width="2.3" stroke-linecap="butt"/>
<line x1="198.60" y1="1280.80" x2="198.60" y2="1276.30" stroke="#000" stroke-width="2.3" stroke-linecap="butt"/>
<line x1="271.80" y1="1280.80" x2="271.80" y2="1276.30" stroke="#000" stroke-width="2.3" stroke-linecap="butt"/>
<line x1="455.70" y1="1024.50" x2="638.00" y2="1024.50" stroke="#000" stroke-width="6.3" stroke-linecap="butt"/>
<line x1="419.40" y1="1089.90" x2="639.30" y2="1089.90" stroke="#555" stroke-width="2.0" stroke-dasharray="10,6.5" stroke-linecap="butt"/>
<polyline points="419.37,1090.40 435.15,1089.90 447.68,1089.15 452.69,1091.65 456.44,1097.92 460.20,1107.94 463.96,1122.97 467.72,1135.49 472.73,1148.02 477.74,1158.04 482.75,1166.80 487.76,1173.07 496.52,1181.08 505.29,1188.10 530.34,1204.38 555.39,1218.16 585.45,1233.19 610.50,1243.21 625.53,1250.72" fill="none" stroke="#1FAF1F" stroke-width="3.4" stroke-linejoin="round" stroke-linecap="butt"/>
<polyline points="419.37,1090.40 435.15,1090.40 452.69,1089.15 460.20,1087.90 472.73,1080.38 485.25,1072.87 505.29,1061.59 525.33,1054.83 547.88,1050.32 567.92,1047.31 587.96,1044.81 600.48,1045.31 615.51,1045.31 625.53,1047.31" fill="none" stroke="#E01515" stroke-width="3.4" stroke-linejoin="round" stroke-linecap="butt"/>
<line x1="419.40" y1="1026.50" x2="419.40" y2="1281.90" stroke="#000" stroke-width="2.3" stroke-linecap="butt"/>
<line x1="418.30" y1="1280.80" x2="639.30" y2="1280.80" stroke="#000" stroke-width="2.3" stroke-linecap="butt"/>
<line x1="455.70" y1="1280.80" x2="455.70" y2="1276.30" stroke="#000" stroke-width="2.3" stroke-linecap="butt"/>
<line x1="529.00" y1="1280.80" x2="529.00" y2="1276.30" stroke="#000" stroke-width="2.3" stroke-linecap="butt"/>
<line x1="601.70" y1="1280.80" x2="601.70" y2="1276.30" stroke="#000" stroke-width="2.3" stroke-linecap="butt"/>
<line x1="879.20" y1="1179.30" x2="1086.70" y2="1179.30" stroke="#555" stroke-width="2.0" stroke-dasharray="10,6.5" stroke-linecap="butt"/>
<line x1="879.20" y1="1008.30" x2="879.20" y2="1265.00" stroke="#000" stroke-width="2.3" stroke-linecap="butt"/>
<line x1="878.10" y1="1263.90" x2="1086.70" y2="1263.90" stroke="#000" stroke-width="2.3" stroke-linecap="butt"/>
<line x1="879.20" y1="1221.50" x2="883.70" y2="1221.50" stroke="#000" stroke-width="2.3" stroke-linecap="butt"/>
<line x1="879.20" y1="1179.10" x2="883.70" y2="1179.10" stroke="#000" stroke-width="2.3" stroke-linecap="butt"/>
<line x1="879.20" y1="1136.70" x2="883.70" y2="1136.70" stroke="#000" stroke-width="2.3" stroke-linecap="butt"/>
<line x1="879.20" y1="1094.30" x2="883.70" y2="1094.30" stroke="#000" stroke-width="2.3" stroke-linecap="butt"/>
<line x1="879.20" y1="1051.90" x2="883.70" y2="1051.90" stroke="#000" stroke-width="2.3" stroke-linecap="butt"/>
<line x1="879.20" y1="1009.50" x2="883.70" y2="1009.50" stroke="#000" stroke-width="2.3" stroke-linecap="butt"/>
<line x1="923.30" y1="1263.90" x2="923.30" y2="1259.40" stroke="#000" stroke-width="2.3" stroke-linecap="butt"/>
<line x1="982.00" y1="1263.90" x2="982.00" y2="1259.40" stroke="#000" stroke-width="2.3" stroke-linecap="butt"/>
<line x1="1040.80" y1="1263.90" x2="1040.80" y2="1259.40" stroke="#000" stroke-width="2.3" stroke-linecap="butt"/>
<circle cx="923.30" cy="1183.00" r="4.9" fill="#A020F0"/>
<circle cx="982.00" cy="1091.00" r="4.9" fill="#139A13"/>
<circle cx="1040.80" cy="1057.10" r="4.9" fill="#F01010"/>
<text transform="translate(943.30,1285.50) rotate(-42)" font-family='"Liberation Sans", Arial, sans-serif' font-size="24.50" fill="#000" text-anchor="end">Within-day</text>
<text transform="translate(1001.50,1285.50) rotate(-42)" font-family='"Liberation Sans", Arial, sans-serif' font-size="24.50" fill="#000" text-anchor="end">Across-day</text>
<text transform="translate(1058.30,1285.50) rotate(-42)" font-family='"Liberation Sans", Arial, sans-serif' font-size="24.50" fill="#000" text-anchor="end">Muscimol</text>
<line x1="863.20" y1="946.10" x2="1096.40" y2="946.10" stroke="#000" stroke-width="1.5" stroke-linecap="butt"/>
<line x1="1432.30" y1="1115.80" x2="1795.80" y2="1115.80" stroke="#555" stroke-width="2.0" stroke-dasharray="8,6" stroke-linecap="butt"/>
<circle cx="1518.71" cy="1138.78" r="3.1" fill="#7a7a7a" fill-opacity="0.5"/>
<circle cx="1525.87" cy="1150.59" r="3.1" fill="#7a7a7a" fill-opacity="0.5"/>
<circle cx="1533.49" cy="1126.26" r="3.1" fill="#7a7a7a" fill-opacity="0.5"/>
<circle cx="1491.75" cy="1111.14" r="3.1" fill="#7a7a7a" fill-opacity="0.5"/>
<circle cx="1543.09" cy="1094.96" r="3.1" fill="#7a7a7a" fill-opacity="0.5"/>
<circle cx="1515.37" cy="1118.16" r="3.1" fill="#7a7a7a" fill-opacity="0.5"/>
<circle cx="1526.50" cy="1133.14" r="3.1" fill="#7a7a7a" fill-opacity="0.5"/>
<circle cx="1524.10" cy="1138.39" r="3.1" fill="#7a7a7a" fill-opacity="0.5"/>
<circle cx="1538.13" cy="1103.72" r="3.1" fill="#7a7a7a" fill-opacity="0.5"/>
<circle cx="1538.53" cy="1083.68" r="3.1" fill="#7a7a7a" fill-opacity="0.5"/>
<circle cx="1563.73" cy="1114.48" r="3.1" fill="#7a7a7a" fill-opacity="0.5"/>
<circle cx="1515.57" cy="1148.53" r="3.1" fill="#7a7a7a" fill-opacity="0.5"/>
<circle cx="1505.31" cy="1142.31" r="3.1" fill="#7a7a7a" fill-opacity="0.5"/>
<circle cx="1523.82" cy="1084.47" r="3.1" fill="#7a7a7a" fill-opacity="0.5"/>
<circle cx="1509.21" cy="1116.06" r="3.1" fill="#7a7a7a" fill-opacity="0.5"/>
<circle cx="1534.52" cy="1159.81" r="3.1" fill="#7a7a7a" fill-opacity="0.5"/>
<circle cx="1506.22" cy="1122.54" r="3.1" fill="#7a7a7a" fill-opacity="0.5"/>
<circle cx="1524.11" cy="1146.95" r="3.1" fill="#7a7a7a" fill-opacity="0.5"/>
<circle cx="1539.60" cy="1134.87" r="3.1" fill="#7a7a7a" fill-opacity="0.5"/>
<circle cx="1541.26" cy="1131.68" r="3.1" fill="#7a7a7a" fill-opacity="0.5"/>
<circle cx="1525.74" cy="1136.77" r="3.1" fill="#7a7a7a" fill-opacity="0.5"/>
<circle cx="1548.29" cy="1108.13" r="3.1" fill="#7a7a7a" fill-opacity="0.5"/>
<circle cx="1546.81" cy="1122.07" r="3.1" fill="#7a7a7a" fill-opacity="0.5"/>
<circle cx="1489.76" cy="1133.97" r="3.1" fill="#7a7a7a" fill-opacity="0.5"/>
<circle cx="1528.78" cy="1111.38" r="3.1" fill="#7a7a7a" fill-opacity="0.5"/>
<circle cx="1525.26" cy="1101.88" r="3.1" fill="#7a7a7a" fill-opacity="0.5"/>
<circle cx="1517.38" cy="1157.79" r="3.1" fill="#7a7a7a" fill-opacity="0.5"/>
<circle cx="1509.78" cy="1126.45" r="3.1" fill="#7a7a7a" fill-opacity="0.5"/>
<circle cx="1522.85" cy="1142.82" r="3.1" fill="#7a7a7a" fill-opacity="0.5"/>
<circle cx="1529.59" cy="1124.56" r="3.1" fill="#7a7a7a" fill-opacity="0.5"/>
<circle cx="1518.03" cy="1277.30" r="3.1" fill="#7a7a7a" fill-opacity="0.5"/>
<circle cx="1548.49" cy="1120.18" r="3.1" fill="#7a7a7a" fill-opacity="0.5"/>
<circle cx="1541.35" cy="1121.50" r="3.1" fill="#7a7a7a" fill-opacity="0.5"/>
<circle cx="1510.84" cy="1127.53" r="3.1" fill="#7a7a7a" fill-opacity="0.5"/>
<circle cx="1508.67" cy="1144.34" r="3.1" fill="#7a7a7a" fill-opacity="0.5"/>
<circle cx="1538.48" cy="1129.60" r="3.1" fill="#7a7a7a" fill-opacity="0.5"/>
<circle cx="1520.99" cy="954.30" r="3.1" fill="#7a7a7a" fill-opacity="0.5"/>
<circle cx="1524.87" cy="1151.29" r="3.1" fill="#7a7a7a" fill-opacity="0.5"/>
<circle cx="1531.33" cy="1115.56" r="3.1" fill="#7a7a7a" fill-opacity="0.5"/>
<circle cx="1540.23" cy="1145.73" r="3.1" fill="#7a7a7a" fill-opacity="0.5"/>
<circle cx="1531.08" cy="1094.18" r="3.1" fill="#7a7a7a" fill-opacity="0.5"/>
<circle cx="1548.76" cy="1104.44" r="3.1" fill="#7a7a7a" fill-opacity="0.5"/>
<circle cx="1515.72" cy="1165.82" r="3.1" fill="#7a7a7a" fill-opacity="0.5"/>
<circle cx="1535.05" cy="1114.49" r="3.1" fill="#7a7a7a" fill-opacity="0.5"/>
<circle cx="1510.64" cy="1145.55" r="3.1" fill="#7a7a7a" fill-opacity="0.5"/>
<circle cx="1525.87" cy="1119.90" r="3.1" fill="#7a7a7a" fill-opacity="0.5"/>
<circle cx="1524.67" cy="1119.66" r="3.1" fill="#7a7a7a" fill-opacity="0.5"/>
<circle cx="1509.24" cy="1165.60" r="3.1" fill="#7a7a7a" fill-opacity="0.5"/>
<circle cx="1475.54" cy="1125.92" r="3.1" fill="#7a7a7a" fill-opacity="0.5"/>
<circle cx="1540.74" cy="1126.43" r="3.1" fill="#7a7a7a" fill-opacity="0.5"/>
<circle cx="1528.70" cy="1098.89" r="3.1" fill="#7a7a7a" fill-opacity="0.5"/>
<circle cx="1524.65" cy="1147.36" r="3.1" fill="#7a7a7a" fill-opacity="0.5"/>
<circle cx="1509.42" cy="1103.96" r="3.1" fill="#7a7a7a" fill-opacity="0.5"/>
<circle cx="1516.38" cy="1145.49" r="3.1" fill="#7a7a7a" fill-opacity="0.5"/>
<circle cx="1531.07" cy="1128.14" r="3.1" fill="#7a7a7a" fill-opacity="0.5"/>
<circle cx="1522.63" cy="1139.65" r="3.1" fill="#7a7a7a" fill-opacity="0.5"/>
<circle cx="1541.27" cy="1087.89" r="3.1" fill="#7a7a7a" fill-opacity="0.5"/>
<circle cx="1524.45" cy="1107.80" r="3.1" fill="#7a7a7a" fill-opacity="0.5"/>
<circle cx="1510.98" cy="1065.66" r="3.1" fill="#7a7a7a" fill-opacity="0.5"/>
<circle cx="1525.26" cy="954.30" r="3.1" fill="#7a7a7a" fill-opacity="0.5"/>
<circle cx="1510.76" cy="1101.54" r="3.1" fill="#7a7a7a" fill-opacity="0.5"/>
<circle cx="1526.13" cy="1101.64" r="3.1" fill="#7a7a7a" fill-opacity="0.5"/>
<circle cx="1487.97" cy="1134.36" r="3.1" fill="#7a7a7a" fill-opacity="0.5"/>
<circle cx="1552.37" cy="1277.30" r="3.1" fill="#7a7a7a" fill-opacity="0.5"/>
<circle cx="1531.44" cy="1090.11" r="3.1" fill="#7a7a7a" fill-opacity="0.5"/>
<circle cx="1509.66" cy="1129.61" r="3.1" fill="#7a7a7a" fill-opacity="0.5"/>
<circle cx="1521.61" cy="1116.38" r="3.1" fill="#7a7a7a" fill-opacity="0.5"/>
<circle cx="1533.49" cy="1121.12" r="3.1" fill="#7a7a7a" fill-opacity="0.5"/>
<circle cx="1523.32" cy="1106.87" r="3.1" fill="#7a7a7a" fill-opacity="0.5"/>
<circle cx="1556.41" cy="1128.90" r="3.1" fill="#7a7a7a" fill-opacity="0.5"/>
<circle cx="1517.06" cy="1124.09" r="3.1" fill="#7a7a7a" fill-opacity="0.5"/>
<circle cx="1518.62" cy="1115.16" r="3.1" fill="#7a7a7a" fill-opacity="0.5"/>
<circle cx="1518.96" cy="1118.32" r="3.1" fill="#7a7a7a" fill-opacity="0.5"/>
<circle cx="1485.77" cy="1140.20" r="3.1" fill="#7a7a7a" fill-opacity="0.5"/>
<circle cx="1494.43" cy="1100.39" r="3.1" fill="#7a7a7a" fill-opacity="0.5"/>
<circle cx="1530.92" cy="1150.00" r="3.1" fill="#7a7a7a" fill-opacity="0.5"/>
<circle cx="1516.31" cy="1147.80" r="3.1" fill="#7a7a7a" fill-opacity="0.5"/>
<circle cx="1545.38" cy="1149.64" r="3.1" fill="#7a7a7a" fill-opacity="0.5"/>
<circle cx="1520.59" cy="1098.78" r="3.1" fill="#7a7a7a" fill-opacity="0.5"/>
<circle cx="1518.75" cy="1128.80" r="3.1" fill="#7a7a7a" fill-opacity="0.5"/>
<circle cx="1540.52" cy="1142.60" r="3.1" fill="#7a7a7a" fill-opacity="0.5"/>
<circle cx="1526.79" cy="1146.33" r="3.1" fill="#7a7a7a" fill-opacity="0.5"/>
<circle cx="1552.31" cy="1111.12" r="3.1" fill="#7a7a7a" fill-opacity="0.5"/>
<circle cx="1503.23" cy="1144.49" r="3.1" fill="#7a7a7a" fill-opacity="0.5"/>
<circle cx="1529.40" cy="1149.41" r="3.1" fill="#7a7a7a" fill-opacity="0.5"/>
<circle cx="1534.64" cy="1106.76" r="3.1" fill="#7a7a7a" fill-opacity="0.5"/>
<circle cx="1531.56" cy="1147.70" r="3.1" fill="#7a7a7a" fill-opacity="0.5"/>
<circle cx="1544.25" cy="1127.94" r="3.1" fill="#7a7a7a" fill-opacity="0.5"/>
<circle cx="1541.97" cy="1120.80" r="3.1" fill="#7a7a7a" fill-opacity="0.5"/>
<circle cx="1544.94" cy="1277.30" r="3.1" fill="#7a7a7a" fill-opacity="0.5"/>
<circle cx="1511.43" cy="1121.87" r="3.1" fill="#7a7a7a" fill-opacity="0.5"/>
<circle cx="1538.62" cy="1090.38" r="3.1" fill="#7a7a7a" fill-opacity="0.5"/>
<circle cx="1523.27" cy="1132.33" r="3.1" fill="#7a7a7a" fill-opacity="0.5"/>
<circle cx="1538.57" cy="1149.12" r="3.1" fill="#7a7a7a" fill-opacity="0.5"/>
<circle cx="1541.75" cy="1162.17" r="3.1" fill="#7a7a7a" fill-opacity="0.5"/>
<circle cx="1526.49" cy="1125.27" r="3.1" fill="#7a7a7a" fill-opacity="0.5"/>
<circle cx="1505.36" cy="1128.61" r="3.1" fill="#7a7a7a" fill-opacity="0.5"/>
<circle cx="1496.81" cy="954.30" r="3.1" fill="#7a7a7a" fill-opacity="0.5"/>
<circle cx="1537.91" cy="1131.14" r="3.1" fill="#7a7a7a" fill-opacity="0.5"/>
<circle cx="1518.37" cy="1131.47" r="3.1" fill="#7a7a7a" fill-opacity="0.5"/>
<circle cx="1544.97" cy="1136.95" r="3.1" fill="#7a7a7a" fill-opacity="0.5"/>
<circle cx="1523.83" cy="1132.40" r="3.1" fill="#7a7a7a" fill-opacity="0.5"/>
<circle cx="1525.69" cy="1117.02" r="3.1" fill="#7a7a7a" fill-opacity="0.5"/>
<circle cx="1511.19" cy="1129.24" r="3.1" fill="#7a7a7a" fill-opacity="0.5"/>
<circle cx="1521.34" cy="1118.37" r="3.1" fill="#7a7a7a" fill-opacity="0.5"/>
<circle cx="1539.34" cy="1077.66" r="3.1" fill="#7a7a7a" fill-opacity="0.5"/>
<circle cx="1516.79" cy="1109.81" r="3.1" fill="#7a7a7a" fill-opacity="0.5"/>
<circle cx="1517.71" cy="1156.28" r="3.1" fill="#7a7a7a" fill-opacity="0.5"/>
<circle cx="1510.74" cy="1081.45" r="3.1" fill="#7a7a7a" fill-opacity="0.5"/>
<circle cx="1537.95" cy="1112.78" r="3.1" fill="#7a7a7a" fill-opacity="0.5"/>
<circle cx="1495.45" cy="1141.93" r="3.1" fill="#7a7a7a" fill-opacity="0.5"/>
<circle cx="1511.21" cy="1100.14" r="3.1" fill="#7a7a7a" fill-opacity="0.5"/>
<circle cx="1540.54" cy="1120.25" r="3.1" fill="#7a7a7a" fill-opacity="0.5"/>
<circle cx="1549.81" cy="1134.56" r="3.1" fill="#7a7a7a" fill-opacity="0.5"/>
<circle cx="1518.68" cy="1134.97" r="3.1" fill="#7a7a7a" fill-opacity="0.5"/>
<circle cx="1540.06" cy="1143.11" r="3.1" fill="#7a7a7a" fill-opacity="0.5"/>
<circle cx="1484.60" cy="1119.56" r="3.1" fill="#7a7a7a" fill-opacity="0.5"/>
<circle cx="1535.95" cy="1096.48" r="3.1" fill="#7a7a7a" fill-opacity="0.5"/>
<circle cx="1528.38" cy="1127.99" r="3.1" fill="#7a7a7a" fill-opacity="0.5"/>
<circle cx="1499.60" cy="1111.13" r="3.1" fill="#7a7a7a" fill-opacity="0.5"/>
<circle cx="1495.54" cy="1078.24" r="3.1" fill="#7a7a7a" fill-opacity="0.5"/>
<circle cx="1513.90" cy="1148.11" r="3.1" fill="#7a7a7a" fill-opacity="0.5"/>
<circle cx="1527.61" cy="1114.82" r="3.1" fill="#7a7a7a" fill-opacity="0.5"/>
<circle cx="1529.76" cy="1127.57" r="3.1" fill="#7a7a7a" fill-opacity="0.5"/>
<circle cx="1524.52" cy="1144.59" r="3.1" fill="#7a7a7a" fill-opacity="0.5"/>
<circle cx="1536.31" cy="1143.84" r="3.1" fill="#7a7a7a" fill-opacity="0.5"/>
<circle cx="1536.15" cy="1120.99" r="3.1" fill="#7a7a7a" fill-opacity="0.5"/>
<circle cx="1496.49" cy="1110.84" r="3.1" fill="#7a7a7a" fill-opacity="0.5"/>
<circle cx="1515.30" cy="1132.66" r="3.1" fill="#7a7a7a" fill-opacity="0.5"/>
<circle cx="1512.74" cy="1119.42" r="3.1" fill="#7a7a7a" fill-opacity="0.5"/>
<circle cx="1541.38" cy="1104.32" r="3.1" fill="#7a7a7a" fill-opacity="0.5"/>
<circle cx="1513.18" cy="1113.94" r="3.1" fill="#7a7a7a" fill-opacity="0.5"/>
<circle cx="1540.64" cy="1101.00" r="3.1" fill="#7a7a7a" fill-opacity="0.5"/>
<circle cx="1524.27" cy="1110.21" r="3.1" fill="#7a7a7a" fill-opacity="0.5"/>
<circle cx="1566.23" cy="1109.61" r="3.1" fill="#7a7a7a" fill-opacity="0.5"/>
<circle cx="1521.59" cy="1079.34" r="3.1" fill="#7a7a7a" fill-opacity="0.5"/>
<circle cx="1522.60" cy="1106.56" r="3.1" fill="#7a7a7a" fill-opacity="0.5"/>
<circle cx="1520.41" cy="1117.72" r="3.1" fill="#7a7a7a" fill-opacity="0.5"/>
<circle cx="1525.21" cy="1104.59" r="3.1" fill="#7a7a7a" fill-opacity="0.5"/>
<circle cx="1564.79" cy="1141.43" r="3.1" fill="#7a7a7a" fill-opacity="0.5"/>
<circle cx="1512.85" cy="1128.28" r="3.1" fill="#7a7a7a" fill-opacity="0.5"/>
<circle cx="1506.60" cy="1102.71" r="3.1" fill="#7a7a7a" fill-opacity="0.5"/>
<circle cx="1518.81" cy="1106.38" r="3.1" fill="#7a7a7a" fill-opacity="0.5"/>
<circle cx="1533.19" cy="1085.64" r="3.1" fill="#7a7a7a" fill-opacity="0.5"/>
<circle cx="1503.43" cy="1120.41" r="3.1" fill="#7a7a7a" fill-opacity="0.5"/>
<circle cx="1535.11" cy="1153.71" r="3.1" fill="#7a7a7a" fill-opacity="0.5"/>
<circle cx="1533.60" cy="1076.62" r="3.1" fill="#7a7a7a" fill-opacity="0.5"/>
<circle cx="1519.46" cy="1095.93" r="3.1" fill="#7a7a7a" fill-opacity="0.5"/>
<circle cx="1517.87" cy="1144.58" r="3.1" fill="#7a7a7a" fill-opacity="0.5"/>
<circle cx="1509.13" cy="1089.54" r="3.1" fill="#7a7a7a" fill-opacity="0.5"/>
<circle cx="1517.09" cy="1119.91" r="3.1" fill="#7a7a7a" fill-opacity="0.5"/>
<circle cx="1510.54" cy="1161.66" r="3.1" fill="#7a7a7a" fill-opacity="0.5"/>
<circle cx="1546.17" cy="1130.15" r="3.1" fill="#7a7a7a" fill-opacity="0.5"/>
<circle cx="1553.34" cy="1132.15" r="3.1" fill="#7a7a7a" fill-opacity="0.5"/>
<circle cx="1517.63" cy="1084.68" r="3.1" fill="#7a7a7a" fill-opacity="0.5"/>
<circle cx="1521.51" cy="1138.55" r="3.1" fill="#7a7a7a" fill-opacity="0.5"/>
<circle cx="1485.66" cy="1126.38" r="3.1" fill="#7a7a7a" fill-opacity="0.5"/>
<circle cx="1512.06" cy="1126.90" r="3.1" fill="#7a7a7a" fill-opacity="0.5"/>
<circle cx="1528.75" cy="1129.21" r="3.1" fill="#7a7a7a" fill-opacity="0.5"/>
<circle cx="1527.15" cy="1141.31" r="3.1" fill="#7a7a7a" fill-opacity="0.5"/>
<circle cx="1524.56" cy="1115.69" r="3.1" fill="#7a7a7a" fill-opacity="0.5"/>
<circle cx="1536.94" cy="1096.30" r="3.1" fill="#7a7a7a" fill-opacity="0.5"/>
<circle cx="1523.85" cy="1106.54" r="3.1" fill="#7a7a7a" fill-opacity="0.5"/>
<circle cx="1515.10" cy="1141.62" r="3.1" fill="#7a7a7a" fill-opacity="0.5"/>
<circle cx="1549.93" cy="1146.64" r="3.1" fill="#7a7a7a" fill-opacity="0.5"/>
<circle cx="1485.32" cy="1117.96" r="3.1" fill="#7a7a7a" fill-opacity="0.5"/>
<circle cx="1500.47" cy="1136.62" r="3.1" fill="#7a7a7a" fill-opacity="0.5"/>
<circle cx="1508.17" cy="1134.89" r="3.1" fill="#7a7a7a" fill-opacity="0.5"/>
<circle cx="1510.94" cy="1158.62" r="3.1" fill="#7a7a7a" fill-opacity="0.5"/>
<circle cx="1510.40" cy="1076.54" r="3.1" fill="#7a7a7a" fill-opacity="0.5"/>
<circle cx="1517.94" cy="1099.92" r="3.1" fill="#7a7a7a" fill-opacity="0.5"/>
<circle cx="1509.12" cy="1142.67" r="3.1" fill="#7a7a7a" fill-opacity="0.5"/>
<circle cx="1520.88" cy="1100.11" r="3.1" fill="#7a7a7a" fill-opacity="0.5"/>
<circle cx="1531.73" cy="1090.29" r="3.1" fill="#7a7a7a" fill-opacity="0.5"/>
<circle cx="1522.09" cy="1174.67" r="3.1" fill="#7a7a7a" fill-opacity="0.5"/>
<circle cx="1524.35" cy="1133.06" r="3.1" fill="#7a7a7a" fill-opacity="0.5"/>
<circle cx="1503.87" cy="1129.42" r="3.1" fill="#7a7a7a" fill-opacity="0.5"/>
<circle cx="1500.80" cy="1105.99" r="3.1" fill="#7a7a7a" fill-opacity="0.5"/>
<circle cx="1516.13" cy="1123.39" r="3.1" fill="#7a7a7a" fill-opacity="0.5"/>
<circle cx="1539.57" cy="1125.86" r="3.1" fill="#7a7a7a" fill-opacity="0.5"/>
<circle cx="1528.97" cy="1121.96" r="3.1" fill="#7a7a7a" fill-opacity="0.5"/>
<circle cx="1538.14" cy="1078.74" r="3.1" fill="#7a7a7a" fill-opacity="0.5"/>
<circle cx="1497.13" cy="1277.30" r="3.1" fill="#7a7a7a" fill-opacity="0.5"/>
<circle cx="1537.02" cy="954.30" r="3.1" fill="#7a7a7a" fill-opacity="0.5"/>
<circle cx="1507.09" cy="1141.59" r="3.1" fill="#7a7a7a" fill-opacity="0.5"/>
<circle cx="1537.57" cy="1059.77" r="3.1" fill="#7a7a7a" fill-opacity="0.5"/>
<circle cx="1535.27" cy="1142.80" r="3.1" fill="#7a7a7a" fill-opacity="0.5"/>
<circle cx="1560.92" cy="1133.61" r="3.1" fill="#7a7a7a" fill-opacity="0.5"/>
<circle cx="1533.02" cy="1119.82" r="3.1" fill="#7a7a7a" fill-opacity="0.5"/>
<circle cx="1527.80" cy="1109.72" r="3.1" fill="#7a7a7a" fill-opacity="0.5"/>
<circle cx="1519.43" cy="1097.38" r="3.1" fill="#7a7a7a" fill-opacity="0.5"/>
<circle cx="1524.82" cy="1111.81" r="3.1" fill="#7a7a7a" fill-opacity="0.5"/>
<circle cx="1491.60" cy="1140.37" r="3.1" fill="#7a7a7a" fill-opacity="0.5"/>
<circle cx="1517.06" cy="1109.20" r="3.1" fill="#7a7a7a" fill-opacity="0.5"/>
<circle cx="1521.00" cy="1114.99" r="3.1" fill="#7a7a7a" fill-opacity="0.5"/>
<circle cx="1536.57" cy="1078.21" r="3.1" fill="#7a7a7a" fill-opacity="0.5"/>
<circle cx="1509.14" cy="1120.98" r="3.1" fill="#7a7a7a" fill-opacity="0.5"/>
<circle cx="1523.89" cy="1150.87" r="3.1" fill="#7a7a7a" fill-opacity="0.5"/>
<circle cx="1553.98" cy="1144.27" r="3.1" fill="#7a7a7a" fill-opacity="0.5"/>
<circle cx="1513.04" cy="1087.86" r="3.1" fill="#7a7a7a" fill-opacity="0.5"/>
<circle cx="1537.67" cy="1132.86" r="3.1" fill="#7a7a7a" fill-opacity="0.5"/>
<circle cx="1514.57" cy="1168.23" r="3.1" fill="#7a7a7a" fill-opacity="0.5"/>
<circle cx="1519.85" cy="1133.77" r="3.1" fill="#7a7a7a" fill-opacity="0.5"/>
<circle cx="1530.57" cy="1120.64" r="3.1" fill="#7a7a7a" fill-opacity="0.5"/>
<circle cx="1536.81" cy="1093.77" r="3.1" fill="#7a7a7a" fill-opacity="0.5"/>
<circle cx="1512.98" cy="1143.58" r="3.1" fill="#7a7a7a" fill-opacity="0.5"/>
<circle cx="1502.99" cy="1105.57" r="3.1" fill="#7a7a7a" fill-opacity="0.5"/>
<circle cx="1549.15" cy="1102.66" r="3.1" fill="#7a7a7a" fill-opacity="0.5"/>
<circle cx="1525.21" cy="1136.46" r="3.1" fill="#7a7a7a" fill-opacity="0.5"/>
<circle cx="1536.96" cy="1124.89" r="3.1" fill="#7a7a7a" fill-opacity="0.5"/>
<circle cx="1535.70" cy="1080.64" r="3.1" fill="#7a7a7a" fill-opacity="0.5"/>
<circle cx="1533.44" cy="1081.74" r="3.1" fill="#7a7a7a" fill-opacity="0.5"/>
<circle cx="1507.96" cy="954.30" r="3.1" fill="#7a7a7a" fill-opacity="0.5"/>
<circle cx="1519.18" cy="1113.14" r="3.1" fill="#7a7a7a" fill-opacity="0.5"/>
<circle cx="1494.98" cy="1094.91" r="3.1" fill="#7a7a7a" fill-opacity="0.5"/>
<circle cx="1525.20" cy="1123.83" r="3.1" fill="#7a7a7a" fill-opacity="0.5"/>
<circle cx="1512.77" cy="1122.80" r="3.1" fill="#7a7a7a" fill-opacity="0.5"/>
<circle cx="1521.32" cy="1140.10" r="3.1" fill="#7a7a7a" fill-opacity="0.5"/>
<circle cx="1557.45" cy="1120.52" r="3.1" fill="#7a7a7a" fill-opacity="0.5"/>
<circle cx="1534.90" cy="1122.50" r="3.1" fill="#7a7a7a" fill-opacity="0.5"/>
<circle cx="1522.34" cy="1057.93" r="3.1" fill="#7a7a7a" fill-opacity="0.5"/>
<circle cx="1495.76" cy="1125.01" r="3.1" fill="#7a7a7a" fill-opacity="0.5"/>
<circle cx="1533.97" cy="1091.91" r="3.1" fill="#7a7a7a" fill-opacity="0.5"/>
<circle cx="1547.07" cy="1090.79" r="3.1" fill="#7a7a7a" fill-opacity="0.5"/>
<circle cx="1506.04" cy="1124.86" r="3.1" fill="#7a7a7a" fill-opacity="0.5"/>
<circle cx="1528.97" cy="1094.20" r="3.1" fill="#7a7a7a" fill-opacity="0.5"/>
<circle cx="1514.96" cy="1169.86" r="3.1" fill="#7a7a7a" fill-opacity="0.5"/>
<circle cx="1518.87" cy="1118.50" r="3.1" fill="#7a7a7a" fill-opacity="0.5"/>
<circle cx="1515.21" cy="1101.26" r="3.1" fill="#7a7a7a" fill-opacity="0.5"/>
<circle cx="1501.74" cy="1174.86" r="3.1" fill="#7a7a7a" fill-opacity="0.5"/>
<circle cx="1512.94" cy="1146.85" r="3.1" fill="#7a7a7a" fill-opacity="0.5"/>
<circle cx="1493.64" cy="1096.77" r="3.1" fill="#7a7a7a" fill-opacity="0.5"/>
<circle cx="1548.09" cy="1126.46" r="3.1" fill="#7a7a7a" fill-opacity="0.5"/>
<circle cx="1539.77" cy="1145.48" r="3.1" fill="#7a7a7a" fill-opacity="0.5"/>
<circle cx="1522.56" cy="1129.09" r="3.1" fill="#7a7a7a" fill-opacity="0.5"/>
<circle cx="1526.96" cy="1132.91" r="3.1" fill="#7a7a7a" fill-opacity="0.5"/>
<circle cx="1512.50" cy="954.30" r="3.1" fill="#7a7a7a" fill-opacity="0.5"/>
<circle cx="1525.41" cy="1110.38" r="3.1" fill="#7a7a7a" fill-opacity="0.5"/>
<circle cx="1525.45" cy="1126.98" r="3.1" fill="#7a7a7a" fill-opacity="0.5"/>
<circle cx="1517.29" cy="1135.69" r="3.1" fill="#7a7a7a" fill-opacity="0.5"/>
<circle cx="1518.57" cy="1121.86" r="3.1" fill="#7a7a7a" fill-opacity="0.5"/>
<circle cx="1499.44" cy="1090.68" r="3.1" fill="#7a7a7a" fill-opacity="0.5"/>
<circle cx="1503.02" cy="1112.75" r="3.1" fill="#7a7a7a" fill-opacity="0.5"/>
<circle cx="1510.68" cy="1106.20" r="3.1" fill="#7a7a7a" fill-opacity="0.5"/>
<circle cx="1525.68" cy="1124.05" r="3.1" fill="#7a7a7a" fill-opacity="0.5"/>
<circle cx="1515.55" cy="1149.85" r="3.1" fill="#7a7a7a" fill-opacity="0.5"/>
<circle cx="1556.80" cy="1136.72" r="3.1" fill="#7a7a7a" fill-opacity="0.5"/>
<circle cx="1518.29" cy="1105.92" r="3.1" fill="#7a7a7a" fill-opacity="0.5"/>
<circle cx="1515.00" cy="1118.31" r="3.1" fill="#7a7a7a" fill-opacity="0.5"/>
<circle cx="1529.48" cy="1141.08" r="3.1" fill="#7a7a7a" fill-opacity="0.5"/>
<circle cx="1537.27" cy="1157.23" r="3.1" fill="#7a7a7a" fill-opacity="0.5"/>
<circle cx="1556.75" cy="1118.14" r="3.1" fill="#7a7a7a" fill-opacity="0.5"/>
<circle cx="1540.19" cy="1128.32" r="3.1" fill="#7a7a7a" fill-opacity="0.5"/>
<circle cx="1510.66" cy="1128.57" r="3.1" fill="#7a7a7a" fill-opacity="0.5"/>
<circle cx="1518.57" cy="1128.09" r="3.1" fill="#7a7a7a" fill-opacity="0.5"/>
<circle cx="1541.46" cy="1114.23" r="3.1" fill="#7a7a7a" fill-opacity="0.5"/>
<circle cx="1526.63" cy="1113.99" r="3.1" fill="#7a7a7a" fill-opacity="0.5"/>
<circle cx="1535.78" cy="1098.89" r="3.1" fill="#7a7a7a" fill-opacity="0.5"/>
<circle cx="1520.50" cy="1099.65" r="3.1" fill="#7a7a7a" fill-opacity="0.5"/>
<circle cx="1548.20" cy="1090.53" r="3.1" fill="#7a7a7a" fill-opacity="0.5"/>
<circle cx="1547.64" cy="1102.41" r="3.1" fill="#7a7a7a" fill-opacity="0.5"/>
<circle cx="1543.12" cy="1128.23" r="3.1" fill="#7a7a7a" fill-opacity="0.5"/>
<circle cx="1524.87" cy="1121.87" r="3.1" fill="#7a7a7a" fill-opacity="0.5"/>
<circle cx="1492.26" cy="1109.47" r="3.1" fill="#7a7a7a" fill-opacity="0.5"/>
<circle cx="1499.92" cy="1277.30" r="3.1" fill="#7a7a7a" fill-opacity="0.5"/>
<circle cx="1527.90" cy="1108.22" r="3.1" fill="#7a7a7a" fill-opacity="0.5"/>
<circle cx="1533.00" cy="1094.56" r="3.1" fill="#7a7a7a" fill-opacity="0.5"/>
<circle cx="1477.44" cy="1138.76" r="3.1" fill="#7a7a7a" fill-opacity="0.5"/>
<circle cx="1515.04" cy="1160.67" r="3.1" fill="#7a7a7a" fill-opacity="0.5"/>
<circle cx="1541.33" cy="1093.66" r="3.1" fill="#7a7a7a" fill-opacity="0.5"/>
<circle cx="1491.65" cy="954.30" r="3.1" fill="#7a7a7a" fill-opacity="0.5"/>
<circle cx="1513.04" cy="1104.62" r="3.1" fill="#7a7a7a" fill-opacity="0.5"/>
<circle cx="1532.33" cy="1150.77" r="3.1" fill="#7a7a7a" fill-opacity="0.5"/>
<circle cx="1522.39" cy="1081.46" r="3.1" fill="#7a7a7a" fill-opacity="0.5"/>
<circle cx="1518.10" cy="1103.94" r="3.1" fill="#7a7a7a" fill-opacity="0.5"/>
<circle cx="1543.20" cy="1123.50" r="3.1" fill="#7a7a7a" fill-opacity="0.5"/>
<circle cx="1543.49" cy="1128.60" r="3.1" fill="#7a7a7a" fill-opacity="0.5"/>
<circle cx="1512.20" cy="1118.07" r="3.1" fill="#7a7a7a" fill-opacity="0.5"/>
<circle cx="1504.23" cy="1124.41" r="3.1" fill="#7a7a7a" fill-opacity="0.5"/>
<circle cx="1497.44" cy="1126.95" r="3.1" fill="#7a7a7a" fill-opacity="0.5"/>
<circle cx="1497.71" cy="1145.96" r="3.1" fill="#7a7a7a" fill-opacity="0.5"/>
<circle cx="1544.21" cy="1092.09" r="3.1" fill="#7a7a7a" fill-opacity="0.5"/>
<circle cx="1557.50" cy="1121.54" r="3.1" fill="#7a7a7a" fill-opacity="0.5"/>
<circle cx="1526.13" cy="1118.96" r="3.1" fill="#7a7a7a" fill-opacity="0.5"/>
<circle cx="1541.95" cy="1118.54" r="3.1" fill="#7a7a7a" fill-opacity="0.5"/>
<circle cx="1513.51" cy="1173.96" r="3.1" fill="#7a7a7a" fill-opacity="0.5"/>
<circle cx="1520.91" cy="1108.73" r="3.1" fill="#7a7a7a" fill-opacity="0.5"/>
<circle cx="1539.43" cy="1128.09" r="3.1" fill="#7a7a7a" fill-opacity="0.5"/>
<circle cx="1528.15" cy="1127.18" r="3.1" fill="#7a7a7a" fill-opacity="0.5"/>
<circle cx="1521.55" cy="1119.07" r="3.1" fill="#7a7a7a" fill-opacity="0.5"/>
<circle cx="1492.93" cy="1142.63" r="3.1" fill="#7a7a7a" fill-opacity="0.5"/>
<circle cx="1496.51" cy="1101.58" r="3.1" fill="#7a7a7a" fill-opacity="0.5"/>
<circle cx="1514.63" cy="1136.38" r="3.1" fill="#7a7a7a" fill-opacity="0.5"/>
<circle cx="1512.35" cy="1141.08" r="3.1" fill="#7a7a7a" fill-opacity="0.5"/>
<circle cx="1520.88" cy="1140.14" r="3.1" fill="#7a7a7a" fill-opacity="0.5"/>
<circle cx="1510.29" cy="1117.06" r="3.1" fill="#7a7a7a" fill-opacity="0.5"/>
<circle cx="1518.31" cy="1103.78" r="3.1" fill="#7a7a7a" fill-opacity="0.5"/>
<circle cx="1523.35" cy="1134.10" r="3.1" fill="#7a7a7a" fill-opacity="0.5"/>
<circle cx="1530.09" cy="1154.79" r="3.1" fill="#7a7a7a" fill-opacity="0.5"/>
<circle cx="1523.30" cy="1096.62" r="3.1" fill="#7a7a7a" fill-opacity="0.5"/>
<circle cx="1512.70" cy="1144.73" r="3.1" fill="#7a7a7a" fill-opacity="0.5"/>
<circle cx="1517.48" cy="1093.63" r="3.1" fill="#7a7a7a" fill-opacity="0.5"/>
<circle cx="1539.25" cy="1121.87" r="3.1" fill="#7a7a7a" fill-opacity="0.5"/>
<circle cx="1518.42" cy="1136.43" r="3.1" fill="#7a7a7a" fill-opacity="0.5"/>
<circle cx="1504.41" cy="1135.12" r="3.1" fill="#7a7a7a" fill-opacity="0.5"/>
<circle cx="1503.69" cy="1110.20" r="3.1" fill="#7a7a7a" fill-opacity="0.5"/>
<circle cx="1527.10" cy="1100.54" r="3.1" fill="#7a7a7a" fill-opacity="0.5"/>
<circle cx="1532.69" cy="1125.13" r="3.1" fill="#7a7a7a" fill-opacity="0.5"/>
<circle cx="1543.39" cy="1099.23" r="3.1" fill="#7a7a7a" fill-opacity="0.5"/>
<circle cx="1517.46" cy="1073.46" r="3.1" fill="#7a7a7a" fill-opacity="0.5"/>
<circle cx="1548.02" cy="1125.35" r="3.1" fill="#7a7a7a" fill-opacity="0.5"/>
<circle cx="1516.18" cy="1146.63" r="3.1" fill="#7a7a7a" fill-opacity="0.5"/>
<circle cx="1518.05" cy="1144.48" r="3.1" fill="#7a7a7a" fill-opacity="0.5"/>
<circle cx="1512.94" cy="1152.08" r="3.1" fill="#7a7a7a" fill-opacity="0.5"/>
<circle cx="1531.71" cy="1135.11" r="3.1" fill="#7a7a7a" fill-opacity="0.5"/>
<circle cx="1541.13" cy="1137.01" r="3.1" fill="#7a7a7a" fill-opacity="0.5"/>
<circle cx="1521.58" cy="1150.61" r="3.1" fill="#7a7a7a" fill-opacity="0.5"/>
<circle cx="1512.92" cy="1108.66" r="3.1" fill="#7a7a7a" fill-opacity="0.5"/>
<circle cx="1503.64" cy="1179.69" r="3.1" fill="#7a7a7a" fill-opacity="0.5"/>
<circle cx="1524.38" cy="1150.51" r="3.1" fill="#7a7a7a" fill-opacity="0.5"/>
<circle cx="1517.00" cy="1075.08" r="3.1" fill="#7a7a7a" fill-opacity="0.5"/>
<circle cx="1518.52" cy="1097.18" r="3.1" fill="#7a7a7a" fill-opacity="0.5"/>
<circle cx="1510.50" cy="1108.82" r="3.1" fill="#7a7a7a" fill-opacity="0.5"/>
<circle cx="1505.95" cy="1110.31" r="3.1" fill="#7a7a7a" fill-opacity="0.5"/>
<circle cx="1502.16" cy="954.30" r="3.1" fill="#7a7a7a" fill-opacity="0.5"/>
<circle cx="1530.10" cy="1108.53" r="3.1" fill="#7a7a7a" fill-opacity="0.5"/>
<circle cx="1539.88" cy="1118.89" r="3.1" fill="#7a7a7a" fill-opacity="0.5"/>
<circle cx="1521.69" cy="1148.46" r="3.1" fill="#7a7a7a" fill-opacity="0.5"/>
<circle cx="1527.99" cy="1122.31" r="3.1" fill="#7a7a7a" fill-opacity="0.5"/>
<circle cx="1518.33" cy="1137.24" r="3.1" fill="#7a7a7a" fill-opacity="0.5"/>
<circle cx="1519.63" cy="1136.61" r="3.1" fill="#7a7a7a" fill-opacity="0.5"/>
<circle cx="1497.04" cy="1136.79" r="3.1" fill="#7a7a7a" fill-opacity="0.5"/>
<circle cx="1537.94" cy="954.30" r="3.1" fill="#7a7a7a" fill-opacity="0.5"/>
<circle cx="1533.04" cy="1128.10" r="3.1" fill="#7a7a7a" fill-opacity="0.5"/>
<circle cx="1547.37" cy="1100.95" r="3.1" fill="#7a7a7a" fill-opacity="0.5"/>
<circle cx="1511.92" cy="1150.63" r="3.1" fill="#7a7a7a" fill-opacity="0.5"/>
<circle cx="1524.29" cy="1124.48" r="3.1" fill="#7a7a7a" fill-opacity="0.5"/>
<circle cx="1508.21" cy="1078.60" r="3.1" fill="#7a7a7a" fill-opacity="0.5"/>
<circle cx="1526.39" cy="1119.77" r="3.1" fill="#7a7a7a" fill-opacity="0.5"/>
<circle cx="1519.80" cy="1093.54" r="3.1" fill="#7a7a7a" fill-opacity="0.5"/>
<circle cx="1533.25" cy="1094.94" r="3.1" fill="#7a7a7a" fill-opacity="0.5"/>
<circle cx="1519.47" cy="1090.88" r="3.1" fill="#7a7a7a" fill-opacity="0.5"/>
<circle cx="1533.32" cy="1103.96" r="3.1" fill="#7a7a7a" fill-opacity="0.5"/>
<circle cx="1514.02" cy="1151.86" r="3.1" fill="#7a7a7a" fill-opacity="0.5"/>
<circle cx="1533.04" cy="1126.69" r="3.1" fill="#7a7a7a" fill-opacity="0.5"/>
<circle cx="1516.28" cy="1129.24" r="3.1" fill="#7a7a7a" fill-opacity="0.5"/>
<circle cx="1515.19" cy="1155.66" r="3.1" fill="#7a7a7a" fill-opacity="0.5"/>
<circle cx="1523.55" cy="1131.13" r="3.1" fill="#7a7a7a" fill-opacity="0.5"/>
<circle cx="1527.94" cy="1148.91" r="3.1" fill="#7a7a7a" fill-opacity="0.5"/>
<circle cx="1501.10" cy="1158.30" r="3.1" fill="#7a7a7a" fill-opacity="0.5"/>
<circle cx="1493.79" cy="1115.88" r="3.1" fill="#7a7a7a" fill-opacity="0.5"/>
<circle cx="1525.47" cy="1121.63" r="3.1" fill="#7a7a7a" fill-opacity="0.5"/>
<circle cx="1520.90" cy="1136.20" r="3.1" fill="#7a7a7a" fill-opacity="0.5"/>
<circle cx="1486.29" cy="1142.14" r="3.1" fill="#7a7a7a" fill-opacity="0.5"/>
<circle cx="1490.54" cy="1132.88" r="3.1" fill="#7a7a7a" fill-opacity="0.5"/>
<circle cx="1507.66" cy="1129.56" r="3.1" fill="#7a7a7a" fill-opacity="0.5"/>
<circle cx="1527.90" cy="1129.87" r="3.1" fill="#7a7a7a" fill-opacity="0.5"/>
<circle cx="1525.78" cy="1121.84" r="3.1" fill="#7a7a7a" fill-opacity="0.5"/>
<circle cx="1540.66" cy="1130.49" r="3.1" fill="#7a7a7a" fill-opacity="0.5"/>
<circle cx="1543.45" cy="1111.90" r="3.1" fill="#7a7a7a" fill-opacity="0.5"/>
<circle cx="1564.95" cy="1108.82" r="3.1" fill="#7a7a7a" fill-opacity="0.5"/>
<circle cx="1495.46" cy="1112.55" r="3.1" fill="#7a7a7a" fill-opacity="0.5"/>
<circle cx="1521.24" cy="1135.64" r="3.1" fill="#7a7a7a" fill-opacity="0.5"/>
<circle cx="1541.49" cy="1134.58" r="3.1" fill="#7a7a7a" fill-opacity="0.5"/>
<circle cx="1499.02" cy="1110.81" r="3.1" fill="#7a7a7a" fill-opacity="0.5"/>
<circle cx="1495.61" cy="1125.10" r="3.1" fill="#7a7a7a" fill-opacity="0.5"/>
<circle cx="1525.69" cy="1121.62" r="3.1" fill="#7a7a7a" fill-opacity="0.5"/>
<circle cx="1534.91" cy="1176.99" r="3.1" fill="#7a7a7a" fill-opacity="0.5"/>
<circle cx="1536.39" cy="1181.69" r="3.1" fill="#7a7a7a" fill-opacity="0.5"/>
<circle cx="1489.24" cy="1113.02" r="3.1" fill="#7a7a7a" fill-opacity="0.5"/>
<circle cx="1499.60" cy="1113.19" r="3.1" fill="#7a7a7a" fill-opacity="0.5"/>
<circle cx="1520.38" cy="1089.14" r="3.1" fill="#7a7a7a" fill-opacity="0.5"/>
<circle cx="1512.56" cy="1104.34" r="3.1" fill="#7a7a7a" fill-opacity="0.5"/>
<circle cx="1528.00" cy="1115.63" r="3.1" fill="#7a7a7a" fill-opacity="0.5"/>
<circle cx="1524.52" cy="1120.28" r="3.1" fill="#7a7a7a" fill-opacity="0.5"/>
<circle cx="1549.70" cy="1152.90" r="3.1" fill="#7a7a7a" fill-opacity="0.5"/>
<circle cx="1520.90" cy="1100.68" r="3.1" fill="#7a7a7a" fill-opacity="0.5"/>
<circle cx="1525.38" cy="1134.29" r="3.1" fill="#7a7a7a" fill-opacity="0.5"/>
<circle cx="1523.41" cy="1109.28" r="3.1" fill="#7a7a7a" fill-opacity="0.5"/>
<circle cx="1542.60" cy="1116.12" r="3.1" fill="#7a7a7a" fill-opacity="0.5"/>
<circle cx="1501.47" cy="1114.49" r="3.1" fill="#7a7a7a" fill-opacity="0.5"/>
<circle cx="1528.76" cy="1100.46" r="3.1" fill="#7a7a7a" fill-opacity="0.5"/>
<circle cx="1507.76" cy="1131.72" r="3.1" fill="#7a7a7a" fill-opacity="0.5"/>
<circle cx="1495.66" cy="1129.40" r="3.1" fill="#7a7a7a" fill-opacity="0.5"/>
<circle cx="1543.10" cy="1140.00" r="3.1" fill="#7a7a7a" fill-opacity="0.5"/>
<circle cx="1531.93" cy="1129.17" r="3.1" fill="#7a7a7a" fill-opacity="0.5"/>
<circle cx="1543.46" cy="1082.98" r="3.1" fill="#7a7a7a" fill-opacity="0.5"/>
<circle cx="1526.94" cy="1128.86" r="3.1" fill="#7a7a7a" fill-opacity="0.5"/>
<circle cx="1532.99" cy="1093.84" r="3.1" fill="#7a7a7a" fill-opacity="0.5"/>
<circle cx="1524.57" cy="1101.97" r="3.1" fill="#7a7a7a" fill-opacity="0.5"/>
<circle cx="1532.36" cy="1104.16" r="3.1" fill="#7a7a7a" fill-opacity="0.5"/>
<circle cx="1514.94" cy="1102.49" r="3.1" fill="#7a7a7a" fill-opacity="0.5"/>
<circle cx="1551.92" cy="1143.58" r="3.1" fill="#7a7a7a" fill-opacity="0.5"/>
<circle cx="1505.95" cy="1112.20" r="3.1" fill="#7a7a7a" fill-opacity="0.5"/>
<circle cx="1548.85" cy="1084.73" r="3.1" fill="#7a7a7a" fill-opacity="0.5"/>
<circle cx="1518.71" cy="1136.38" r="3.1" fill="#7a7a7a" fill-opacity="0.5"/>
<circle cx="1538.72" cy="1121.71" r="3.1" fill="#7a7a7a" fill-opacity="0.5"/>
<circle cx="1524.89" cy="1136.23" r="3.1" fill="#7a7a7a" fill-opacity="0.5"/>
<circle cx="1530.68" cy="1113.48" r="3.1" fill="#7a7a7a" fill-opacity="0.5"/>
<circle cx="1547.97" cy="1145.03" r="3.1" fill="#7a7a7a" fill-opacity="0.5"/>
<circle cx="1523.74" cy="1037.81" r="3.1" fill="#7a7a7a" fill-opacity="0.5"/>
<circle cx="1505.02" cy="1134.06" r="3.1" fill="#7a7a7a" fill-opacity="0.5"/>
<circle cx="1524.81" cy="1190.54" r="3.1" fill="#7a7a7a" fill-opacity="0.5"/>
<circle cx="1529.50" cy="1029.04" r="3.1" fill="#7a7a7a" fill-opacity="0.5"/>
<circle cx="1489.06" cy="1068.78" r="3.1" fill="#7a7a7a" fill-opacity="0.5"/>
<circle cx="1538.42" cy="1090.68" r="3.1" fill="#7a7a7a" fill-opacity="0.5"/>
<circle cx="1540.23" cy="1090.00" r="3.1" fill="#7a7a7a" fill-opacity="0.5"/>
<circle cx="1489.64" cy="1133.14" r="3.1" fill="#7a7a7a" fill-opacity="0.5"/>
<circle cx="1519.61" cy="1126.62" r="3.1" fill="#7a7a7a" fill-opacity="0.5"/>
<circle cx="1534.75" cy="1080.72" r="3.1" fill="#7a7a7a" fill-opacity="0.5"/>
<circle cx="1506.21" cy="1071.34" r="3.1" fill="#7a7a7a" fill-opacity="0.5"/>
<circle cx="1516.45" cy="1070.61" r="3.1" fill="#7a7a7a" fill-opacity="0.5"/>
<circle cx="1516.34" cy="1105.50" r="3.1" fill="#7a7a7a" fill-opacity="0.5"/>
<circle cx="1532.64" cy="1138.40" r="3.1" fill="#7a7a7a" fill-opacity="0.5"/>
<circle cx="1543.59" cy="1125.11" r="3.1" fill="#7a7a7a" fill-opacity="0.5"/>
<circle cx="1521.80" cy="1062.04" r="3.1" fill="#7a7a7a" fill-opacity="0.5"/>
<circle cx="1522.90" cy="1046.04" r="3.1" fill="#7a7a7a" fill-opacity="0.5"/>
<circle cx="1539.84" cy="1132.34" r="3.1" fill="#7a7a7a" fill-opacity="0.5"/>
<circle cx="1532.32" cy="1138.93" r="3.1" fill="#7a7a7a" fill-opacity="0.5"/>
<circle cx="1520.82" cy="1055.36" r="3.1" fill="#7a7a7a" fill-opacity="0.5"/>
<circle cx="1542.53" cy="1080.74" r="3.1" fill="#7a7a7a" fill-opacity="0.5"/>
<circle cx="1500.59" cy="1082.02" r="3.1" fill="#7a7a7a" fill-opacity="0.5"/>
<circle cx="1523.95" cy="1179.38" r="3.1" fill="#7a7a7a" fill-opacity="0.5"/>
<circle cx="1514.67" cy="1133.91" r="3.1" fill="#7a7a7a" fill-opacity="0.5"/>
<circle cx="1513.42" cy="1140.75" r="3.1" fill="#7a7a7a" fill-opacity="0.5"/>
<circle cx="1526.05" cy="1105.73" r="3.1" fill="#7a7a7a" fill-opacity="0.5"/>
<circle cx="1522.52" cy="1197.44" r="3.1" fill="#7a7a7a" fill-opacity="0.5"/>
<circle cx="1551.30" cy="1054.18" r="3.1" fill="#7a7a7a" fill-opacity="0.5"/>
<circle cx="1533.86" cy="1101.26" r="3.1" fill="#7a7a7a" fill-opacity="0.5"/>
<circle cx="1528.38" cy="1094.73" r="3.1" fill="#7a7a7a" fill-opacity="0.5"/>
<circle cx="1542.79" cy="1173.17" r="3.1" fill="#7a7a7a" fill-opacity="0.5"/>
<circle cx="1541.64" cy="1117.08" r="3.1" fill="#7a7a7a" fill-opacity="0.5"/>
<circle cx="1499.50" cy="1051.14" r="3.1" fill="#7a7a7a" fill-opacity="0.5"/>
<circle cx="1523.47" cy="1191.85" r="3.1" fill="#7a7a7a" fill-opacity="0.5"/>
<circle cx="1535.60" cy="1100.99" r="3.1" fill="#7a7a7a" fill-opacity="0.5"/>
<circle cx="1512.96" cy="1081.94" r="3.1" fill="#7a7a7a" fill-opacity="0.5"/>
<circle cx="1527.25" cy="1149.32" r="3.1" fill="#7a7a7a" fill-opacity="0.5"/>
<circle cx="1515.54" cy="1076.33" r="3.1" fill="#7a7a7a" fill-opacity="0.5"/>
<circle cx="1528.57" cy="1277.30" r="3.1" fill="#7a7a7a" fill-opacity="0.5"/>
<circle cx="1501.81" cy="1056.22" r="3.1" fill="#7a7a7a" fill-opacity="0.5"/>
<circle cx="1490.06" cy="1090.24" r="3.1" fill="#7a7a7a" fill-opacity="0.5"/>
<circle cx="1512.34" cy="1104.93" r="3.1" fill="#7a7a7a" fill-opacity="0.5"/>
<circle cx="1524.50" cy="1018.47" r="3.1" fill="#7a7a7a" fill-opacity="0.5"/>
<circle cx="1541.44" cy="1075.49" r="3.1" fill="#7a7a7a" fill-opacity="0.5"/>
<circle cx="1518.61" cy="1052.40" r="3.1" fill="#7a7a7a" fill-opacity="0.5"/>
<circle cx="1512.64" cy="1173.43" r="3.1" fill="#7a7a7a" fill-opacity="0.5"/>
<circle cx="1537.81" cy="1147.13" r="3.1" fill="#7a7a7a" fill-opacity="0.5"/>
<circle cx="1522.57" cy="1075.27" r="3.1" fill="#7a7a7a" fill-opacity="0.5"/>
<circle cx="1518.70" cy="1277.30" r="3.1" fill="#7a7a7a" fill-opacity="0.5"/>
<circle cx="1520.52" cy="1118.50" r="3.1" fill="#7a7a7a" fill-opacity="0.5"/>
<circle cx="1493.06" cy="1078.02" r="3.1" fill="#7a7a7a" fill-opacity="0.5"/>
<circle cx="1511.31" cy="1167.08" r="3.1" fill="#7a7a7a" fill-opacity="0.5"/>
<circle cx="1504.79" cy="1105.44" r="3.1" fill="#7a7a7a" fill-opacity="0.5"/>
<circle cx="1504.17" cy="1171.39" r="3.1" fill="#7a7a7a" fill-opacity="0.5"/>
<circle cx="1508.42" cy="1099.30" r="3.1" fill="#7a7a7a" fill-opacity="0.5"/>
<circle cx="1536.28" cy="1277.30" r="3.1" fill="#7a7a7a" fill-opacity="0.5"/>
<circle cx="1517.15" cy="1146.86" r="3.1" fill="#7a7a7a" fill-opacity="0.5"/>
<circle cx="1511.78" cy="1113.07" r="3.1" fill="#7a7a7a" fill-opacity="0.5"/>
<circle cx="1526.52" cy="1027.74" r="3.1" fill="#7a7a7a" fill-opacity="0.5"/>
<circle cx="1527.58" cy="1164.82" r="3.1" fill="#7a7a7a" fill-opacity="0.5"/>
<circle cx="1525.07" cy="1144.95" r="3.1" fill="#7a7a7a" fill-opacity="0.5"/>
<circle cx="1524.46" cy="1064.07" r="3.1" fill="#7a7a7a" fill-opacity="0.5"/>
<circle cx="1487.10" cy="1136.32" r="3.1" fill="#7a7a7a" fill-opacity="0.5"/>
<circle cx="1502.52" cy="1030.08" r="3.1" fill="#7a7a7a" fill-opacity="0.5"/>
<circle cx="1505.96" cy="1105.02" r="3.1" fill="#7a7a7a" fill-opacity="0.5"/>
<circle cx="1526.73" cy="1111.41" r="3.1" fill="#7a7a7a" fill-opacity="0.5"/>
<circle cx="1496.23" cy="1098.51" r="3.1" fill="#7a7a7a" fill-opacity="0.5"/>
<circle cx="1516.91" cy="1031.44" r="3.1" fill="#7a7a7a" fill-opacity="0.5"/>
<circle cx="1525.80" cy="1084.05" r="3.1" fill="#7a7a7a" fill-opacity="0.5"/>
<circle cx="1554.96" cy="1090.77" r="3.1" fill="#7a7a7a" fill-opacity="0.5"/>
<circle cx="1526.65" cy="1103.60" r="3.1" fill="#7a7a7a" fill-opacity="0.5"/>
<circle cx="1515.63" cy="1191.50" r="3.1" fill="#7a7a7a" fill-opacity="0.5"/>
<circle cx="1538.14" cy="1158.69" r="3.1" fill="#7a7a7a" fill-opacity="0.5"/>
<circle cx="1524.21" cy="1043.93" r="3.1" fill="#7a7a7a" fill-opacity="0.5"/>
<circle cx="1517.42" cy="1075.98" r="3.1" fill="#7a7a7a" fill-opacity="0.5"/>
<circle cx="1540.44" cy="1091.28" r="3.1" fill="#7a7a7a" fill-opacity="0.5"/>
<circle cx="1507.19" cy="1084.93" r="3.1" fill="#7a7a7a" fill-opacity="0.5"/>
<circle cx="1525.21" cy="1142.14" r="3.1" fill="#7a7a7a" fill-opacity="0.5"/>
<circle cx="1532.72" cy="1277.30" r="3.1" fill="#7a7a7a" fill-opacity="0.5"/>
<circle cx="1535.06" cy="1159.44" r="3.1" fill="#7a7a7a" fill-opacity="0.5"/>
<circle cx="1501.73" cy="1096.84" r="3.1" fill="#7a7a7a" fill-opacity="0.5"/>
<circle cx="1500.21" cy="1150.40" r="3.1" fill="#7a7a7a" fill-opacity="0.5"/>
<circle cx="1514.20" cy="1126.16" r="3.1" fill="#7a7a7a" fill-opacity="0.5"/>
<circle cx="1516.91" cy="1093.83" r="3.1" fill="#7a7a7a" fill-opacity="0.5"/>
<circle cx="1522.37" cy="1131.63" r="3.1" fill="#7a7a7a" fill-opacity="0.5"/>
<circle cx="1515.60" cy="1084.42" r="3.1" fill="#7a7a7a" fill-opacity="0.5"/>
<circle cx="1501.79" cy="954.30" r="3.1" fill="#7a7a7a" fill-opacity="0.5"/>
<circle cx="1533.66" cy="1098.38" r="3.1" fill="#7a7a7a" fill-opacity="0.5"/>
<circle cx="1524.24" cy="1051.63" r="3.1" fill="#7a7a7a" fill-opacity="0.5"/>
<circle cx="1509.20" cy="1187.21" r="3.1" fill="#7a7a7a" fill-opacity="0.5"/>
<circle cx="1534.67" cy="1193.14" r="3.1" fill="#7a7a7a" fill-opacity="0.5"/>
<circle cx="1496.81" cy="1085.94" r="3.1" fill="#7a7a7a" fill-opacity="0.5"/>
<circle cx="1518.57" cy="1070.22" r="3.1" fill="#7a7a7a" fill-opacity="0.5"/>
<circle cx="1531.41" cy="1018.34" r="3.1" fill="#7a7a7a" fill-opacity="0.5"/>
<circle cx="1512.07" cy="1079.16" r="3.1" fill="#7a7a7a" fill-opacity="0.5"/>
<circle cx="1540.30" cy="1075.58" r="3.1" fill="#7a7a7a" fill-opacity="0.5"/>
<circle cx="1550.08" cy="1158.59" r="3.1" fill="#7a7a7a" fill-opacity="0.5"/>
<circle cx="1545.26" cy="1079.34" r="3.1" fill="#7a7a7a" fill-opacity="0.5"/>
<circle cx="1528.19" cy="1083.15" r="3.1" fill="#7a7a7a" fill-opacity="0.5"/>
<circle cx="1491.35" cy="954.30" r="3.1" fill="#7a7a7a" fill-opacity="0.5"/>
<circle cx="1513.73" cy="1159.23" r="3.1" fill="#7a7a7a" fill-opacity="0.5"/>
<circle cx="1490.19" cy="954.30" r="3.1" fill="#7a7a7a" fill-opacity="0.5"/>
<circle cx="1529.53" cy="1101.83" r="3.1" fill="#7a7a7a" fill-opacity="0.5"/>
<circle cx="1522.22" cy="1258.47" r="3.1" fill="#7a7a7a" fill-opacity="0.5"/>
<circle cx="1524.24" cy="1112.39" r="3.1" fill="#7a7a7a" fill-opacity="0.5"/>
<circle cx="1517.54" cy="1104.62" r="3.1" fill="#7a7a7a" fill-opacity="0.5"/>
<circle cx="1483.68" cy="1124.37" r="3.1" fill="#7a7a7a" fill-opacity="0.5"/>
<circle cx="1528.57" cy="1102.87" r="3.1" fill="#7a7a7a" fill-opacity="0.5"/>
<circle cx="1526.70" cy="1093.71" r="3.1" fill="#7a7a7a" fill-opacity="0.5"/>
<circle cx="1549.79" cy="1164.81" r="3.1" fill="#7a7a7a" fill-opacity="0.5"/>
<circle cx="1490.23" cy="1277.30" r="3.1" fill="#7a7a7a" fill-opacity="0.5"/>
<circle cx="1522.62" cy="1127.98" r="3.1" fill="#7a7a7a" fill-opacity="0.5"/>
<circle cx="1533.98" cy="1161.63" r="3.1" fill="#7a7a7a" fill-opacity="0.5"/>
<circle cx="1532.77" cy="1105.67" r="3.1" fill="#7a7a7a" fill-opacity="0.5"/>
<circle cx="1521.19" cy="1043.72" r="3.1" fill="#7a7a7a" fill-opacity="0.5"/>
<circle cx="1516.94" cy="1186.54" r="3.1" fill="#7a7a7a" fill-opacity="0.5"/>
<circle cx="1504.74" cy="1195.89" r="3.1" fill="#7a7a7a" fill-opacity="0.5"/>
<circle cx="1522.79" cy="1195.90" r="3.1" fill="#7a7a7a" fill-opacity="0.5"/>
<circle cx="1539.78" cy="1020.00" r="3.1" fill="#7a7a7a" fill-opacity="0.5"/>
<circle cx="1485.61" cy="1127.99" r="3.1" fill="#7a7a7a" fill-opacity="0.5"/>
<circle cx="1503.15" cy="1118.68" r="3.1" fill="#7a7a7a" fill-opacity="0.5"/>
<circle cx="1533.43" cy="1153.91" r="3.1" fill="#7a7a7a" fill-opacity="0.5"/>
<circle cx="1524.18" cy="1161.36" r="3.1" fill="#7a7a7a" fill-opacity="0.5"/>
<circle cx="1525.61" cy="1214.00" r="3.1" fill="#7a7a7a" fill-opacity="0.5"/>
<circle cx="1486.88" cy="1107.54" r="3.1" fill="#7a7a7a" fill-opacity="0.5"/>
<circle cx="1510.64" cy="1103.22" r="3.1" fill="#7a7a7a" fill-opacity="0.5"/>
<circle cx="1526.57" cy="1211.56" r="3.1" fill="#7a7a7a" fill-opacity="0.5"/>
<circle cx="1525.89" cy="954.30" r="3.1" fill="#7a7a7a" fill-opacity="0.5"/>
<circle cx="1526.20" cy="1151.85" r="3.1" fill="#7a7a7a" fill-opacity="0.5"/>
<circle cx="1504.49" cy="1117.06" r="3.1" fill="#7a7a7a" fill-opacity="0.5"/>
<circle cx="1531.20" cy="1103.97" r="3.1" fill="#7a7a7a" fill-opacity="0.5"/>
<circle cx="1505.90" cy="1061.26" r="3.1" fill="#7a7a7a" fill-opacity="0.5"/>
<circle cx="1509.90" cy="1049.69" r="3.1" fill="#7a7a7a" fill-opacity="0.5"/>
<circle cx="1505.97" cy="1064.03" r="3.1" fill="#7a7a7a" fill-opacity="0.5"/>
<circle cx="1539.09" cy="1050.80" r="3.1" fill="#7a7a7a" fill-opacity="0.5"/>
<circle cx="1516.13" cy="1172.31" r="3.1" fill="#7a7a7a" fill-opacity="0.5"/>
<circle cx="1522.33" cy="1142.67" r="3.1" fill="#7a7a7a" fill-opacity="0.5"/>
<circle cx="1493.01" cy="1060.39" r="3.1" fill="#7a7a7a" fill-opacity="0.5"/>
<circle cx="1541.09" cy="1101.81" r="3.1" fill="#7a7a7a" fill-opacity="0.5"/>
<circle cx="1530.14" cy="1114.89" r="3.1" fill="#7a7a7a" fill-opacity="0.5"/>
<circle cx="1504.50" cy="1211.68" r="3.1" fill="#7a7a7a" fill-opacity="0.5"/>
<circle cx="1504.17" cy="1205.88" r="3.1" fill="#7a7a7a" fill-opacity="0.5"/>
<circle cx="1546.85" cy="1080.39" r="3.1" fill="#7a7a7a" fill-opacity="0.5"/>
<circle cx="1504.52" cy="1099.25" r="3.1" fill="#7a7a7a" fill-opacity="0.5"/>
<circle cx="1556.48" cy="1130.14" r="3.1" fill="#7a7a7a" fill-opacity="0.5"/>
<circle cx="1512.51" cy="1135.81" r="3.1" fill="#7a7a7a" fill-opacity="0.5"/>
<circle cx="1494.77" cy="1199.43" r="3.1" fill="#7a7a7a" fill-opacity="0.5"/>
<circle cx="1540.85" cy="1097.81" r="3.1" fill="#7a7a7a" fill-opacity="0.5"/>
<circle cx="1528.10" cy="1065.68" r="3.1" fill="#7a7a7a" fill-opacity="0.5"/>
<circle cx="1529.42" cy="1036.24" r="3.1" fill="#7a7a7a" fill-opacity="0.5"/>
<circle cx="1511.63" cy="1113.42" r="3.1" fill="#7a7a7a" fill-opacity="0.5"/>
<circle cx="1517.15" cy="1125.69" r="3.1" fill="#7a7a7a" fill-opacity="0.5"/>
<circle cx="1534.01" cy="1168.90" r="3.1" fill="#7a7a7a" fill-opacity="0.5"/>
<circle cx="1510.95" cy="1056.53" r="3.1" fill="#7a7a7a" fill-opacity="0.5"/>
<circle cx="1498.24" cy="1033.10" r="3.1" fill="#7a7a7a" fill-opacity="0.5"/>
<circle cx="1537.19" cy="1145.51" r="3.1" fill="#7a7a7a" fill-opacity="0.5"/>
<circle cx="1510.05" cy="1101.71" r="3.1" fill="#7a7a7a" fill-opacity="0.5"/>
<circle cx="1545.28" cy="1111.41" r="3.1" fill="#7a7a7a" fill-opacity="0.5"/>
<circle cx="1512.64" cy="1143.60" r="3.1" fill="#7a7a7a" fill-opacity="0.5"/>
<circle cx="1517.71" cy="1236.80" r="3.1" fill="#7a7a7a" fill-opacity="0.5"/>
<circle cx="1516.45" cy="1133.53" r="3.1" fill="#7a7a7a" fill-opacity="0.5"/>
<circle cx="1483.02" cy="1086.37" r="3.1" fill="#7a7a7a" fill-opacity="0.5"/>
<circle cx="1535.19" cy="1185.73" r="3.1" fill="#7a7a7a" fill-opacity="0.5"/>
<circle cx="1511.50" cy="1156.44" r="3.1" fill="#7a7a7a" fill-opacity="0.5"/>
<circle cx="1519.53" cy="1274.89" r="3.1" fill="#7a7a7a" fill-opacity="0.5"/>
<circle cx="1539.56" cy="1053.56" r="3.1" fill="#7a7a7a" fill-opacity="0.5"/>
<circle cx="1523.19" cy="1091.56" r="3.1" fill="#7a7a7a" fill-opacity="0.5"/>
<circle cx="1538.23" cy="1113.60" r="3.1" fill="#7a7a7a" fill-opacity="0.5"/>
<circle cx="1527.66" cy="1128.90" r="3.1" fill="#7a7a7a" fill-opacity="0.5"/>
<circle cx="1534.66" cy="1146.68" r="3.1" fill="#7a7a7a" fill-opacity="0.5"/>
<circle cx="1526.55" cy="1119.62" r="3.1" fill="#7a7a7a" fill-opacity="0.5"/>
<circle cx="1543.30" cy="1130.83" r="3.1" fill="#7a7a7a" fill-opacity="0.5"/>
<circle cx="1517.18" cy="1127.83" r="3.1" fill="#7a7a7a" fill-opacity="0.5"/>
<circle cx="1530.08" cy="1117.44" r="3.1" fill="#7a7a7a" fill-opacity="0.5"/>
<circle cx="1507.94" cy="1109.71" r="3.1" fill="#7a7a7a" fill-opacity="0.5"/>
<circle cx="1535.52" cy="1040.75" r="3.1" fill="#7a7a7a" fill-opacity="0.5"/>
<circle cx="1495.61" cy="1186.03" r="3.1" fill="#7a7a7a" fill-opacity="0.5"/>
<circle cx="1524.65" cy="1103.11" r="3.1" fill="#7a7a7a" fill-opacity="0.5"/>
<circle cx="1527.58" cy="1146.06" r="3.1" fill="#7a7a7a" fill-opacity="0.5"/>
<circle cx="1525.77" cy="1171.01" r="3.1" fill="#7a7a7a" fill-opacity="0.5"/>
<circle cx="1521.33" cy="1230.54" r="3.1" fill="#7a7a7a" fill-opacity="0.5"/>
<circle cx="1543.07" cy="1086.40" r="3.1" fill="#7a7a7a" fill-opacity="0.5"/>
<circle cx="1551.18" cy="1163.78" r="3.1" fill="#7a7a7a" fill-opacity="0.5"/>
<circle cx="1511.60" cy="1152.61" r="3.1" fill="#7a7a7a" fill-opacity="0.5"/>
<circle cx="1488.49" cy="1093.52" r="3.1" fill="#7a7a7a" fill-opacity="0.5"/>
<circle cx="1506.89" cy="1168.78" r="3.1" fill="#7a7a7a" fill-opacity="0.5"/>
<circle cx="1505.75" cy="1115.02" r="3.1" fill="#7a7a7a" fill-opacity="0.5"/>
<circle cx="1518.65" cy="1119.91" r="3.1" fill="#7a7a7a" fill-opacity="0.5"/>
<circle cx="1520.48" cy="1077.44" r="3.1" fill="#7a7a7a" fill-opacity="0.5"/>
<circle cx="1536.06" cy="1067.32" r="3.1" fill="#7a7a7a" fill-opacity="0.5"/>
<circle cx="1514.83" cy="1158.28" r="3.1" fill="#7a7a7a" fill-opacity="0.5"/>
<circle cx="1520.79" cy="1071.85" r="3.1" fill="#7a7a7a" fill-opacity="0.5"/>
<circle cx="1523.37" cy="1120.97" r="3.1" fill="#7a7a7a" fill-opacity="0.5"/>
<circle cx="1504.72" cy="1110.33" r="3.1" fill="#7a7a7a" fill-opacity="0.5"/>
<circle cx="1515.13" cy="1126.58" r="3.1" fill="#7a7a7a" fill-opacity="0.5"/>
<circle cx="1557.66" cy="1078.71" r="3.1" fill="#7a7a7a" fill-opacity="0.5"/>
<circle cx="1520.18" cy="1175.02" r="3.1" fill="#7a7a7a" fill-opacity="0.5"/>
<circle cx="1503.65" cy="1103.68" r="3.1" fill="#7a7a7a" fill-opacity="0.5"/>
<circle cx="1493.31" cy="1059.32" r="3.1" fill="#7a7a7a" fill-opacity="0.5"/>
<circle cx="1541.15" cy="1130.03" r="3.1" fill="#7a7a7a" fill-opacity="0.5"/>
<circle cx="1517.71" cy="1018.04" r="3.1" fill="#7a7a7a" fill-opacity="0.5"/>
<circle cx="1510.86" cy="1151.94" r="3.1" fill="#7a7a7a" fill-opacity="0.5"/>
<circle cx="1500.43" cy="954.30" r="3.1" fill="#7a7a7a" fill-opacity="0.5"/>
<circle cx="1547.60" cy="1139.67" r="3.1" fill="#7a7a7a" fill-opacity="0.5"/>
<circle cx="1491.38" cy="1146.26" r="3.1" fill="#7a7a7a" fill-opacity="0.5"/>
<circle cx="1516.78" cy="1170.34" r="3.1" fill="#7a7a7a" fill-opacity="0.5"/>
<circle cx="1539.25" cy="1142.45" r="3.1" fill="#7a7a7a" fill-opacity="0.5"/>
<circle cx="1537.30" cy="1118.82" r="3.1" fill="#7a7a7a" fill-opacity="0.5"/>
<circle cx="1503.70" cy="1155.19" r="3.1" fill="#7a7a7a" fill-opacity="0.5"/>
<circle cx="1546.99" cy="1073.53" r="3.1" fill="#7a7a7a" fill-opacity="0.5"/>
<circle cx="1543.57" cy="1042.62" r="3.1" fill="#7a7a7a" fill-opacity="0.5"/>
<circle cx="1508.43" cy="1190.36" r="3.1" fill="#7a7a7a" fill-opacity="0.5"/>
<circle cx="1495.18" cy="1075.84" r="3.1" fill="#7a7a7a" fill-opacity="0.5"/>
<circle cx="1495.35" cy="1107.17" r="3.1" fill="#7a7a7a" fill-opacity="0.5"/>
<circle cx="1533.46" cy="1104.50" r="3.1" fill="#7a7a7a" fill-opacity="0.5"/>
<circle cx="1532.10" cy="997.07" r="3.1" fill="#7a7a7a" fill-opacity="0.5"/>
<circle cx="1523.64" cy="1057.93" r="3.1" fill="#7a7a7a" fill-opacity="0.5"/>
<circle cx="1510.50" cy="1100.09" r="3.1" fill="#7a7a7a" fill-opacity="0.5"/>
<circle cx="1519.43" cy="1107.41" r="3.1" fill="#7a7a7a" fill-opacity="0.5"/>
<circle cx="1526.64" cy="1220.73" r="3.1" fill="#7a7a7a" fill-opacity="0.5"/>
<circle cx="1502.83" cy="1078.38" r="3.1" fill="#7a7a7a" fill-opacity="0.5"/>
<circle cx="1493.33" cy="1152.07" r="3.1" fill="#7a7a7a" fill-opacity="0.5"/>
<circle cx="1519.53" cy="1107.29" r="3.1" fill="#7a7a7a" fill-opacity="0.5"/>
<circle cx="1544.41" cy="1111.07" r="3.1" fill="#7a7a7a" fill-opacity="0.5"/>
<circle cx="1523.86" cy="1069.27" r="3.1" fill="#7a7a7a" fill-opacity="0.5"/>
<circle cx="1523.44" cy="1017.42" r="3.1" fill="#7a7a7a" fill-opacity="0.5"/>
<circle cx="1511.92" cy="1068.14" r="3.1" fill="#7a7a7a" fill-opacity="0.5"/>
<circle cx="1532.73" cy="1054.13" r="3.1" fill="#7a7a7a" fill-opacity="0.5"/>
<circle cx="1488.14" cy="1127.16" r="3.1" fill="#7a7a7a" fill-opacity="0.5"/>
<circle cx="1519.98" cy="1093.72" r="3.1" fill="#7a7a7a" fill-opacity="0.5"/>
<circle cx="1512.14" cy="1078.53" r="3.1" fill="#7a7a7a" fill-opacity="0.5"/>
<circle cx="1519.39" cy="1185.55" r="3.1" fill="#7a7a7a" fill-opacity="0.5"/>
<circle cx="1510.81" cy="1016.89" r="3.1" fill="#7a7a7a" fill-opacity="0.5"/>
<circle cx="1533.58" cy="1150.44" r="3.1" fill="#7a7a7a" fill-opacity="0.5"/>
<circle cx="1520.22" cy="1177.70" r="3.1" fill="#7a7a7a" fill-opacity="0.5"/>
<circle cx="1514.09" cy="1036.63" r="3.1" fill="#7a7a7a" fill-opacity="0.5"/>
<circle cx="1533.44" cy="1277.30" r="3.1" fill="#7a7a7a" fill-opacity="0.5"/>
<circle cx="1520.13" cy="1149.87" r="3.1" fill="#7a7a7a" fill-opacity="0.5"/>
<circle cx="1511.83" cy="1145.51" r="3.1" fill="#7a7a7a" fill-opacity="0.5"/>
<circle cx="1515.01" cy="965.03" r="3.1" fill="#7a7a7a" fill-opacity="0.5"/>
<circle cx="1535.56" cy="1110.34" r="3.1" fill="#7a7a7a" fill-opacity="0.5"/>
<circle cx="1511.56" cy="1211.93" r="3.1" fill="#7a7a7a" fill-opacity="0.5"/>
<circle cx="1517.00" cy="1145.46" r="3.1" fill="#7a7a7a" fill-opacity="0.5"/>
<circle cx="1518.08" cy="1018.80" r="3.1" fill="#7a7a7a" fill-opacity="0.5"/>
<circle cx="1525.94" cy="1083.87" r="3.1" fill="#7a7a7a" fill-opacity="0.5"/>
<circle cx="1518.01" cy="1079.36" r="3.1" fill="#7a7a7a" fill-opacity="0.5"/>
<circle cx="1548.36" cy="1056.47" r="3.1" fill="#7a7a7a" fill-opacity="0.5"/>
<circle cx="1493.33" cy="1083.06" r="3.1" fill="#7a7a7a" fill-opacity="0.5"/>
<circle cx="1532.12" cy="1131.94" r="3.1" fill="#7a7a7a" fill-opacity="0.5"/>
<circle cx="1520.70" cy="1193.04" r="3.1" fill="#7a7a7a" fill-opacity="0.5"/>
<circle cx="1540.01" cy="1094.17" r="3.1" fill="#7a7a7a" fill-opacity="0.5"/>
<circle cx="1499.67" cy="1169.87" r="3.1" fill="#7a7a7a" fill-opacity="0.5"/>
<circle cx="1544.19" cy="1118.52" r="3.1" fill="#7a7a7a" fill-opacity="0.5"/>
<circle cx="1504.86" cy="1030.58" r="3.1" fill="#7a7a7a" fill-opacity="0.5"/>
<circle cx="1532.39" cy="1089.61" r="3.1" fill="#7a7a7a" fill-opacity="0.5"/>
<circle cx="1530.49" cy="1112.92" r="3.1" fill="#7a7a7a" fill-opacity="0.5"/>
<circle cx="1521.35" cy="1112.62" r="3.1" fill="#7a7a7a" fill-opacity="0.5"/>
<circle cx="1509.53" cy="1080.39" r="3.1" fill="#7a7a7a" fill-opacity="0.5"/>
<circle cx="1509.40" cy="1071.17" r="3.1" fill="#7a7a7a" fill-opacity="0.5"/>
<circle cx="1522.21" cy="1179.60" r="3.1" fill="#7a7a7a" fill-opacity="0.5"/>
<circle cx="1491.64" cy="1277.30" r="3.1" fill="#7a7a7a" fill-opacity="0.5"/>
<circle cx="1498.08" cy="1032.68" r="3.1" fill="#7a7a7a" fill-opacity="0.5"/>
<circle cx="1493.30" cy="1079.25" r="3.1" fill="#7a7a7a" fill-opacity="0.5"/>
<circle cx="1533.86" cy="1152.87" r="3.1" fill="#7a7a7a" fill-opacity="0.5"/>
<circle cx="1534.88" cy="1148.73" r="3.1" fill="#7a7a7a" fill-opacity="0.5"/>
<circle cx="1526.23" cy="1215.70" r="3.1" fill="#7a7a7a" fill-opacity="0.5"/>
<circle cx="1521.70" cy="1154.24" r="3.1" fill="#7a7a7a" fill-opacity="0.5"/>
<circle cx="1525.62" cy="1037.94" r="3.1" fill="#7a7a7a" fill-opacity="0.5"/>
<circle cx="1530.40" cy="1119.17" r="3.1" fill="#7a7a7a" fill-opacity="0.5"/>
<circle cx="1524.88" cy="1157.23" r="3.1" fill="#7a7a7a" fill-opacity="0.5"/>
<circle cx="1506.81" cy="1143.71" r="3.1" fill="#7a7a7a" fill-opacity="0.5"/>
<circle cx="1506.78" cy="1121.17" r="3.1" fill="#7a7a7a" fill-opacity="0.5"/>
<circle cx="1498.72" cy="1120.96" r="3.1" fill="#7a7a7a" fill-opacity="0.5"/>
<circle cx="1523.85" cy="1132.95" r="3.1" fill="#7a7a7a" fill-opacity="0.5"/>
<circle cx="1504.99" cy="1153.06" r="3.1" fill="#7a7a7a" fill-opacity="0.5"/>
<circle cx="1518.52" cy="1084.96" r="3.1" fill="#7a7a7a" fill-opacity="0.5"/>
<circle cx="1536.95" cy="1041.26" r="3.1" fill="#7a7a7a" fill-opacity="0.5"/>
<circle cx="1514.32" cy="1143.32" r="3.1" fill="#7a7a7a" fill-opacity="0.5"/>
<circle cx="1538.65" cy="1142.02" r="3.1" fill="#7a7a7a" fill-opacity="0.5"/>
<circle cx="1541.14" cy="1058.18" r="3.1" fill="#7a7a7a" fill-opacity="0.5"/>
<circle cx="1499.76" cy="1186.72" r="3.1" fill="#7a7a7a" fill-opacity="0.5"/>
<circle cx="1495.68" cy="1144.45" r="3.1" fill="#7a7a7a" fill-opacity="0.5"/>
<circle cx="1530.09" cy="1134.12" r="3.1" fill="#7a7a7a" fill-opacity="0.5"/>
<circle cx="1507.94" cy="1107.67" r="3.1" fill="#7a7a7a" fill-opacity="0.5"/>
<circle cx="1531.45" cy="1129.12" r="3.1" fill="#7a7a7a" fill-opacity="0.5"/>
<circle cx="1531.92" cy="1158.76" r="3.1" fill="#7a7a7a" fill-opacity="0.5"/>
<circle cx="1511.97" cy="1100.76" r="3.1" fill="#7a7a7a" fill-opacity="0.5"/>
<circle cx="1531.81" cy="1173.34" r="3.1" fill="#7a7a7a" fill-opacity="0.5"/>
<circle cx="1540.85" cy="1200.22" r="3.1" fill="#7a7a7a" fill-opacity="0.5"/>
<circle cx="1530.97" cy="1214.07" r="3.1" fill="#7a7a7a" fill-opacity="0.5"/>
<circle cx="1529.28" cy="954.30" r="3.1" fill="#7a7a7a" fill-opacity="0.5"/>
<circle cx="1519.77" cy="1199.95" r="3.1" fill="#7a7a7a" fill-opacity="0.5"/>
<circle cx="1512.10" cy="1094.14" r="3.1" fill="#7a7a7a" fill-opacity="0.5"/>
<circle cx="1546.23" cy="1083.30" r="3.1" fill="#7a7a7a" fill-opacity="0.5"/>
<circle cx="1513.35" cy="954.30" r="3.1" fill="#7a7a7a" fill-opacity="0.5"/>
<circle cx="1508.09" cy="1124.26" r="3.1" fill="#7a7a7a" fill-opacity="0.5"/>
<circle cx="1522.29" cy="1142.36" r="3.1" fill="#7a7a7a" fill-opacity="0.5"/>
<circle cx="1531.20" cy="1111.65" r="3.1" fill="#7a7a7a" fill-opacity="0.5"/>
<circle cx="1514.83" cy="1144.57" r="3.1" fill="#7a7a7a" fill-opacity="0.5"/>
<circle cx="1522.81" cy="1178.12" r="3.1" fill="#7a7a7a" fill-opacity="0.5"/>
<circle cx="1521.53" cy="1054.97" r="3.1" fill="#7a7a7a" fill-opacity="0.5"/>
<circle cx="1532.63" cy="1159.14" r="3.1" fill="#7a7a7a" fill-opacity="0.5"/>
<circle cx="1532.91" cy="1028.79" r="3.1" fill="#7a7a7a" fill-opacity="0.5"/>
<circle cx="1526.21" cy="1090.86" r="3.1" fill="#7a7a7a" fill-opacity="0.5"/>
<circle cx="1512.93" cy="1137.82" r="3.1" fill="#7a7a7a" fill-opacity="0.5"/>
<circle cx="1528.67" cy="1094.60" r="3.1" fill="#7a7a7a" fill-opacity="0.5"/>
<circle cx="1510.34" cy="1056.20" r="3.1" fill="#7a7a7a" fill-opacity="0.5"/>
<circle cx="1534.47" cy="1182.59" r="3.1" fill="#7a7a7a" fill-opacity="0.5"/>
<circle cx="1526.80" cy="1160.70" r="3.1" fill="#7a7a7a" fill-opacity="0.5"/>
<circle cx="1525.01" cy="1166.64" r="3.1" fill="#7a7a7a" fill-opacity="0.5"/>
<circle cx="1477.09" cy="1107.80" r="3.1" fill="#7a7a7a" fill-opacity="0.5"/>
<circle cx="1563.20" cy="1096.21" r="3.1" fill="#7a7a7a" fill-opacity="0.5"/>
<circle cx="1549.56" cy="1114.40" r="3.1" fill="#7a7a7a" fill-opacity="0.5"/>
<circle cx="1542.88" cy="1151.08" r="3.1" fill="#7a7a7a" fill-opacity="0.5"/>
<circle cx="1524.17" cy="1141.40" r="3.1" fill="#7a7a7a" fill-opacity="0.5"/>
<circle cx="1530.38" cy="1058.29" r="3.1" fill="#7a7a7a" fill-opacity="0.5"/>
<circle cx="1552.63" cy="1061.68" r="3.1" fill="#7a7a7a" fill-opacity="0.5"/>
<circle cx="1509.18" cy="1109.44" r="3.1" fill="#7a7a7a" fill-opacity="0.5"/>
<circle cx="1509.64" cy="954.30" r="3.1" fill="#7a7a7a" fill-opacity="0.5"/>
<circle cx="1531.73" cy="1085.37" r="3.1" fill="#7a7a7a" fill-opacity="0.5"/>
<circle cx="1524.27" cy="1082.17" r="3.1" fill="#7a7a7a" fill-opacity="0.5"/>
<circle cx="1527.81" cy="1085.28" r="3.1" fill="#7a7a7a" fill-opacity="0.5"/>
<circle cx="1544.07" cy="954.30" r="3.1" fill="#7a7a7a" fill-opacity="0.5"/>
<circle cx="1529.67" cy="1034.84" r="3.1" fill="#7a7a7a" fill-opacity="0.5"/>
<circle cx="1506.99" cy="1194.28" r="3.1" fill="#7a7a7a" fill-opacity="0.5"/>
<circle cx="1543.19" cy="1193.42" r="3.1" fill="#7a7a7a" fill-opacity="0.5"/>
<circle cx="1529.62" cy="985.12" r="3.1" fill="#7a7a7a" fill-opacity="0.5"/>
<circle cx="1508.22" cy="1089.45" r="3.1" fill="#7a7a7a" fill-opacity="0.5"/>
<circle cx="1497.73" cy="1028.93" r="3.1" fill="#7a7a7a" fill-opacity="0.5"/>
<circle cx="1524.64" cy="1117.18" r="3.1" fill="#7a7a7a" fill-opacity="0.5"/>
<circle cx="1528.08" cy="1192.06" r="3.1" fill="#7a7a7a" fill-opacity="0.5"/>
<circle cx="1507.30" cy="1078.93" r="3.1" fill="#7a7a7a" fill-opacity="0.5"/>
<circle cx="1539.81" cy="963.92" r="3.1" fill="#7a7a7a" fill-opacity="0.5"/>
<circle cx="1526.35" cy="1072.27" r="3.1" fill="#7a7a7a" fill-opacity="0.5"/>
<circle cx="1517.15" cy="1202.37" r="3.1" fill="#7a7a7a" fill-opacity="0.5"/>
<circle cx="1496.05" cy="1129.56" r="3.1" fill="#7a7a7a" fill-opacity="0.5"/>
<circle cx="1520.67" cy="1145.78" r="3.1" fill="#7a7a7a" fill-opacity="0.5"/>
<circle cx="1519.49" cy="1085.75" r="3.1" fill="#7a7a7a" fill-opacity="0.5"/>
<circle cx="1529.37" cy="1010.19" r="3.1" fill="#7a7a7a" fill-opacity="0.5"/>
<circle cx="1538.82" cy="954.30" r="3.1" fill="#7a7a7a" fill-opacity="0.5"/>
<circle cx="1523.16" cy="1079.79" r="3.1" fill="#7a7a7a" fill-opacity="0.5"/>
<circle cx="1531.54" cy="1137.61" r="3.1" fill="#7a7a7a" fill-opacity="0.5"/>
<circle cx="1547.14" cy="1092.48" r="3.1" fill="#7a7a7a" fill-opacity="0.5"/>
<circle cx="1533.84" cy="1097.88" r="3.1" fill="#7a7a7a" fill-opacity="0.5"/>
<circle cx="1518.15" cy="1137.02" r="3.1" fill="#7a7a7a" fill-opacity="0.5"/>
<circle cx="1533.81" cy="1097.19" r="3.1" fill="#7a7a7a" fill-opacity="0.5"/>
<circle cx="1513.60" cy="1099.26" r="3.1" fill="#7a7a7a" fill-opacity="0.5"/>
<circle cx="1527.31" cy="1203.70" r="3.1" fill="#7a7a7a" fill-opacity="0.5"/>
<circle cx="1523.11" cy="1050.54" r="3.1" fill="#7a7a7a" fill-opacity="0.5"/>
<circle cx="1502.03" cy="1131.41" r="3.1" fill="#7a7a7a" fill-opacity="0.5"/>
<circle cx="1529.55" cy="1186.58" r="3.1" fill="#7a7a7a" fill-opacity="0.5"/>
<circle cx="1523.56" cy="1055.68" r="3.1" fill="#7a7a7a" fill-opacity="0.5"/>
<circle cx="1527.82" cy="954.30" r="3.1" fill="#7a7a7a" fill-opacity="0.5"/>
<circle cx="1553.43" cy="954.30" r="3.1" fill="#7a7a7a" fill-opacity="0.5"/>
<circle cx="1536.56" cy="1057.01" r="3.1" fill="#7a7a7a" fill-opacity="0.5"/>
<circle cx="1542.51" cy="1092.75" r="3.1" fill="#7a7a7a" fill-opacity="0.5"/>
<circle cx="1517.77" cy="1166.86" r="3.1" fill="#7a7a7a" fill-opacity="0.5"/>
<circle cx="1521.08" cy="1136.01" r="3.1" fill="#7a7a7a" fill-opacity="0.5"/>
<circle cx="1522.92" cy="1024.63" r="3.1" fill="#7a7a7a" fill-opacity="0.5"/>
<circle cx="1522.27" cy="1161.24" r="3.1" fill="#7a7a7a" fill-opacity="0.5"/>
<circle cx="1532.18" cy="1032.79" r="3.1" fill="#7a7a7a" fill-opacity="0.5"/>
<circle cx="1540.66" cy="1277.30" r="3.1" fill="#7a7a7a" fill-opacity="0.5"/>
<circle cx="1504.46" cy="1082.81" r="3.1" fill="#7a7a7a" fill-opacity="0.5"/>
<circle cx="1519.45" cy="1028.20" r="3.1" fill="#7a7a7a" fill-opacity="0.5"/>
<circle cx="1549.16" cy="1070.75" r="3.1" fill="#7a7a7a" fill-opacity="0.5"/>
<circle cx="1515.58" cy="1101.26" r="3.1" fill="#7a7a7a" fill-opacity="0.5"/>
<circle cx="1511.25" cy="1011.23" r="3.1" fill="#7a7a7a" fill-opacity="0.5"/>
<circle cx="1510.86" cy="1176.95" r="3.1" fill="#7a7a7a" fill-opacity="0.5"/>
<circle cx="1524.09" cy="1188.37" r="3.1" fill="#7a7a7a" fill-opacity="0.5"/>
<circle cx="1542.34" cy="1091.72" r="3.1" fill="#7a7a7a" fill-opacity="0.5"/>
<circle cx="1514.76" cy="994.24" r="3.1" fill="#7a7a7a" fill-opacity="0.5"/>
<circle cx="1524.43" cy="1062.74" r="3.1" fill="#7a7a7a" fill-opacity="0.5"/>
<circle cx="1526.51" cy="1118.33" r="3.1" fill="#7a7a7a" fill-opacity="0.5"/>
<circle cx="1528.95" cy="1074.41" r="3.1" fill="#7a7a7a" fill-opacity="0.5"/>
<circle cx="1523.97" cy="1061.79" r="3.1" fill="#7a7a7a" fill-opacity="0.5"/>
<circle cx="1532.72" cy="1211.69" r="3.1" fill="#7a7a7a" fill-opacity="0.5"/>
<circle cx="1488.51" cy="1277.30" r="3.1" fill="#7a7a7a" fill-opacity="0.5"/>
<circle cx="1514.86" cy="1192.16" r="3.1" fill="#7a7a7a" fill-opacity="0.5"/>
<circle cx="1542.18" cy="1233.83" r="3.1" fill="#7a7a7a" fill-opacity="0.5"/>
<circle cx="1499.94" cy="1152.58" r="3.1" fill="#7a7a7a" fill-opacity="0.5"/>
<circle cx="1507.97" cy="1207.88" r="3.1" fill="#7a7a7a" fill-opacity="0.5"/>
<circle cx="1534.67" cy="1178.01" r="3.1" fill="#7a7a7a" fill-opacity="0.5"/>
<circle cx="1524.47" cy="1062.53" r="3.1" fill="#7a7a7a" fill-opacity="0.5"/>
<circle cx="1517.94" cy="1092.31" r="3.1" fill="#7a7a7a" fill-opacity="0.5"/>
<circle cx="1525.87" cy="1102.98" r="3.1" fill="#7a7a7a" fill-opacity="0.5"/>
<circle cx="1522.44" cy="954.30" r="3.1" fill="#7a7a7a" fill-opacity="0.5"/>
<circle cx="1514.49" cy="1141.35" r="3.1" fill="#7a7a7a" fill-opacity="0.5"/>
<circle cx="1510.17" cy="1134.10" r="3.1" fill="#7a7a7a" fill-opacity="0.5"/>
<circle cx="1511.81" cy="987.71" r="3.1" fill="#7a7a7a" fill-opacity="0.5"/>
<circle cx="1512.19" cy="1198.80" r="3.1" fill="#7a7a7a" fill-opacity="0.5"/>
<circle cx="1515.01" cy="1244.74" r="3.1" fill="#7a7a7a" fill-opacity="0.5"/>
<circle cx="1532.72" cy="983.61" r="3.1" fill="#7a7a7a" fill-opacity="0.5"/>
<circle cx="1525.85" cy="1069.67" r="3.1" fill="#7a7a7a" fill-opacity="0.5"/>
<circle cx="1528.49" cy="1046.09" r="3.1" fill="#7a7a7a" fill-opacity="0.5"/>
<circle cx="1515.10" cy="1042.67" r="3.1" fill="#7a7a7a" fill-opacity="0.5"/>
<circle cx="1533.72" cy="1018.85" r="3.1" fill="#7a7a7a" fill-opacity="0.5"/>
<circle cx="1493.56" cy="1140.89" r="3.1" fill="#7a7a7a" fill-opacity="0.5"/>
<circle cx="1530.80" cy="1105.53" r="3.1" fill="#7a7a7a" fill-opacity="0.5"/>
<circle cx="1529.70" cy="1197.49" r="3.1" fill="#7a7a7a" fill-opacity="0.5"/>
<circle cx="1512.55" cy="1086.15" r="3.1" fill="#7a7a7a" fill-opacity="0.5"/>
<circle cx="1506.46" cy="1077.75" r="3.1" fill="#7a7a7a" fill-opacity="0.5"/>
<circle cx="1531.63" cy="1138.49" r="3.1" fill="#7a7a7a" fill-opacity="0.5"/>
<circle cx="1513.35" cy="1038.75" r="3.1" fill="#7a7a7a" fill-opacity="0.5"/>
<circle cx="1523.30" cy="954.30" r="3.1" fill="#7a7a7a" fill-opacity="0.5"/>
<circle cx="1521.52" cy="1200.06" r="3.1" fill="#7a7a7a" fill-opacity="0.5"/>
<circle cx="1508.87" cy="1023.79" r="3.1" fill="#7a7a7a" fill-opacity="0.5"/>
<circle cx="1520.24" cy="1013.49" r="3.1" fill="#7a7a7a" fill-opacity="0.5"/>
<circle cx="1522.75" cy="954.30" r="3.1" fill="#7a7a7a" fill-opacity="0.5"/>
<circle cx="1540.89" cy="954.30" r="3.1" fill="#7a7a7a" fill-opacity="0.5"/>
<circle cx="1505.32" cy="1277.30" r="3.1" fill="#7a7a7a" fill-opacity="0.5"/>
<circle cx="1509.23" cy="1038.31" r="3.1" fill="#7a7a7a" fill-opacity="0.5"/>
<circle cx="1523.46" cy="1107.30" r="3.1" fill="#7a7a7a" fill-opacity="0.5"/>
<circle cx="1516.69" cy="1126.40" r="3.1" fill="#7a7a7a" fill-opacity="0.5"/>
<circle cx="1519.39" cy="1073.95" r="3.1" fill="#7a7a7a" fill-opacity="0.5"/>
<circle cx="1530.05" cy="1012.55" r="3.1" fill="#7a7a7a" fill-opacity="0.5"/>
<circle cx="1545.85" cy="1016.75" r="3.1" fill="#7a7a7a" fill-opacity="0.5"/>
<circle cx="1532.15" cy="954.30" r="3.1" fill="#7a7a7a" fill-opacity="0.5"/>
<circle cx="1552.85" cy="954.30" r="3.1" fill="#7a7a7a" fill-opacity="0.5"/>
<circle cx="1525.92" cy="1039.33" r="3.1" fill="#7a7a7a" fill-opacity="0.5"/>
<circle cx="1535.92" cy="1132.37" r="3.1" fill="#7a7a7a" fill-opacity="0.5"/>
<circle cx="1496.65" cy="954.30" r="3.1" fill="#7a7a7a" fill-opacity="0.5"/>
<circle cx="1510.71" cy="1082.29" r="3.1" fill="#7a7a7a" fill-opacity="0.5"/>
<circle cx="1518.35" cy="1147.02" r="3.1" fill="#7a7a7a" fill-opacity="0.5"/>
<circle cx="1513.78" cy="1211.72" r="3.1" fill="#7a7a7a" fill-opacity="0.5"/>
<circle cx="1521.63" cy="1162.19" r="3.1" fill="#7a7a7a" fill-opacity="0.5"/>
<circle cx="1506.65" cy="1072.44" r="3.1" fill="#7a7a7a" fill-opacity="0.5"/>
<circle cx="1521.74" cy="963.21" r="3.1" fill="#7a7a7a" fill-opacity="0.5"/>
<circle cx="1523.75" cy="1025.05" r="3.1" fill="#7a7a7a" fill-opacity="0.5"/>
<circle cx="1542.00" cy="1200.22" r="3.1" fill="#7a7a7a" fill-opacity="0.5"/>
<circle cx="1554.00" cy="1137.36" r="3.1" fill="#7a7a7a" fill-opacity="0.5"/>
<circle cx="1530.44" cy="1091.38" r="3.1" fill="#7a7a7a" fill-opacity="0.5"/>
<circle cx="1512.52" cy="1106.72" r="3.1" fill="#7a7a7a" fill-opacity="0.5"/>
<circle cx="1532.06" cy="1090.83" r="3.1" fill="#7a7a7a" fill-opacity="0.5"/>
<circle cx="1531.25" cy="1028.55" r="3.1" fill="#7a7a7a" fill-opacity="0.5"/>
<circle cx="1518.79" cy="1079.85" r="3.1" fill="#7a7a7a" fill-opacity="0.5"/>
<circle cx="1509.37" cy="1161.12" r="3.1" fill="#7a7a7a" fill-opacity="0.5"/>
<circle cx="1505.03" cy="1271.58" r="3.1" fill="#7a7a7a" fill-opacity="0.5"/>
<circle cx="1521.14" cy="1131.33" r="3.1" fill="#7a7a7a" fill-opacity="0.5"/>
<circle cx="1535.64" cy="954.30" r="3.1" fill="#7a7a7a" fill-opacity="0.5"/>
<circle cx="1517.92" cy="1117.00" r="3.1" fill="#7a7a7a" fill-opacity="0.5"/>
<circle cx="1525.50" cy="994.75" r="3.1" fill="#7a7a7a" fill-opacity="0.5"/>
<circle cx="1526.08" cy="1037.39" r="3.1" fill="#7a7a7a" fill-opacity="0.5"/>
<circle cx="1526.48" cy="973.47" r="3.1" fill="#7a7a7a" fill-opacity="0.5"/>
<circle cx="1530.56" cy="1020.67" r="3.1" fill="#7a7a7a" fill-opacity="0.5"/>
<circle cx="1499.61" cy="1013.42" r="3.1" fill="#7a7a7a" fill-opacity="0.5"/>
<circle cx="1519.95" cy="1043.00" r="3.1" fill="#7a7a7a" fill-opacity="0.5"/>
<circle cx="1525.92" cy="1014.27" r="3.1" fill="#7a7a7a" fill-opacity="0.5"/>
<circle cx="1520.71" cy="1032.43" r="3.1" fill="#7a7a7a" fill-opacity="0.5"/>
<circle cx="1533.29" cy="983.32" r="3.1" fill="#7a7a7a" fill-opacity="0.5"/>
<circle cx="1517.27" cy="1046.17" r="3.1" fill="#7a7a7a" fill-opacity="0.5"/>
<circle cx="1531.59" cy="1007.55" r="3.1" fill="#7a7a7a" fill-opacity="0.5"/>
<circle cx="1541.89" cy="1020.10" r="3.1" fill="#7a7a7a" fill-opacity="0.5"/>
<circle cx="1519.24" cy="970.83" r="3.1" fill="#7a7a7a" fill-opacity="0.5"/>
<circle cx="1522.07" cy="995.84" r="3.1" fill="#7a7a7a" fill-opacity="0.5"/>
<circle cx="1518.75" cy="1004.74" r="3.1" fill="#7a7a7a" fill-opacity="0.5"/>
<circle cx="1531.15" cy="1045.08" r="3.1" fill="#7a7a7a" fill-opacity="0.5"/>
<circle cx="1495.65" cy="1049.20" r="3.1" fill="#7a7a7a" fill-opacity="0.5"/>
<circle cx="1506.92" cy="1000.63" r="3.1" fill="#7a7a7a" fill-opacity="0.5"/>
<circle cx="1518.87" cy="970.09" r="3.1" fill="#7a7a7a" fill-opacity="0.5"/>
<circle cx="1532.72" cy="1051.35" r="3.1" fill="#7a7a7a" fill-opacity="0.5"/>
<circle cx="1528.60" cy="1018.39" r="3.1" fill="#7a7a7a" fill-opacity="0.5"/>
<circle cx="1512.50" cy="1023.43" r="3.1" fill="#7a7a7a" fill-opacity="0.5"/>
<circle cx="1542.40" cy="1057.12" r="3.1" fill="#7a7a7a" fill-opacity="0.5"/>
<circle cx="1523.02" cy="998.79" r="3.1" fill="#7a7a7a" fill-opacity="0.5"/>
<circle cx="1515.01" cy="1014.39" r="3.1" fill="#7a7a7a" fill-opacity="0.5"/>
<circle cx="1527.79" cy="1012.53" r="3.1" fill="#7a7a7a" fill-opacity="0.5"/>
<circle cx="1534.43" cy="978.86" r="3.1" fill="#7a7a7a" fill-opacity="0.5"/>
<circle cx="1521.25" cy="998.91" r="3.1" fill="#7a7a7a" fill-opacity="0.5"/>
<circle cx="1504.01" cy="1036.01" r="3.1" fill="#7a7a7a" fill-opacity="0.5"/>
<circle cx="1516.23" cy="966.18" r="3.1" fill="#7a7a7a" fill-opacity="0.5"/>
<circle cx="1522.90" cy="969.71" r="3.1" fill="#7a7a7a" fill-opacity="0.5"/>
<circle cx="1531.09" cy="992.16" r="3.1" fill="#7a7a7a" fill-opacity="0.5"/>
<circle cx="1509.82" cy="1047.41" r="3.1" fill="#7a7a7a" fill-opacity="0.5"/>
<circle cx="1524.60" cy="997.93" r="3.1" fill="#7a7a7a" fill-opacity="0.5"/>
<circle cx="1506.85" cy="1059.12" r="3.1" fill="#7a7a7a" fill-opacity="0.5"/>
<circle cx="1522.95" cy="1031.53" r="3.1" fill="#7a7a7a" fill-opacity="0.5"/>
<circle cx="1507.04" cy="1017.11" r="3.1" fill="#7a7a7a" fill-opacity="0.5"/>
<circle cx="1516.88" cy="1014.59" r="3.1" fill="#7a7a7a" fill-opacity="0.5"/>
<circle cx="1532.26" cy="1277.30" r="3.1" fill="#7a7a7a" fill-opacity="0.5"/>
<circle cx="1511.71" cy="1005.13" r="3.1" fill="#7a7a7a" fill-opacity="0.5"/>
<circle cx="1506.13" cy="996.52" r="3.1" fill="#7a7a7a" fill-opacity="0.5"/>
<circle cx="1500.02" cy="1015.69" r="3.1" fill="#7a7a7a" fill-opacity="0.5"/>
<circle cx="1533.72" cy="988.42" r="3.1" fill="#7a7a7a" fill-opacity="0.5"/>
<circle cx="1536.22" cy="1041.14" r="3.1" fill="#7a7a7a" fill-opacity="0.5"/>
<circle cx="1526.77" cy="972.27" r="3.1" fill="#7a7a7a" fill-opacity="0.5"/>
<circle cx="1518.07" cy="1200.12" r="3.1" fill="#7a7a7a" fill-opacity="0.5"/>
<circle cx="1538.95" cy="1194.83" r="3.1" fill="#7a7a7a" fill-opacity="0.5"/>
<circle cx="1518.84" cy="1192.01" r="3.1" fill="#7a7a7a" fill-opacity="0.5"/>
<circle cx="1526.73" cy="1204.25" r="3.1" fill="#7a7a7a" fill-opacity="0.5"/>
<circle cx="1531.67" cy="1240.04" r="3.1" fill="#7a7a7a" fill-opacity="0.5"/>
<circle cx="1524.70" cy="1194.69" r="3.1" fill="#7a7a7a" fill-opacity="0.5"/>
<circle cx="1538.47" cy="1202.21" r="3.1" fill="#7a7a7a" fill-opacity="0.5"/>
<circle cx="1520.72" cy="1226.82" r="3.1" fill="#7a7a7a" fill-opacity="0.5"/>
<circle cx="1520.69" cy="1254.02" r="3.1" fill="#7a7a7a" fill-opacity="0.5"/>
<circle cx="1515.83" cy="954.30" r="3.1" fill="#7a7a7a" fill-opacity="0.5"/>
<circle cx="1512.23" cy="1245.63" r="3.1" fill="#7a7a7a" fill-opacity="0.5"/>
<circle cx="1512.93" cy="1248.57" r="3.1" fill="#7a7a7a" fill-opacity="0.5"/>
<circle cx="1529.41" cy="1220.87" r="3.1" fill="#7a7a7a" fill-opacity="0.5"/>
<circle cx="1502.72" cy="1198.68" r="3.1" fill="#7a7a7a" fill-opacity="0.5"/>
<circle cx="1531.67" cy="1241.53" r="3.1" fill="#7a7a7a" fill-opacity="0.5"/>
<circle cx="1657.46" cy="1112.69" r="3.1" fill="#F0305C" fill-opacity="0.5"/>
<circle cx="1706.31" cy="1118.16" r="3.1" fill="#F0305C" fill-opacity="0.5"/>
<circle cx="1686.03" cy="1115.50" r="3.1" fill="#F0305C" fill-opacity="0.5"/>
<circle cx="1660.26" cy="1124.88" r="3.1" fill="#F0305C" fill-opacity="0.5"/>
<circle cx="1678.17" cy="1124.46" r="3.1" fill="#F0305C" fill-opacity="0.5"/>
<circle cx="1671.03" cy="1104.76" r="3.1" fill="#F0305C" fill-opacity="0.5"/>
<circle cx="1675.74" cy="1091.92" r="3.1" fill="#F0305C" fill-opacity="0.5"/>
<circle cx="1710.24" cy="1113.34" r="3.1" fill="#F0305C" fill-opacity="0.5"/>
<circle cx="1673.51" cy="1122.85" r="3.1" fill="#F0305C" fill-opacity="0.5"/>
<circle cx="1685.60" cy="1145.03" r="3.1" fill="#F0305C" fill-opacity="0.5"/>
<circle cx="1666.95" cy="1145.05" r="3.1" fill="#F0305C" fill-opacity="0.5"/>
<circle cx="1666.89" cy="1119.73" r="3.1" fill="#F0305C" fill-opacity="0.5"/>
<circle cx="1651.05" cy="1125.94" r="3.1" fill="#F0305C" fill-opacity="0.5"/>
<circle cx="1668.66" cy="1122.88" r="3.1" fill="#F0305C" fill-opacity="0.5"/>
<circle cx="1674.59" cy="1144.25" r="3.1" fill="#F0305C" fill-opacity="0.5"/>
<circle cx="1675.61" cy="1123.57" r="3.1" fill="#F0305C" fill-opacity="0.5"/>
<circle cx="1682.80" cy="1162.01" r="3.1" fill="#F0305C" fill-opacity="0.5"/>
<circle cx="1683.55" cy="1146.19" r="3.1" fill="#F0305C" fill-opacity="0.5"/>
<circle cx="1694.07" cy="1137.84" r="3.1" fill="#F0305C" fill-opacity="0.5"/>
<circle cx="1677.69" cy="1108.84" r="3.1" fill="#F0305C" fill-opacity="0.5"/>
<circle cx="1706.88" cy="1134.15" r="3.1" fill="#F0305C" fill-opacity="0.5"/>
<circle cx="1692.88" cy="1141.24" r="3.1" fill="#F0305C" fill-opacity="0.5"/>
<circle cx="1709.43" cy="1115.75" r="3.1" fill="#F0305C" fill-opacity="0.5"/>
<circle cx="1680.83" cy="1123.59" r="3.1" fill="#F0305C" fill-opacity="0.5"/>
<circle cx="1704.34" cy="1102.15" r="3.1" fill="#F0305C" fill-opacity="0.5"/>
<circle cx="1683.78" cy="1114.83" r="3.1" fill="#F0305C" fill-opacity="0.5"/>
<circle cx="1648.82" cy="1117.20" r="3.1" fill="#F0305C" fill-opacity="0.5"/>
<circle cx="1681.49" cy="1125.75" r="3.1" fill="#F0305C" fill-opacity="0.5"/>
<circle cx="1678.56" cy="1107.90" r="3.1" fill="#F0305C" fill-opacity="0.5"/>
<circle cx="1654.80" cy="1137.29" r="3.1" fill="#F0305C" fill-opacity="0.5"/>
<circle cx="1666.01" cy="1154.08" r="3.1" fill="#F0305C" fill-opacity="0.5"/>
<circle cx="1670.70" cy="1102.97" r="3.1" fill="#F0305C" fill-opacity="0.5"/>
<circle cx="1724.87" cy="1132.02" r="3.1" fill="#F0305C" fill-opacity="0.5"/>
<circle cx="1688.16" cy="1121.09" r="3.1" fill="#F0305C" fill-opacity="0.5"/>
<circle cx="1717.13" cy="1108.97" r="3.1" fill="#F0305C" fill-opacity="0.5"/>
<circle cx="1699.03" cy="1100.72" r="3.1" fill="#F0305C" fill-opacity="0.5"/>
<circle cx="1696.47" cy="1183.21" r="3.1" fill="#F0305C" fill-opacity="0.5"/>
<circle cx="1696.40" cy="1144.24" r="3.1" fill="#F0305C" fill-opacity="0.5"/>
<circle cx="1656.05" cy="1096.36" r="3.1" fill="#F0305C" fill-opacity="0.5"/>
<circle cx="1701.76" cy="1158.07" r="3.1" fill="#F0305C" fill-opacity="0.5"/>
<circle cx="1662.34" cy="1112.26" r="3.1" fill="#F0305C" fill-opacity="0.5"/>
<circle cx="1690.66" cy="1129.87" r="3.1" fill="#F0305C" fill-opacity="0.5"/>
<circle cx="1680.31" cy="1140.99" r="3.1" fill="#F0305C" fill-opacity="0.5"/>
<circle cx="1714.33" cy="1125.01" r="3.1" fill="#F0305C" fill-opacity="0.5"/>
<circle cx="1703.13" cy="954.30" r="3.1" fill="#F0305C" fill-opacity="0.5"/>
<circle cx="1718.45" cy="1113.74" r="3.1" fill="#F0305C" fill-opacity="0.5"/>
<circle cx="1690.90" cy="1097.56" r="3.1" fill="#F0305C" fill-opacity="0.5"/>
<circle cx="1682.43" cy="1152.33" r="3.1" fill="#F0305C" fill-opacity="0.5"/>
<circle cx="1696.69" cy="1136.40" r="3.1" fill="#F0305C" fill-opacity="0.5"/>
<circle cx="1721.20" cy="1097.04" r="3.1" fill="#F0305C" fill-opacity="0.5"/>
<circle cx="1692.62" cy="1114.53" r="3.1" fill="#F0305C" fill-opacity="0.5"/>
<circle cx="1683.19" cy="1129.14" r="3.1" fill="#F0305C" fill-opacity="0.5"/>
<circle cx="1661.70" cy="1092.13" r="3.1" fill="#F0305C" fill-opacity="0.5"/>
<circle cx="1670.69" cy="1157.68" r="3.1" fill="#F0305C" fill-opacity="0.5"/>
<circle cx="1680.71" cy="1128.16" r="3.1" fill="#F0305C" fill-opacity="0.5"/>
<circle cx="1695.84" cy="1120.39" r="3.1" fill="#F0305C" fill-opacity="0.5"/>
<circle cx="1694.51" cy="1129.07" r="3.1" fill="#F0305C" fill-opacity="0.5"/>
<circle cx="1680.53" cy="1105.57" r="3.1" fill="#F0305C" fill-opacity="0.5"/>
<circle cx="1684.50" cy="1157.62" r="3.1" fill="#F0305C" fill-opacity="0.5"/>
<circle cx="1712.96" cy="1121.38" r="3.1" fill="#F0305C" fill-opacity="0.5"/>
<circle cx="1716.21" cy="1138.95" r="3.1" fill="#F0305C" fill-opacity="0.5"/>
<circle cx="1703.44" cy="1097.09" r="3.1" fill="#F0305C" fill-opacity="0.5"/>
<circle cx="1710.04" cy="1100.33" r="3.1" fill="#F0305C" fill-opacity="0.5"/>
<circle cx="1705.38" cy="1138.09" r="3.1" fill="#F0305C" fill-opacity="0.5"/>
<circle cx="1714.13" cy="1145.59" r="3.1" fill="#F0305C" fill-opacity="0.5"/>
<circle cx="1657.51" cy="1123.36" r="3.1" fill="#F0305C" fill-opacity="0.5"/>
<circle cx="1694.18" cy="954.30" r="3.1" fill="#F0305C" fill-opacity="0.5"/>
<circle cx="1686.96" cy="1134.41" r="3.1" fill="#F0305C" fill-opacity="0.5"/>
<circle cx="1690.15" cy="1113.36" r="3.1" fill="#F0305C" fill-opacity="0.5"/>
<circle cx="1708.18" cy="1132.10" r="3.1" fill="#F0305C" fill-opacity="0.5"/>
<circle cx="1653.47" cy="1084.18" r="3.1" fill="#F0305C" fill-opacity="0.5"/>
<circle cx="1685.47" cy="1121.01" r="3.1" fill="#F0305C" fill-opacity="0.5"/>
<circle cx="1687.59" cy="1133.44" r="3.1" fill="#F0305C" fill-opacity="0.5"/>
<circle cx="1670.88" cy="1145.99" r="3.1" fill="#F0305C" fill-opacity="0.5"/>
<circle cx="1679.91" cy="1133.41" r="3.1" fill="#F0305C" fill-opacity="0.5"/>
<circle cx="1700.42" cy="1099.12" r="3.1" fill="#F0305C" fill-opacity="0.5"/>
<circle cx="1691.64" cy="1110.88" r="3.1" fill="#F0305C" fill-opacity="0.5"/>
<circle cx="1680.48" cy="1092.34" r="3.1" fill="#F0305C" fill-opacity="0.5"/>
<circle cx="1686.14" cy="1094.83" r="3.1" fill="#F0305C" fill-opacity="0.5"/>
<circle cx="1692.85" cy="1277.30" r="3.1" fill="#F0305C" fill-opacity="0.5"/>
<circle cx="1699.99" cy="1137.13" r="3.1" fill="#F0305C" fill-opacity="0.5"/>
<circle cx="1680.66" cy="1125.63" r="3.1" fill="#F0305C" fill-opacity="0.5"/>
<circle cx="1702.19" cy="1121.01" r="3.1" fill="#F0305C" fill-opacity="0.5"/>
<circle cx="1673.93" cy="1157.30" r="3.1" fill="#F0305C" fill-opacity="0.5"/>
<circle cx="1682.04" cy="1115.51" r="3.1" fill="#F0305C" fill-opacity="0.5"/>
<circle cx="1663.09" cy="1144.34" r="3.1" fill="#F0305C" fill-opacity="0.5"/>
<circle cx="1678.67" cy="1124.27" r="3.1" fill="#F0305C" fill-opacity="0.5"/>
<circle cx="1698.68" cy="1133.33" r="3.1" fill="#F0305C" fill-opacity="0.5"/>
<circle cx="1663.10" cy="1110.22" r="3.1" fill="#F0305C" fill-opacity="0.5"/>
<circle cx="1677.53" cy="1066.98" r="3.1" fill="#F0305C" fill-opacity="0.5"/>
<circle cx="1684.52" cy="1147.60" r="3.1" fill="#F0305C" fill-opacity="0.5"/>
<circle cx="1675.73" cy="1122.83" r="3.1" fill="#F0305C" fill-opacity="0.5"/>
<circle cx="1695.60" cy="1079.31" r="3.1" fill="#F0305C" fill-opacity="0.5"/>
<circle cx="1660.62" cy="1141.96" r="3.1" fill="#F0305C" fill-opacity="0.5"/>
<circle cx="1699.67" cy="1127.16" r="3.1" fill="#F0305C" fill-opacity="0.5"/>
<circle cx="1708.96" cy="1124.65" r="3.1" fill="#F0305C" fill-opacity="0.5"/>
<circle cx="1715.71" cy="1115.82" r="3.1" fill="#F0305C" fill-opacity="0.5"/>
<circle cx="1681.77" cy="1156.47" r="3.1" fill="#F0305C" fill-opacity="0.5"/>
<circle cx="1666.96" cy="1115.90" r="3.1" fill="#F0305C" fill-opacity="0.5"/>
<circle cx="1652.40" cy="1109.59" r="3.1" fill="#F0305C" fill-opacity="0.5"/>
<circle cx="1692.87" cy="1068.64" r="3.1" fill="#F0305C" fill-opacity="0.5"/>
<circle cx="1699.18" cy="1123.94" r="3.1" fill="#F0305C" fill-opacity="0.5"/>
<circle cx="1688.38" cy="1134.45" r="3.1" fill="#F0305C" fill-opacity="0.5"/>
<circle cx="1689.77" cy="1119.48" r="3.1" fill="#F0305C" fill-opacity="0.5"/>
<circle cx="1691.77" cy="1177.35" r="3.1" fill="#F0305C" fill-opacity="0.5"/>
<circle cx="1675.79" cy="1115.14" r="3.1" fill="#F0305C" fill-opacity="0.5"/>
<circle cx="1658.71" cy="1089.40" r="3.1" fill="#F0305C" fill-opacity="0.5"/>
<circle cx="1654.54" cy="1122.96" r="3.1" fill="#F0305C" fill-opacity="0.5"/>
<circle cx="1667.28" cy="1122.97" r="3.1" fill="#F0305C" fill-opacity="0.5"/>
<circle cx="1664.91" cy="1127.35" r="3.1" fill="#F0305C" fill-opacity="0.5"/>
<circle cx="1651.25" cy="1119.28" r="3.1" fill="#F0305C" fill-opacity="0.5"/>
<circle cx="1675.55" cy="1148.41" r="3.1" fill="#F0305C" fill-opacity="0.5"/>
<circle cx="1665.81" cy="1089.59" r="3.1" fill="#F0305C" fill-opacity="0.5"/>
<circle cx="1695.54" cy="1131.83" r="3.1" fill="#F0305C" fill-opacity="0.5"/>
<circle cx="1681.52" cy="1131.71" r="3.1" fill="#F0305C" fill-opacity="0.5"/>
<circle cx="1695.67" cy="1087.16" r="3.1" fill="#F0305C" fill-opacity="0.5"/>
<circle cx="1656.55" cy="1121.60" r="3.1" fill="#F0305C" fill-opacity="0.5"/>
<circle cx="1661.70" cy="1130.88" r="3.1" fill="#F0305C" fill-opacity="0.5"/>
<circle cx="1657.11" cy="1087.18" r="3.1" fill="#F0305C" fill-opacity="0.5"/>
<circle cx="1688.63" cy="1118.07" r="3.1" fill="#F0305C" fill-opacity="0.5"/>
<circle cx="1722.95" cy="1102.06" r="3.1" fill="#F0305C" fill-opacity="0.5"/>
<circle cx="1687.13" cy="1133.86" r="3.1" fill="#F0305C" fill-opacity="0.5"/>
<circle cx="1676.16" cy="1159.10" r="3.1" fill="#F0305C" fill-opacity="0.5"/>
<circle cx="1687.21" cy="1118.11" r="3.1" fill="#F0305C" fill-opacity="0.5"/>
<circle cx="1682.37" cy="1091.61" r="3.1" fill="#F0305C" fill-opacity="0.5"/>
<circle cx="1701.53" cy="1131.49" r="3.1" fill="#F0305C" fill-opacity="0.5"/>
<circle cx="1682.89" cy="1114.06" r="3.1" fill="#F0305C" fill-opacity="0.5"/>
<circle cx="1666.25" cy="1106.47" r="3.1" fill="#F0305C" fill-opacity="0.5"/>
<circle cx="1645.22" cy="1116.14" r="3.1" fill="#F0305C" fill-opacity="0.5"/>
<circle cx="1690.13" cy="1120.15" r="3.1" fill="#F0305C" fill-opacity="0.5"/>
<circle cx="1701.82" cy="1105.35" r="3.1" fill="#F0305C" fill-opacity="0.5"/>
<circle cx="1685.94" cy="1117.14" r="3.1" fill="#F0305C" fill-opacity="0.5"/>
<circle cx="1666.01" cy="1132.86" r="3.1" fill="#F0305C" fill-opacity="0.5"/>
<circle cx="1675.17" cy="1099.32" r="3.1" fill="#F0305C" fill-opacity="0.5"/>
<circle cx="1676.90" cy="1104.62" r="3.1" fill="#F0305C" fill-opacity="0.5"/>
<circle cx="1694.43" cy="1113.60" r="3.1" fill="#F0305C" fill-opacity="0.5"/>
<circle cx="1681.80" cy="1106.31" r="3.1" fill="#F0305C" fill-opacity="0.5"/>
<circle cx="1698.52" cy="1177.14" r="3.1" fill="#F0305C" fill-opacity="0.5"/>
<circle cx="1678.99" cy="1115.84" r="3.1" fill="#F0305C" fill-opacity="0.5"/>
<circle cx="1670.10" cy="1120.63" r="3.1" fill="#F0305C" fill-opacity="0.5"/>
<circle cx="1710.33" cy="1163.41" r="3.1" fill="#F0305C" fill-opacity="0.5"/>
<circle cx="1667.58" cy="1077.71" r="3.1" fill="#F0305C" fill-opacity="0.5"/>
<circle cx="1667.43" cy="1114.05" r="3.1" fill="#F0305C" fill-opacity="0.5"/>
<circle cx="1723.28" cy="1130.70" r="3.1" fill="#F0305C" fill-opacity="0.5"/>
<circle cx="1688.45" cy="1129.37" r="3.1" fill="#F0305C" fill-opacity="0.5"/>
<circle cx="1718.42" cy="1115.79" r="3.1" fill="#F0305C" fill-opacity="0.5"/>
<circle cx="1638.54" cy="1121.75" r="3.1" fill="#F0305C" fill-opacity="0.5"/>
<circle cx="1702.94" cy="1155.37" r="3.1" fill="#F0305C" fill-opacity="0.5"/>
<circle cx="1682.97" cy="1129.83" r="3.1" fill="#F0305C" fill-opacity="0.5"/>
<circle cx="1685.01" cy="1111.94" r="3.1" fill="#F0305C" fill-opacity="0.5"/>
<circle cx="1692.44" cy="1108.41" r="3.1" fill="#F0305C" fill-opacity="0.5"/>
<circle cx="1641.71" cy="1103.08" r="3.1" fill="#F0305C" fill-opacity="0.5"/>
<circle cx="1667.09" cy="1143.72" r="3.1" fill="#F0305C" fill-opacity="0.5"/>
<circle cx="1691.40" cy="1134.65" r="3.1" fill="#F0305C" fill-opacity="0.5"/>
<circle cx="1725.97" cy="1113.44" r="3.1" fill="#F0305C" fill-opacity="0.5"/>
<circle cx="1668.68" cy="1134.11" r="3.1" fill="#F0305C" fill-opacity="0.5"/>
<circle cx="1726.37" cy="1116.72" r="3.1" fill="#F0305C" fill-opacity="0.5"/>
<circle cx="1694.64" cy="1138.75" r="3.1" fill="#F0305C" fill-opacity="0.5"/>
<circle cx="1702.78" cy="1108.80" r="3.1" fill="#F0305C" fill-opacity="0.5"/>
<circle cx="1663.80" cy="1119.83" r="3.1" fill="#F0305C" fill-opacity="0.5"/>
<circle cx="1694.76" cy="1108.82" r="3.1" fill="#F0305C" fill-opacity="0.5"/>
<circle cx="1665.84" cy="1120.29" r="3.1" fill="#F0305C" fill-opacity="0.5"/>
<circle cx="1660.52" cy="1137.59" r="3.1" fill="#F0305C" fill-opacity="0.5"/>
<circle cx="1704.91" cy="1146.71" r="3.1" fill="#F0305C" fill-opacity="0.5"/>
<circle cx="1668.95" cy="1119.99" r="3.1" fill="#F0305C" fill-opacity="0.5"/>
<circle cx="1673.26" cy="1133.78" r="3.1" fill="#F0305C" fill-opacity="0.5"/>
<circle cx="1694.28" cy="1152.25" r="3.1" fill="#F0305C" fill-opacity="0.5"/>
<circle cx="1667.38" cy="1132.41" r="3.1" fill="#F0305C" fill-opacity="0.5"/>
<circle cx="1659.34" cy="1104.12" r="3.1" fill="#F0305C" fill-opacity="0.5"/>
<circle cx="1686.77" cy="1094.66" r="3.1" fill="#F0305C" fill-opacity="0.5"/>
<circle cx="1688.01" cy="1104.66" r="3.1" fill="#F0305C" fill-opacity="0.5"/>
<circle cx="1708.40" cy="1092.01" r="3.1" fill="#F0305C" fill-opacity="0.5"/>
<circle cx="1660.89" cy="1128.48" r="3.1" fill="#F0305C" fill-opacity="0.5"/>
<circle cx="1697.16" cy="1123.79" r="3.1" fill="#F0305C" fill-opacity="0.5"/>
<circle cx="1695.81" cy="1140.70" r="3.1" fill="#F0305C" fill-opacity="0.5"/>
<circle cx="1674.72" cy="1136.91" r="3.1" fill="#F0305C" fill-opacity="0.5"/>
<circle cx="1680.11" cy="1086.57" r="3.1" fill="#F0305C" fill-opacity="0.5"/>
<circle cx="1683.30" cy="1111.36" r="3.1" fill="#F0305C" fill-opacity="0.5"/>
<circle cx="1663.22" cy="1106.81" r="3.1" fill="#F0305C" fill-opacity="0.5"/>
<circle cx="1663.36" cy="1065.48" r="3.1" fill="#F0305C" fill-opacity="0.5"/>
<circle cx="1693.69" cy="1079.79" r="3.1" fill="#F0305C" fill-opacity="0.5"/>
<circle cx="1663.19" cy="1138.68" r="3.1" fill="#F0305C" fill-opacity="0.5"/>
<circle cx="1665.22" cy="1099.75" r="3.1" fill="#F0305C" fill-opacity="0.5"/>
<circle cx="1697.58" cy="1136.34" r="3.1" fill="#F0305C" fill-opacity="0.5"/>
<circle cx="1672.99" cy="1099.50" r="3.1" fill="#F0305C" fill-opacity="0.5"/>
<circle cx="1676.47" cy="1160.05" r="3.1" fill="#F0305C" fill-opacity="0.5"/>
<circle cx="1657.25" cy="1140.19" r="3.1" fill="#F0305C" fill-opacity="0.5"/>
<circle cx="1660.13" cy="1139.72" r="3.1" fill="#F0305C" fill-opacity="0.5"/>
<circle cx="1661.36" cy="1078.03" r="3.1" fill="#F0305C" fill-opacity="0.5"/>
<circle cx="1661.01" cy="1157.87" r="3.1" fill="#F0305C" fill-opacity="0.5"/>
<circle cx="1700.22" cy="1057.22" r="3.1" fill="#F0305C" fill-opacity="0.5"/>
<circle cx="1668.66" cy="1058.89" r="3.1" fill="#F0305C" fill-opacity="0.5"/>
<circle cx="1640.92" cy="1105.57" r="3.1" fill="#F0305C" fill-opacity="0.5"/>
<circle cx="1665.84" cy="1070.72" r="3.1" fill="#F0305C" fill-opacity="0.5"/>
<circle cx="1690.00" cy="985.45" r="3.1" fill="#F0305C" fill-opacity="0.5"/>
<circle cx="1661.40" cy="1098.98" r="3.1" fill="#F0305C" fill-opacity="0.5"/>
<circle cx="1681.13" cy="1124.81" r="3.1" fill="#F0305C" fill-opacity="0.5"/>
<circle cx="1669.54" cy="1045.22" r="3.1" fill="#F0305C" fill-opacity="0.5"/>
<circle cx="1655.63" cy="1073.08" r="3.1" fill="#F0305C" fill-opacity="0.5"/>
<circle cx="1674.14" cy="1167.51" r="3.1" fill="#F0305C" fill-opacity="0.5"/>
<circle cx="1663.00" cy="1102.16" r="3.1" fill="#F0305C" fill-opacity="0.5"/>
<circle cx="1684.91" cy="1097.45" r="3.1" fill="#F0305C" fill-opacity="0.5"/>
<circle cx="1692.11" cy="1167.27" r="3.1" fill="#F0305C" fill-opacity="0.5"/>
<circle cx="1680.80" cy="1157.90" r="3.1" fill="#F0305C" fill-opacity="0.5"/>
<circle cx="1721.38" cy="1143.80" r="3.1" fill="#F0305C" fill-opacity="0.5"/>
<circle cx="1667.06" cy="1170.34" r="3.1" fill="#F0305C" fill-opacity="0.5"/>
<circle cx="1703.34" cy="1086.25" r="3.1" fill="#F0305C" fill-opacity="0.5"/>
<circle cx="1689.12" cy="1096.83" r="3.1" fill="#F0305C" fill-opacity="0.5"/>
<circle cx="1698.63" cy="1220.38" r="3.1" fill="#F0305C" fill-opacity="0.5"/>
<circle cx="1691.86" cy="1132.37" r="3.1" fill="#F0305C" fill-opacity="0.5"/>
<circle cx="1641.36" cy="1104.15" r="3.1" fill="#F0305C" fill-opacity="0.5"/>
<circle cx="1677.87" cy="1178.04" r="3.1" fill="#F0305C" fill-opacity="0.5"/>
<circle cx="1688.87" cy="954.30" r="3.1" fill="#F0305C" fill-opacity="0.5"/>
<circle cx="1682.02" cy="1097.76" r="3.1" fill="#F0305C" fill-opacity="0.5"/>
<circle cx="1664.56" cy="1195.45" r="3.1" fill="#F0305C" fill-opacity="0.5"/>
<circle cx="1670.71" cy="1127.22" r="3.1" fill="#F0305C" fill-opacity="0.5"/>
<circle cx="1685.62" cy="1228.42" r="3.1" fill="#F0305C" fill-opacity="0.5"/>
<circle cx="1694.34" cy="1277.30" r="3.1" fill="#F0305C" fill-opacity="0.5"/>
<circle cx="1671.38" cy="1148.69" r="3.1" fill="#F0305C" fill-opacity="0.5"/>
<circle cx="1683.05" cy="1184.03" r="3.1" fill="#F0305C" fill-opacity="0.5"/>
<circle cx="1669.67" cy="1203.66" r="3.1" fill="#F0305C" fill-opacity="0.5"/>
<circle cx="1665.95" cy="1194.22" r="3.1" fill="#F0305C" fill-opacity="0.5"/>
<circle cx="1674.48" cy="1050.57" r="3.1" fill="#F0305C" fill-opacity="0.5"/>
<circle cx="1703.11" cy="1155.00" r="3.1" fill="#F0305C" fill-opacity="0.5"/>
<circle cx="1678.73" cy="954.30" r="3.1" fill="#F0305C" fill-opacity="0.5"/>
<circle cx="1675.94" cy="1133.38" r="3.1" fill="#F0305C" fill-opacity="0.5"/>
<circle cx="1681.25" cy="1188.22" r="3.1" fill="#F0305C" fill-opacity="0.5"/>
<circle cx="1689.60" cy="1076.84" r="3.1" fill="#F0305C" fill-opacity="0.5"/>
<circle cx="1680.41" cy="1237.63" r="3.1" fill="#F0305C" fill-opacity="0.5"/>
<circle cx="1674.89" cy="1070.74" r="3.1" fill="#F0305C" fill-opacity="0.5"/>
<circle cx="1676.28" cy="1152.03" r="3.1" fill="#F0305C" fill-opacity="0.5"/>
<circle cx="1693.56" cy="1112.78" r="3.1" fill="#F0305C" fill-opacity="0.5"/>
<circle cx="1673.91" cy="1100.47" r="3.1" fill="#F0305C" fill-opacity="0.5"/>
<circle cx="1693.07" cy="1073.90" r="3.1" fill="#F0305C" fill-opacity="0.5"/>
<circle cx="1674.95" cy="954.30" r="3.1" fill="#F0305C" fill-opacity="0.5"/>
<circle cx="1669.00" cy="1085.19" r="3.1" fill="#F0305C" fill-opacity="0.5"/>
<circle cx="1672.22" cy="1117.86" r="3.1" fill="#F0305C" fill-opacity="0.5"/>
<circle cx="1692.44" cy="1123.05" r="3.1" fill="#F0305C" fill-opacity="0.5"/>
<circle cx="1662.74" cy="1129.32" r="3.1" fill="#F0305C" fill-opacity="0.5"/>
<circle cx="1673.43" cy="1060.55" r="3.1" fill="#F0305C" fill-opacity="0.5"/>
<circle cx="1686.24" cy="1092.34" r="3.1" fill="#F0305C" fill-opacity="0.5"/>
<circle cx="1679.72" cy="1052.95" r="3.1" fill="#F0305C" fill-opacity="0.5"/>
<circle cx="1671.03" cy="1070.47" r="3.1" fill="#F0305C" fill-opacity="0.5"/>
<circle cx="1677.15" cy="1213.14" r="3.1" fill="#F0305C" fill-opacity="0.5"/>
<circle cx="1662.08" cy="1120.73" r="3.1" fill="#F0305C" fill-opacity="0.5"/>
<circle cx="1692.85" cy="1066.04" r="3.1" fill="#F0305C" fill-opacity="0.5"/>
<circle cx="1687.66" cy="1160.17" r="3.1" fill="#F0305C" fill-opacity="0.5"/>
<circle cx="1692.44" cy="1198.62" r="3.1" fill="#F0305C" fill-opacity="0.5"/>
<circle cx="1706.79" cy="1228.88" r="3.1" fill="#F0305C" fill-opacity="0.5"/>
<circle cx="1697.10" cy="1017.94" r="3.1" fill="#F0305C" fill-opacity="0.5"/>
<circle cx="1688.83" cy="1161.46" r="3.1" fill="#F0305C" fill-opacity="0.5"/>
<circle cx="1679.36" cy="1107.60" r="3.1" fill="#F0305C" fill-opacity="0.5"/>
<circle cx="1713.66" cy="1169.08" r="3.1" fill="#F0305C" fill-opacity="0.5"/>
<circle cx="1685.83" cy="1095.15" r="3.1" fill="#F0305C" fill-opacity="0.5"/>
<circle cx="1679.82" cy="954.30" r="3.1" fill="#F0305C" fill-opacity="0.5"/>
<circle cx="1699.00" cy="1187.70" r="3.1" fill="#F0305C" fill-opacity="0.5"/>
<circle cx="1690.65" cy="1119.26" r="3.1" fill="#F0305C" fill-opacity="0.5"/>
<circle cx="1678.26" cy="1153.91" r="3.1" fill="#F0305C" fill-opacity="0.5"/>
<circle cx="1688.09" cy="1208.92" r="3.1" fill="#F0305C" fill-opacity="0.5"/>
<circle cx="1712.55" cy="1160.28" r="3.1" fill="#F0305C" fill-opacity="0.5"/>
<circle cx="1685.78" cy="1114.72" r="3.1" fill="#F0305C" fill-opacity="0.5"/>
<circle cx="1688.33" cy="1055.04" r="3.1" fill="#F0305C" fill-opacity="0.5"/>
<circle cx="1671.02" cy="1052.82" r="3.1" fill="#F0305C" fill-opacity="0.5"/>
<circle cx="1674.23" cy="1116.83" r="3.1" fill="#F0305C" fill-opacity="0.5"/>
<circle cx="1694.92" cy="1197.86" r="3.1" fill="#F0305C" fill-opacity="0.5"/>
<circle cx="1682.17" cy="1083.25" r="3.1" fill="#F0305C" fill-opacity="0.5"/>
<circle cx="1686.39" cy="1116.21" r="3.1" fill="#F0305C" fill-opacity="0.5"/>
<circle cx="1705.87" cy="1116.75" r="3.1" fill="#F0305C" fill-opacity="0.5"/>
<circle cx="1679.18" cy="1172.63" r="3.1" fill="#F0305C" fill-opacity="0.5"/>
<circle cx="1715.00" cy="1123.68" r="3.1" fill="#F0305C" fill-opacity="0.5"/>
<circle cx="1675.58" cy="1018.66" r="3.1" fill="#F0305C" fill-opacity="0.5"/>
<circle cx="1673.79" cy="1042.08" r="3.1" fill="#F0305C" fill-opacity="0.5"/>
<circle cx="1672.66" cy="1052.75" r="3.1" fill="#F0305C" fill-opacity="0.5"/>
<circle cx="1660.56" cy="1082.70" r="3.1" fill="#F0305C" fill-opacity="0.5"/>
<circle cx="1694.53" cy="1135.49" r="3.1" fill="#F0305C" fill-opacity="0.5"/>
<circle cx="1684.68" cy="1115.71" r="3.1" fill="#F0305C" fill-opacity="0.5"/>
<circle cx="1710.38" cy="1108.31" r="3.1" fill="#F0305C" fill-opacity="0.5"/>
<circle cx="1671.27" cy="1096.46" r="3.1" fill="#F0305C" fill-opacity="0.5"/>
<circle cx="1698.36" cy="1133.06" r="3.1" fill="#F0305C" fill-opacity="0.5"/>
<circle cx="1704.37" cy="1158.61" r="3.1" fill="#F0305C" fill-opacity="0.5"/>
<circle cx="1680.41" cy="1060.34" r="3.1" fill="#F0305C" fill-opacity="0.5"/>
<circle cx="1680.69" cy="1134.22" r="3.1" fill="#F0305C" fill-opacity="0.5"/>
<circle cx="1649.26" cy="1074.02" r="3.1" fill="#F0305C" fill-opacity="0.5"/>
<circle cx="1722.05" cy="1124.37" r="3.1" fill="#F0305C" fill-opacity="0.5"/>
<circle cx="1681.51" cy="1082.11" r="3.1" fill="#F0305C" fill-opacity="0.5"/>
<circle cx="1694.84" cy="1090.17" r="3.1" fill="#F0305C" fill-opacity="0.5"/>
<circle cx="1675.46" cy="1078.97" r="3.1" fill="#F0305C" fill-opacity="0.5"/>
<circle cx="1688.76" cy="1081.55" r="3.1" fill="#F0305C" fill-opacity="0.5"/>
<circle cx="1666.22" cy="1162.59" r="3.1" fill="#F0305C" fill-opacity="0.5"/>
<circle cx="1693.04" cy="1182.86" r="3.1" fill="#F0305C" fill-opacity="0.5"/>
<circle cx="1685.61" cy="1117.92" r="3.1" fill="#F0305C" fill-opacity="0.5"/>
<circle cx="1678.47" cy="1033.71" r="3.1" fill="#F0305C" fill-opacity="0.5"/>
<circle cx="1690.14" cy="1156.86" r="3.1" fill="#F0305C" fill-opacity="0.5"/>
<circle cx="1656.34" cy="1161.60" r="3.1" fill="#F0305C" fill-opacity="0.5"/>
<circle cx="1685.01" cy="1002.89" r="3.1" fill="#F0305C" fill-opacity="0.5"/>
<circle cx="1677.43" cy="1192.19" r="3.1" fill="#F0305C" fill-opacity="0.5"/>
<circle cx="1708.67" cy="1143.98" r="3.1" fill="#F0305C" fill-opacity="0.5"/>
<circle cx="1697.69" cy="1135.91" r="3.1" fill="#F0305C" fill-opacity="0.5"/>
<circle cx="1680.09" cy="1149.25" r="3.1" fill="#F0305C" fill-opacity="0.5"/>
<circle cx="1678.20" cy="1147.63" r="3.1" fill="#F0305C" fill-opacity="0.5"/>
<circle cx="1714.45" cy="1062.32" r="3.1" fill="#F0305C" fill-opacity="0.5"/>
<circle cx="1664.50" cy="1105.51" r="3.1" fill="#F0305C" fill-opacity="0.5"/>
<circle cx="1719.10" cy="1106.70" r="3.1" fill="#F0305C" fill-opacity="0.5"/>
<circle cx="1694.95" cy="1197.65" r="3.1" fill="#F0305C" fill-opacity="0.5"/>
<circle cx="1694.83" cy="1076.39" r="3.1" fill="#F0305C" fill-opacity="0.5"/>
<circle cx="1646.81" cy="1107.56" r="3.1" fill="#F0305C" fill-opacity="0.5"/>
<circle cx="1683.87" cy="1277.30" r="3.1" fill="#F0305C" fill-opacity="0.5"/>
<circle cx="1675.35" cy="1074.90" r="3.1" fill="#F0305C" fill-opacity="0.5"/>
<circle cx="1694.01" cy="954.30" r="3.1" fill="#F0305C" fill-opacity="0.5"/>
<circle cx="1694.79" cy="1117.09" r="3.1" fill="#F0305C" fill-opacity="0.5"/>
<circle cx="1670.69" cy="1094.99" r="3.1" fill="#F0305C" fill-opacity="0.5"/>
<circle cx="1692.32" cy="1150.61" r="3.1" fill="#F0305C" fill-opacity="0.5"/>
<circle cx="1668.47" cy="1160.36" r="3.1" fill="#F0305C" fill-opacity="0.5"/>
<circle cx="1690.46" cy="1182.51" r="3.1" fill="#F0305C" fill-opacity="0.5"/>
<circle cx="1689.18" cy="1067.89" r="3.1" fill="#F0305C" fill-opacity="0.5"/>
<circle cx="1668.36" cy="1147.87" r="3.1" fill="#F0305C" fill-opacity="0.5"/>
<circle cx="1664.58" cy="1106.89" r="3.1" fill="#F0305C" fill-opacity="0.5"/>
<circle cx="1672.87" cy="1060.78" r="3.1" fill="#F0305C" fill-opacity="0.5"/>
<circle cx="1675.81" cy="1026.27" r="3.1" fill="#F0305C" fill-opacity="0.5"/>
<circle cx="1671.10" cy="1133.29" r="3.1" fill="#F0305C" fill-opacity="0.5"/>
<circle cx="1717.60" cy="1107.33" r="3.1" fill="#F0305C" fill-opacity="0.5"/>
<circle cx="1690.52" cy="1110.81" r="3.1" fill="#F0305C" fill-opacity="0.5"/>
<circle cx="1677.87" cy="1180.01" r="3.1" fill="#F0305C" fill-opacity="0.5"/>
<circle cx="1676.39" cy="1139.14" r="3.1" fill="#F0305C" fill-opacity="0.5"/>
<circle cx="1673.79" cy="977.56" r="3.1" fill="#F0305C" fill-opacity="0.5"/>
<circle cx="1687.73" cy="1118.60" r="3.1" fill="#F0305C" fill-opacity="0.5"/>
<circle cx="1681.50" cy="1028.09" r="3.1" fill="#F0305C" fill-opacity="0.5"/>
<circle cx="1671.94" cy="1077.77" r="3.1" fill="#F0305C" fill-opacity="0.5"/>
<circle cx="1673.50" cy="1028.64" r="3.1" fill="#F0305C" fill-opacity="0.5"/>
<circle cx="1676.74" cy="1049.96" r="3.1" fill="#F0305C" fill-opacity="0.5"/>
<circle cx="1672.39" cy="954.30" r="3.1" fill="#F0305C" fill-opacity="0.5"/>
<circle cx="1683.81" cy="1176.56" r="3.1" fill="#F0305C" fill-opacity="0.5"/>
<circle cx="1670.19" cy="1044.73" r="3.1" fill="#F0305C" fill-opacity="0.5"/>
<circle cx="1690.54" cy="1080.50" r="3.1" fill="#F0305C" fill-opacity="0.5"/>
<circle cx="1676.73" cy="1091.52" r="3.1" fill="#F0305C" fill-opacity="0.5"/>
<circle cx="1690.20" cy="1072.61" r="3.1" fill="#F0305C" fill-opacity="0.5"/>
<circle cx="1672.98" cy="1154.64" r="3.1" fill="#F0305C" fill-opacity="0.5"/>
<circle cx="1646.37" cy="1109.07" r="3.1" fill="#F0305C" fill-opacity="0.5"/>
<circle cx="1656.29" cy="1115.69" r="3.1" fill="#F0305C" fill-opacity="0.5"/>
<circle cx="1674.76" cy="954.30" r="3.1" fill="#F0305C" fill-opacity="0.5"/>
<circle cx="1687.59" cy="1174.79" r="3.1" fill="#F0305C" fill-opacity="0.5"/>
<circle cx="1690.46" cy="1121.75" r="3.1" fill="#F0305C" fill-opacity="0.5"/>
<circle cx="1688.41" cy="1225.02" r="3.1" fill="#F0305C" fill-opacity="0.5"/>
<circle cx="1693.00" cy="1079.29" r="3.1" fill="#F0305C" fill-opacity="0.5"/>
<circle cx="1688.11" cy="1077.62" r="3.1" fill="#F0305C" fill-opacity="0.5"/>
<circle cx="1691.30" cy="1119.41" r="3.1" fill="#F0305C" fill-opacity="0.5"/>
<circle cx="1678.51" cy="1101.89" r="3.1" fill="#F0305C" fill-opacity="0.5"/>
<circle cx="1689.70" cy="1205.47" r="3.1" fill="#F0305C" fill-opacity="0.5"/>
<circle cx="1680.56" cy="1107.36" r="3.1" fill="#F0305C" fill-opacity="0.5"/>
<circle cx="1681.50" cy="1078.80" r="3.1" fill="#F0305C" fill-opacity="0.5"/>
<circle cx="1685.33" cy="1062.14" r="3.1" fill="#F0305C" fill-opacity="0.5"/>
<circle cx="1710.49" cy="1024.71" r="3.1" fill="#F0305C" fill-opacity="0.5"/>
<circle cx="1653.92" cy="1113.80" r="3.1" fill="#F0305C" fill-opacity="0.5"/>
<circle cx="1669.55" cy="954.30" r="3.1" fill="#F0305C" fill-opacity="0.5"/>
<circle cx="1704.32" cy="954.30" r="3.1" fill="#F0305C" fill-opacity="0.5"/>
<circle cx="1688.14" cy="1036.32" r="3.1" fill="#F0305C" fill-opacity="0.5"/>
<circle cx="1682.87" cy="1010.25" r="3.1" fill="#F0305C" fill-opacity="0.5"/>
<circle cx="1704.50" cy="1177.39" r="3.1" fill="#F0305C" fill-opacity="0.5"/>
<circle cx="1663.22" cy="1209.83" r="3.1" fill="#F0305C" fill-opacity="0.5"/>
<circle cx="1706.13" cy="1037.47" r="3.1" fill="#F0305C" fill-opacity="0.5"/>
<circle cx="1668.07" cy="1221.42" r="3.1" fill="#F0305C" fill-opacity="0.5"/>
<circle cx="1672.18" cy="1162.45" r="3.1" fill="#F0305C" fill-opacity="0.5"/>
<circle cx="1689.76" cy="1018.93" r="3.1" fill="#F0305C" fill-opacity="0.5"/>
<circle cx="1683.89" cy="1207.04" r="3.1" fill="#F0305C" fill-opacity="0.5"/>
<circle cx="1682.54" cy="1196.99" r="3.1" fill="#F0305C" fill-opacity="0.5"/>
<circle cx="1683.69" cy="1220.49" r="3.1" fill="#F0305C" fill-opacity="0.5"/>
<circle cx="1687.86" cy="1202.56" r="3.1" fill="#F0305C" fill-opacity="0.5"/>
<circle cx="1695.28" cy="954.30" r="3.1" fill="#F0305C" fill-opacity="0.5"/>
<circle cx="1688.71" cy="1058.71" r="3.1" fill="#F0305C" fill-opacity="0.5"/>
<circle cx="1694.64" cy="1277.30" r="3.1" fill="#F0305C" fill-opacity="0.5"/>
<circle cx="1701.96" cy="1277.30" r="3.1" fill="#F0305C" fill-opacity="0.5"/>
<circle cx="1683.53" cy="1277.30" r="3.1" fill="#F0305C" fill-opacity="0.5"/>
<circle cx="1706.64" cy="1212.46" r="3.1" fill="#F0305C" fill-opacity="0.5"/>
<circle cx="1694.34" cy="1013.90" r="3.1" fill="#F0305C" fill-opacity="0.5"/>
<circle cx="1682.59" cy="954.30" r="3.1" fill="#F0305C" fill-opacity="0.5"/>
<circle cx="1678.18" cy="1277.30" r="3.1" fill="#F0305C" fill-opacity="0.5"/>
<circle cx="1705.12" cy="1266.89" r="3.1" fill="#F0305C" fill-opacity="0.5"/>
<circle cx="1675.09" cy="1049.90" r="3.1" fill="#F0305C" fill-opacity="0.5"/>
<circle cx="1677.58" cy="1086.38" r="3.1" fill="#F0305C" fill-opacity="0.5"/>
<circle cx="1671.45" cy="1069.56" r="3.1" fill="#F0305C" fill-opacity="0.5"/>
<circle cx="1704.07" cy="1049.34" r="3.1" fill="#F0305C" fill-opacity="0.5"/>
<circle cx="1676.09" cy="1200.68" r="3.1" fill="#F0305C" fill-opacity="0.5"/>
<circle cx="1691.92" cy="1098.17" r="3.1" fill="#F0305C" fill-opacity="0.5"/>
<circle cx="1657.17" cy="1135.00" r="3.1" fill="#F0305C" fill-opacity="0.5"/>
<circle cx="1666.04" cy="998.31" r="3.1" fill="#F0305C" fill-opacity="0.5"/>
<circle cx="1701.21" cy="1137.55" r="3.1" fill="#F0305C" fill-opacity="0.5"/>
<circle cx="1678.73" cy="1277.30" r="3.1" fill="#F0305C" fill-opacity="0.5"/>
<circle cx="1692.41" cy="995.43" r="3.1" fill="#F0305C" fill-opacity="0.5"/>
<circle cx="1670.30" cy="954.30" r="3.1" fill="#F0305C" fill-opacity="0.5"/>
<circle cx="1679.26" cy="1021.79" r="3.1" fill="#F0305C" fill-opacity="0.5"/>
<circle cx="1675.73" cy="1139.61" r="3.1" fill="#F0305C" fill-opacity="0.5"/>
<circle cx="1668.57" cy="1195.61" r="3.1" fill="#F0305C" fill-opacity="0.5"/>
<circle cx="1678.18" cy="1018.92" r="3.1" fill="#F0305C" fill-opacity="0.5"/>
<circle cx="1703.89" cy="1157.88" r="3.1" fill="#F0305C" fill-opacity="0.5"/>
<circle cx="1680.75" cy="1062.83" r="3.1" fill="#F0305C" fill-opacity="0.5"/>
<circle cx="1666.02" cy="1039.32" r="3.1" fill="#F0305C" fill-opacity="0.5"/>
<circle cx="1678.47" cy="1122.29" r="3.1" fill="#F0305C" fill-opacity="0.5"/>
<circle cx="1666.98" cy="1277.30" r="3.1" fill="#F0305C" fill-opacity="0.5"/>
<circle cx="1666.40" cy="1064.97" r="3.1" fill="#F0305C" fill-opacity="0.5"/>
<circle cx="1681.51" cy="1200.97" r="3.1" fill="#F0305C" fill-opacity="0.5"/>
<circle cx="1675.21" cy="1251.61" r="3.1" fill="#F0305C" fill-opacity="0.5"/>
<circle cx="1658.44" cy="1114.66" r="3.1" fill="#F0305C" fill-opacity="0.5"/>
<circle cx="1709.75" cy="1098.16" r="3.1" fill="#F0305C" fill-opacity="0.5"/>
<circle cx="1717.08" cy="1118.87" r="3.1" fill="#F0305C" fill-opacity="0.5"/>
<circle cx="1684.86" cy="1053.31" r="3.1" fill="#F0305C" fill-opacity="0.5"/>
<circle cx="1685.54" cy="954.30" r="3.1" fill="#F0305C" fill-opacity="0.5"/>
<circle cx="1676.44" cy="1058.03" r="3.1" fill="#F0305C" fill-opacity="0.5"/>
<circle cx="1682.42" cy="963.45" r="3.1" fill="#F0305C" fill-opacity="0.5"/>
<circle cx="1708.81" cy="1118.03" r="3.1" fill="#F0305C" fill-opacity="0.5"/>
<circle cx="1687.58" cy="1156.03" r="3.1" fill="#F0305C" fill-opacity="0.5"/>
<circle cx="1698.95" cy="1126.24" r="3.1" fill="#F0305C" fill-opacity="0.5"/>
<circle cx="1656.87" cy="999.78" r="3.1" fill="#F0305C" fill-opacity="0.5"/>
<circle cx="1702.74" cy="1277.30" r="3.1" fill="#F0305C" fill-opacity="0.5"/>
<circle cx="1677.20" cy="1182.23" r="3.1" fill="#F0305C" fill-opacity="0.5"/>
<circle cx="1681.54" cy="1263.69" r="3.1" fill="#F0305C" fill-opacity="0.5"/>
<circle cx="1666.49" cy="982.77" r="3.1" fill="#F0305C" fill-opacity="0.5"/>
<circle cx="1674.43" cy="981.14" r="3.1" fill="#F0305C" fill-opacity="0.5"/>
<circle cx="1694.21" cy="1109.47" r="3.1" fill="#F0305C" fill-opacity="0.5"/>
<circle cx="1671.61" cy="954.30" r="3.1" fill="#F0305C" fill-opacity="0.5"/>
<circle cx="1695.97" cy="1145.76" r="3.1" fill="#F0305C" fill-opacity="0.5"/>
<circle cx="1693.86" cy="1044.41" r="3.1" fill="#F0305C" fill-opacity="0.5"/>
<circle cx="1694.89" cy="1228.43" r="3.1" fill="#F0305C" fill-opacity="0.5"/>
<circle cx="1687.59" cy="1200.93" r="3.1" fill="#F0305C" fill-opacity="0.5"/>
<circle cx="1678.08" cy="1110.47" r="3.1" fill="#F0305C" fill-opacity="0.5"/>
<circle cx="1674.24" cy="1066.61" r="3.1" fill="#F0305C" fill-opacity="0.5"/>
<circle cx="1676.79" cy="1053.87" r="3.1" fill="#F0305C" fill-opacity="0.5"/>
<circle cx="1670.01" cy="1190.61" r="3.1" fill="#F0305C" fill-opacity="0.5"/>
<circle cx="1667.11" cy="1157.40" r="3.1" fill="#F0305C" fill-opacity="0.5"/>
<circle cx="1680.84" cy="1119.52" r="3.1" fill="#F0305C" fill-opacity="0.5"/>
<circle cx="1640.90" cy="1134.94" r="3.1" fill="#F0305C" fill-opacity="0.5"/>
<circle cx="1667.12" cy="1023.51" r="3.1" fill="#F0305C" fill-opacity="0.5"/>
<circle cx="1673.17" cy="1002.32" r="3.1" fill="#F0305C" fill-opacity="0.5"/>
<circle cx="1687.66" cy="1277.30" r="3.1" fill="#F0305C" fill-opacity="0.5"/>
<circle cx="1696.19" cy="1029.34" r="3.1" fill="#F0305C" fill-opacity="0.5"/>
<circle cx="1686.19" cy="990.98" r="3.1" fill="#F0305C" fill-opacity="0.5"/>
<circle cx="1682.04" cy="1005.81" r="3.1" fill="#F0305C" fill-opacity="0.5"/>
<circle cx="1676.06" cy="1045.14" r="3.1" fill="#F0305C" fill-opacity="0.5"/>
<circle cx="1695.06" cy="994.60" r="3.1" fill="#F0305C" fill-opacity="0.5"/>
<circle cx="1692.81" cy="1063.26" r="3.1" fill="#F0305C" fill-opacity="0.5"/>
<circle cx="1673.18" cy="1061.58" r="3.1" fill="#F0305C" fill-opacity="0.5"/>
<circle cx="1682.29" cy="1008.92" r="3.1" fill="#F0305C" fill-opacity="0.5"/>
<circle cx="1687.86" cy="1031.00" r="3.1" fill="#F0305C" fill-opacity="0.5"/>
<circle cx="1693.66" cy="1009.64" r="3.1" fill="#F0305C" fill-opacity="0.5"/>
<circle cx="1677.90" cy="1064.18" r="3.1" fill="#F0305C" fill-opacity="0.5"/>
<circle cx="1704.36" cy="1063.19" r="3.1" fill="#F0305C" fill-opacity="0.5"/>
<circle cx="1697.51" cy="1027.25" r="3.1" fill="#F0305C" fill-opacity="0.5"/>
<circle cx="1677.11" cy="1047.08" r="3.1" fill="#F0305C" fill-opacity="0.5"/>
<circle cx="1680.33" cy="1022.51" r="3.1" fill="#F0305C" fill-opacity="0.5"/>
<circle cx="1671.13" cy="1028.19" r="3.1" fill="#F0305C" fill-opacity="0.5"/>
<circle cx="1671.45" cy="1027.54" r="3.1" fill="#F0305C" fill-opacity="0.5"/>
<circle cx="1686.31" cy="991.97" r="3.1" fill="#F0305C" fill-opacity="0.5"/>
<circle cx="1693.33" cy="954.30" r="3.1" fill="#F0305C" fill-opacity="0.5"/>
<circle cx="1700.25" cy="1009.04" r="3.1" fill="#F0305C" fill-opacity="0.5"/>
<circle cx="1685.39" cy="1016.26" r="3.1" fill="#F0305C" fill-opacity="0.5"/>
<circle cx="1678.48" cy="1016.45" r="3.1" fill="#F0305C" fill-opacity="0.5"/>
<circle cx="1674.51" cy="1047.90" r="3.1" fill="#F0305C" fill-opacity="0.5"/>
<circle cx="1665.24" cy="954.30" r="3.1" fill="#F0305C" fill-opacity="0.5"/>
<circle cx="1677.29" cy="1202.20" r="3.1" fill="#F0305C" fill-opacity="0.5"/>
<circle cx="1692.28" cy="1207.33" r="3.1" fill="#F0305C" fill-opacity="0.5"/>
<circle cx="1681.83" cy="1225.83" r="3.1" fill="#F0305C" fill-opacity="0.5"/>
<circle cx="1687.11" cy="1199.65" r="3.1" fill="#F0305C" fill-opacity="0.5"/>
<circle cx="1676.76" cy="1206.97" r="3.1" fill="#F0305C" fill-opacity="0.5"/>
<circle cx="1704.85" cy="1234.94" r="3.1" fill="#F0305C" fill-opacity="0.5"/>
<circle cx="1696.39" cy="1223.80" r="3.1" fill="#F0305C" fill-opacity="0.5"/>
<circle cx="1684.54" cy="1196.75" r="3.1" fill="#F0305C" fill-opacity="0.5"/>
<circle cx="1673.82" cy="1266.46" r="3.1" fill="#F0305C" fill-opacity="0.5"/>
<circle cx="1690.63" cy="1203.51" r="3.1" fill="#F0305C" fill-opacity="0.5"/>
<circle cx="1690.88" cy="1243.70" r="3.1" fill="#F0305C" fill-opacity="0.5"/>
<line x1="1572.00" y1="1112.00" x2="1594.30" y2="1112.00" stroke="#000" stroke-width="4.5" stroke-linecap="butt"/>
<line x1="1731.00" y1="1108.60" x2="1753.30" y2="1108.60" stroke="#E8365E" stroke-width="4.3" stroke-linecap="butt"/>
<line x1="1432.30" y1="953.50" x2="1432.30" y2="1278.30" stroke="#000" stroke-width="2.3" stroke-linecap="butt"/>
<line x1="1431.00" y1="1290.40" x2="1795.00" y2="1290.40" stroke="#000" stroke-width="2.3" stroke-linecap="butt"/>
<line x1="1432.30" y1="954.30" x2="1436.80" y2="954.30" stroke="#000" stroke-width="2.3" stroke-linecap="butt"/>
<line x1="1432.30" y1="1035.05" x2="1436.80" y2="1035.05" stroke="#000" stroke-width="2.3" stroke-linecap="butt"/>
<line x1="1432.30" y1="1115.80" x2="1436.80" y2="1115.80" stroke="#000" stroke-width="2.3" stroke-linecap="butt"/>
<line x1="1432.30" y1="1196.55" x2="1436.80" y2="1196.55" stroke="#000" stroke-width="2.3" stroke-linecap="butt"/>
<line x1="1432.30" y1="1277.30" x2="1436.80" y2="1277.30" stroke="#000" stroke-width="2.3" stroke-linecap="butt"/>
<line x1="1527.50" y1="929.80" x2="1684.60" y2="929.80" stroke="#000" stroke-width="2.3" stroke-linecap="butt"/>
<line x1="147.60" y1="1680.20" x2="295.70" y2="1680.20" stroke="#555" stroke-width="2.0" stroke-dasharray="7.6,5.3" stroke-linecap="butt"/>
<circle cx="188.19" cy="1518.39" r="3.0" fill="#7c7c7c" fill-opacity="0.8"/>
<circle cx="193.61" cy="1518.39" r="3.0" fill="#7c7c7c" fill-opacity="0.8"/>
<circle cx="197.13" cy="1518.39" r="3.0" fill="#7c7c7c" fill-opacity="0.8"/>
<circle cx="200.38" cy="1518.39" r="3.0" fill="#7c7c7c" fill-opacity="0.8"/>
<circle cx="203.63" cy="1518.39" r="3.0" fill="#7c7c7c" fill-opacity="0.8"/>
<circle cx="207.15" cy="1518.39" r="3.0" fill="#7c7c7c" fill-opacity="0.8"/>
<circle cx="210.67" cy="1518.39" r="3.0" fill="#7c7c7c" fill-opacity="0.8"/>
<circle cx="213.92" cy="1518.39" r="3.0" fill="#7c7c7c" fill-opacity="0.8"/>
<circle cx="216.63" cy="1518.39" r="3.0" fill="#7c7c7c" fill-opacity="0.8"/>
<circle cx="219.88" cy="1518.39" r="3.0" fill="#7c7c7c" fill-opacity="0.8"/>
<circle cx="223.40" cy="1518.39" r="3.0" fill="#7c7c7c" fill-opacity="0.8"/>
<circle cx="227.46" cy="1518.39" r="3.0" fill="#7c7c7c" fill-opacity="0.8"/>
<circle cx="236.12" cy="1518.39" r="3.0" fill="#7c7c7c" fill-opacity="0.8"/>
<circle cx="205.79" cy="1541.95" r="3.0" fill="#7c7c7c" fill-opacity="0.8"/>
<circle cx="212.02" cy="1562.26" r="3.0" fill="#7c7c7c" fill-opacity="0.8"/>
<circle cx="228.81" cy="1604.23" r="3.0" fill="#7c7c7c" fill-opacity="0.8"/>
<circle cx="228.27" cy="1619.12" r="3.0" fill="#7c7c7c" fill-opacity="0.8"/>
<circle cx="215.27" cy="1629.95" r="3.0" fill="#7c7c7c" fill-opacity="0.8"/>
<circle cx="215.81" cy="1639.97" r="3.0" fill="#7c7c7c" fill-opacity="0.8"/>
<circle cx="188.74" cy="1648.09" r="3.0" fill="#7c7c7c" fill-opacity="0.8"/>
<circle cx="190.36" cy="1657.84" r="3.0" fill="#7c7c7c" fill-opacity="0.8"/>
<circle cx="200.92" cy="1658.65" r="3.0" fill="#7c7c7c" fill-opacity="0.8"/>
<circle cx="215.81" cy="1664.61" r="3.0" fill="#7c7c7c" fill-opacity="0.8"/>
<circle cx="217.17" cy="1670.57" r="3.0" fill="#7c7c7c" fill-opacity="0.8"/>
<circle cx="206.34" cy="1672.73" r="3.0" fill="#7c7c7c" fill-opacity="0.8"/>
<circle cx="193.61" cy="1687.36" r="3.0" fill="#7c7c7c" fill-opacity="0.8"/>
<circle cx="207.42" cy="1687.63" r="3.0" fill="#7c7c7c" fill-opacity="0.8"/>
<circle cx="216.90" cy="1692.50" r="3.0" fill="#7c7c7c" fill-opacity="0.8"/>
<circle cx="213.92" cy="1709.56" r="3.0" fill="#7c7c7c" fill-opacity="0.8"/>
<circle cx="204.17" cy="1715.25" r="3.0" fill="#7c7c7c" fill-opacity="0.8"/>
<circle cx="232.33" cy="1711.73" r="3.0" fill="#7c7c7c" fill-opacity="0.8"/>
<circle cx="193.07" cy="1723.64" r="3.0" fill="#7c7c7c" fill-opacity="0.8"/>
<circle cx="224.21" cy="1722.02" r="3.0" fill="#7c7c7c" fill-opacity="0.8"/>
<circle cx="217.71" cy="1732.04" r="3.0" fill="#7c7c7c" fill-opacity="0.8"/>
<circle cx="224.75" cy="1730.68" r="3.0" fill="#7c7c7c" fill-opacity="0.8"/>
<circle cx="207.15" cy="1753.16" r="3.0" fill="#7c7c7c" fill-opacity="0.8"/>
<circle cx="196.86" cy="1760.74" r="3.0" fill="#7c7c7c" fill-opacity="0.8"/>
<circle cx="231.52" cy="1771.57" r="3.0" fill="#7c7c7c" fill-opacity="0.8"/>
<circle cx="193.07" cy="1794.59" r="3.0" fill="#7c7c7c" fill-opacity="0.8"/>
<circle cx="210.13" cy="1787.82" r="3.0" fill="#7c7c7c" fill-opacity="0.8"/>
<circle cx="204.98" cy="1795.13" r="3.0" fill="#7c7c7c" fill-opacity="0.8"/>
<circle cx="205.79" cy="1801.36" r="3.0" fill="#7c7c7c" fill-opacity="0.8"/>
<circle cx="226.10" cy="1792.96" r="3.0" fill="#7c7c7c" fill-opacity="0.8"/>
<circle cx="230.71" cy="1797.29" r="3.0" fill="#7c7c7c" fill-opacity="0.8"/>
<circle cx="213.11" cy="1814.08" r="3.0" fill="#7c7c7c" fill-opacity="0.8"/>
<circle cx="214.46" cy="1818.42" r="3.0" fill="#7c7c7c" fill-opacity="0.8"/>
<circle cx="200.92" cy="1841.70" r="3.0" fill="#7c7c7c" fill-opacity="0.8"/>
<circle cx="201.73" cy="1841.70" r="3.0" fill="#7c7c7c" fill-opacity="0.8"/>
<circle cx="222.85" cy="1841.70" r="3.0" fill="#7c7c7c" fill-opacity="0.8"/>
<circle cx="224.21" cy="1838.45" r="3.0" fill="#7c7c7c" fill-opacity="0.8"/>
<line x1="147.60" y1="1518.50" x2="147.60" y2="1842.00" stroke="#000" stroke-width="2.3" stroke-linecap="butt"/>
<line x1="146.10" y1="1854.70" x2="295.70" y2="1854.70" stroke="#000" stroke-width="2.3" stroke-linecap="butt"/>
<line x1="147.60" y1="1518.50" x2="152.10" y2="1518.50" stroke="#000" stroke-width="2.3" stroke-linecap="butt"/>
<line x1="147.60" y1="1599.35" x2="152.10" y2="1599.35" stroke="#000" stroke-width="2.3" stroke-linecap="butt"/>
<line x1="147.60" y1="1680.20" x2="152.10" y2="1680.20" stroke="#000" stroke-width="2.3" stroke-linecap="butt"/>
<line x1="147.60" y1="1761.05" x2="152.10" y2="1761.05" stroke="#000" stroke-width="2.3" stroke-linecap="butt"/>
<line x1="147.60" y1="1841.90" x2="152.10" y2="1841.90" stroke="#000" stroke-width="2.3" stroke-linecap="butt"/>
<line x1="254.50" y1="1667.00" x2="276.70" y2="1667.00" stroke="#000" stroke-width="3.4" stroke-linecap="butt"/>
<line x1="265.90" y1="1651.60" x2="265.90" y2="1681.40" stroke="#000" stroke-width="3.4" stroke-linecap="butt"/>
<line x1="445.30" y1="1680.20" x2="592.80" y2="1680.20" stroke="#555" stroke-width="2.0" stroke-dasharray="7.6,5.3" stroke-linecap="butt"/>
<circle cx="491.15" cy="1704.17" r="3.0" fill="#7c7c7c" fill-opacity="0.8"/>
<circle cx="492.19" cy="1666.92" r="3.0" fill="#7c7c7c" fill-opacity="0.8"/>
<circle cx="488.99" cy="1773.54" r="3.0" fill="#7c7c7c" fill-opacity="0.8"/>
<circle cx="510.31" cy="1661.23" r="3.0" fill="#7c7c7c" fill-opacity="0.8"/>
<circle cx="477.18" cy="1717.30" r="3.0" fill="#7c7c7c" fill-opacity="0.8"/>
<circle cx="495.99" cy="1741.65" r="3.0" fill="#7c7c7c" fill-opacity="0.8"/>
<circle cx="516.23" cy="1741.74" r="3.0" fill="#7c7c7c" fill-opacity="0.8"/>
<circle cx="492.27" cy="1750.79" r="3.0" fill="#7c7c7c" fill-opacity="0.8"/>
<circle cx="489.57" cy="1723.01" r="3.0" fill="#7c7c7c" fill-opacity="0.8"/>
<circle cx="489.39" cy="1688.81" r="3.0" fill="#7c7c7c" fill-opacity="0.8"/>
<circle cx="504.07" cy="1696.89" r="3.0" fill="#7c7c7c" fill-opacity="0.8"/>
<circle cx="522.21" cy="1695.13" r="3.0" fill="#7c7c7c" fill-opacity="0.8"/>
<circle cx="493.07" cy="1770.58" r="3.0" fill="#7c7c7c" fill-opacity="0.8"/>
<circle cx="507.58" cy="1766.58" r="3.0" fill="#7c7c7c" fill-opacity="0.8"/>
<circle cx="530.34" cy="1665.52" r="3.0" fill="#7c7c7c" fill-opacity="0.8"/>
<circle cx="505.87" cy="1684.44" r="3.0" fill="#7c7c7c" fill-opacity="0.8"/>
<circle cx="497.01" cy="1645.17" r="3.0" fill="#7c7c7c" fill-opacity="0.8"/>
<circle cx="524.83" cy="1676.65" r="3.0" fill="#7c7c7c" fill-opacity="0.8"/>
<circle cx="530.70" cy="1748.90" r="3.0" fill="#7c7c7c" fill-opacity="0.8"/>
<circle cx="519.33" cy="1674.21" r="3.0" fill="#7c7c7c" fill-opacity="0.8"/>
<circle cx="494.60" cy="1695.45" r="3.0" fill="#7c7c7c" fill-opacity="0.8"/>
<circle cx="505.84" cy="1708.83" r="3.0" fill="#7c7c7c" fill-opacity="0.8"/>
<circle cx="494.49" cy="1742.29" r="3.0" fill="#7c7c7c" fill-opacity="0.8"/>
<circle cx="534.55" cy="1715.68" r="3.0" fill="#7c7c7c" fill-opacity="0.8"/>
<circle cx="472.63" cy="1720.53" r="3.0" fill="#7c7c7c" fill-opacity="0.8"/>
<circle cx="528.59" cy="1686.91" r="3.0" fill="#7c7c7c" fill-opacity="0.8"/>
<circle cx="489.62" cy="1711.75" r="3.0" fill="#7c7c7c" fill-opacity="0.8"/>
<circle cx="488.34" cy="1664.52" r="3.0" fill="#7c7c7c" fill-opacity="0.8"/>
<circle cx="527.44" cy="1740.82" r="3.0" fill="#7c7c7c" fill-opacity="0.8"/>
<circle cx="524.99" cy="1700.54" r="3.0" fill="#7c7c7c" fill-opacity="0.8"/>
<circle cx="475.69" cy="1699.64" r="3.0" fill="#7c7c7c" fill-opacity="0.8"/>
<circle cx="492.89" cy="1743.73" r="3.0" fill="#7c7c7c" fill-opacity="0.8"/>
<circle cx="481.49" cy="1753.98" r="3.0" fill="#7c7c7c" fill-opacity="0.8"/>
<circle cx="520.43" cy="1682.99" r="3.0" fill="#7c7c7c" fill-opacity="0.8"/>
<circle cx="532.18" cy="1699.04" r="3.0" fill="#7c7c7c" fill-opacity="0.8"/>
<circle cx="491.66" cy="1721.03" r="3.0" fill="#7c7c7c" fill-opacity="0.8"/>
<circle cx="496.23" cy="1703.02" r="3.0" fill="#7c7c7c" fill-opacity="0.8"/>
<circle cx="475.66" cy="1737.61" r="3.0" fill="#7c7c7c" fill-opacity="0.8"/>
<circle cx="478.88" cy="1708.07" r="3.0" fill="#7c7c7c" fill-opacity="0.8"/>
<circle cx="477.41" cy="1735.34" r="3.0" fill="#7c7c7c" fill-opacity="0.8"/>
<circle cx="520.96" cy="1709.67" r="3.0" fill="#7c7c7c" fill-opacity="0.8"/>
<circle cx="488.36" cy="1683.88" r="3.0" fill="#7c7c7c" fill-opacity="0.8"/>
<circle cx="503.53" cy="1726.76" r="3.0" fill="#7c7c7c" fill-opacity="0.8"/>
<circle cx="491.70" cy="1688.29" r="3.0" fill="#7c7c7c" fill-opacity="0.8"/>
<circle cx="507.01" cy="1749.22" r="3.0" fill="#7c7c7c" fill-opacity="0.8"/>
<circle cx="509.47" cy="1725.10" r="3.0" fill="#7c7c7c" fill-opacity="0.8"/>
<circle cx="496.93" cy="1759.91" r="3.0" fill="#7c7c7c" fill-opacity="0.8"/>
<circle cx="489.73" cy="1719.03" r="3.0" fill="#7c7c7c" fill-opacity="0.8"/>
<circle cx="533.51" cy="1713.23" r="3.0" fill="#7c7c7c" fill-opacity="0.8"/>
<circle cx="535.24" cy="1722.15" r="3.0" fill="#7c7c7c" fill-opacity="0.8"/>
<circle cx="503.60" cy="1724.43" r="3.0" fill="#7c7c7c" fill-opacity="0.8"/>
<circle cx="500.29" cy="1672.43" r="3.0" fill="#7c7c7c" fill-opacity="0.8"/>
<circle cx="506.76" cy="1669.73" r="3.0" fill="#7c7c7c" fill-opacity="0.8"/>
<circle cx="508.29" cy="1755.09" r="3.0" fill="#7c7c7c" fill-opacity="0.8"/>
<circle cx="531.77" cy="1677.80" r="3.0" fill="#7c7c7c" fill-opacity="0.8"/>
<circle cx="502.24" cy="1771.50" r="3.0" fill="#7c7c7c" fill-opacity="0.8"/>
<circle cx="495.77" cy="1739.53" r="3.0" fill="#7c7c7c" fill-opacity="0.8"/>
<circle cx="536.27" cy="1721.38" r="3.0" fill="#7c7c7c" fill-opacity="0.8"/>
<circle cx="515.89" cy="1712.18" r="3.0" fill="#7c7c7c" fill-opacity="0.8"/>
<circle cx="483.39" cy="1749.65" r="3.0" fill="#7c7c7c" fill-opacity="0.8"/>
<circle cx="508.82" cy="1739.14" r="3.0" fill="#7c7c7c" fill-opacity="0.8"/>
<circle cx="527.44" cy="1713.30" r="3.0" fill="#7c7c7c" fill-opacity="0.8"/>
<circle cx="509.97" cy="1738.20" r="3.0" fill="#7c7c7c" fill-opacity="0.8"/>
<circle cx="490.48" cy="1736.51" r="3.0" fill="#7c7c7c" fill-opacity="0.8"/>
<circle cx="497.06" cy="1694.23" r="3.0" fill="#7c7c7c" fill-opacity="0.8"/>
<circle cx="519.67" cy="1685.64" r="3.0" fill="#7c7c7c" fill-opacity="0.8"/>
<circle cx="509.64" cy="1717.72" r="3.0" fill="#7c7c7c" fill-opacity="0.8"/>
<circle cx="472.90" cy="1715.19" r="3.0" fill="#7c7c7c" fill-opacity="0.8"/>
<circle cx="493.63" cy="1716.41" r="3.0" fill="#7c7c7c" fill-opacity="0.8"/>
<circle cx="521.72" cy="1730.47" r="3.0" fill="#7c7c7c" fill-opacity="0.8"/>
<circle cx="476.92" cy="1732.31" r="3.0" fill="#7c7c7c" fill-opacity="0.8"/>
<circle cx="499.79" cy="1749.33" r="3.0" fill="#7c7c7c" fill-opacity="0.8"/>
<circle cx="509.52" cy="1694.81" r="3.0" fill="#7c7c7c" fill-opacity="0.8"/>
<circle cx="492.39" cy="1718.50" r="3.0" fill="#7c7c7c" fill-opacity="0.8"/>
<circle cx="518.42" cy="1720.22" r="3.0" fill="#7c7c7c" fill-opacity="0.8"/>
<circle cx="476.41" cy="1709.29" r="3.0" fill="#7c7c7c" fill-opacity="0.8"/>
<circle cx="534.15" cy="1698.61" r="3.0" fill="#7c7c7c" fill-opacity="0.8"/>
<circle cx="519.26" cy="1669.82" r="3.0" fill="#7c7c7c" fill-opacity="0.8"/>
<circle cx="531.12" cy="1724.62" r="3.0" fill="#7c7c7c" fill-opacity="0.8"/>
<circle cx="507.27" cy="1728.75" r="3.0" fill="#7c7c7c" fill-opacity="0.8"/>
<circle cx="503.47" cy="1709.29" r="3.0" fill="#7c7c7c" fill-opacity="0.8"/>
<circle cx="493.73" cy="1743.12" r="3.0" fill="#7c7c7c" fill-opacity="0.8"/>
<circle cx="483.78" cy="1674.62" r="3.0" fill="#7c7c7c" fill-opacity="0.8"/>
<circle cx="506.83" cy="1685.82" r="3.0" fill="#7c7c7c" fill-opacity="0.8"/>
<circle cx="493.74" cy="1693.33" r="3.0" fill="#7c7c7c" fill-opacity="0.8"/>
<circle cx="530.53" cy="1719.64" r="3.0" fill="#7c7c7c" fill-opacity="0.8"/>
<circle cx="484.67" cy="1691.86" r="3.0" fill="#7c7c7c" fill-opacity="0.8"/>
<circle cx="478.88" cy="1681.81" r="3.0" fill="#7c7c7c" fill-opacity="0.8"/>
<circle cx="524.69" cy="1699.61" r="3.0" fill="#7c7c7c" fill-opacity="0.8"/>
<circle cx="538.12" cy="1724.83" r="3.0" fill="#7c7c7c" fill-opacity="0.8"/>
<circle cx="502.12" cy="1770.27" r="3.0" fill="#7c7c7c" fill-opacity="0.8"/>
<circle cx="528.11" cy="1685.15" r="3.0" fill="#7c7c7c" fill-opacity="0.8"/>
<circle cx="520.42" cy="1727.20" r="3.0" fill="#7c7c7c" fill-opacity="0.8"/>
<circle cx="523.88" cy="1743.04" r="3.0" fill="#7c7c7c" fill-opacity="0.8"/>
<circle cx="511.25" cy="1686.97" r="3.0" fill="#7c7c7c" fill-opacity="0.8"/>
<circle cx="506.24" cy="1704.84" r="3.0" fill="#7c7c7c" fill-opacity="0.8"/>
<circle cx="513.23" cy="1761.66" r="3.0" fill="#7c7c7c" fill-opacity="0.8"/>
<circle cx="525.96" cy="1718.98" r="3.0" fill="#7c7c7c" fill-opacity="0.8"/>
<circle cx="536.12" cy="1724.48" r="3.0" fill="#7c7c7c" fill-opacity="0.8"/>
<circle cx="529.01" cy="1683.67" r="3.0" fill="#7c7c7c" fill-opacity="0.8"/>
<circle cx="517.73" cy="1777.06" r="3.0" fill="#7c7c7c" fill-opacity="0.8"/>
<circle cx="534.49" cy="1728.24" r="3.0" fill="#7c7c7c" fill-opacity="0.8"/>
<circle cx="473.71" cy="1720.24" r="3.0" fill="#7c7c7c" fill-opacity="0.8"/>
<circle cx="480.09" cy="1669.89" r="3.0" fill="#7c7c7c" fill-opacity="0.8"/>
<circle cx="490.85" cy="1750.81" r="3.0" fill="#7c7c7c" fill-opacity="0.8"/>
<circle cx="486.63" cy="1810.87" r="3.0" fill="#7c7c7c" fill-opacity="0.8"/>
<circle cx="509.26" cy="1760.53" r="3.0" fill="#7c7c7c" fill-opacity="0.8"/>
<circle cx="485.48" cy="1707.27" r="3.0" fill="#7c7c7c" fill-opacity="0.8"/>
<circle cx="529.19" cy="1689.59" r="3.0" fill="#7c7c7c" fill-opacity="0.8"/>
<circle cx="487.02" cy="1659.71" r="3.0" fill="#7c7c7c" fill-opacity="0.8"/>
<circle cx="523.90" cy="1702.81" r="3.0" fill="#7c7c7c" fill-opacity="0.8"/>
<circle cx="477.90" cy="1741.72" r="3.0" fill="#7c7c7c" fill-opacity="0.8"/>
<circle cx="532.57" cy="1687.17" r="3.0" fill="#7c7c7c" fill-opacity="0.8"/>
<circle cx="496.54" cy="1716.13" r="3.0" fill="#7c7c7c" fill-opacity="0.8"/>
<circle cx="490.83" cy="1722.27" r="3.0" fill="#7c7c7c" fill-opacity="0.8"/>
<circle cx="493.64" cy="1715.21" r="3.0" fill="#7c7c7c" fill-opacity="0.8"/>
<circle cx="517.09" cy="1674.55" r="3.0" fill="#7c7c7c" fill-opacity="0.8"/>
<circle cx="528.69" cy="1744.93" r="3.0" fill="#7c7c7c" fill-opacity="0.8"/>
<circle cx="516.22" cy="1748.89" r="3.0" fill="#7c7c7c" fill-opacity="0.8"/>
<circle cx="481.38" cy="1717.93" r="3.0" fill="#7c7c7c" fill-opacity="0.8"/>
<circle cx="497.75" cy="1740.35" r="3.0" fill="#7c7c7c" fill-opacity="0.8"/>
<circle cx="505.15" cy="1780.26" r="3.0" fill="#7c7c7c" fill-opacity="0.8"/>
<circle cx="494.82" cy="1783.72" r="3.0" fill="#7c7c7c" fill-opacity="0.8"/>
<circle cx="535.34" cy="1716.64" r="3.0" fill="#7c7c7c" fill-opacity="0.8"/>
<circle cx="516.15" cy="1665.41" r="3.0" fill="#7c7c7c" fill-opacity="0.8"/>
<circle cx="518.94" cy="1698.75" r="3.0" fill="#7c7c7c" fill-opacity="0.8"/>
<circle cx="489.27" cy="1700.24" r="3.0" fill="#7c7c7c" fill-opacity="0.8"/>
<circle cx="507.43" cy="1670.32" r="3.0" fill="#7c7c7c" fill-opacity="0.8"/>
<circle cx="497.27" cy="1837.05" r="3.0" fill="#7c7c7c" fill-opacity="0.8"/>
<circle cx="499.21" cy="1817.39" r="3.0" fill="#7c7c7c" fill-opacity="0.8"/>
<circle cx="520.26" cy="1774.44" r="3.0" fill="#7c7c7c" fill-opacity="0.8"/>
<circle cx="495.31" cy="1800.57" r="3.0" fill="#7c7c7c" fill-opacity="0.8"/>
<circle cx="514.18" cy="1789.59" r="3.0" fill="#7c7c7c" fill-opacity="0.8"/>
<circle cx="488.82" cy="1733.07" r="3.0" fill="#7c7c7c" fill-opacity="0.8"/>
<circle cx="517.66" cy="1805.33" r="3.0" fill="#7c7c7c" fill-opacity="0.8"/>
<circle cx="486.18" cy="1760.46" r="3.0" fill="#7c7c7c" fill-opacity="0.8"/>
<circle cx="518.04" cy="1837.05" r="3.0" fill="#7c7c7c" fill-opacity="0.8"/>
<circle cx="485.08" cy="1788.77" r="3.0" fill="#7c7c7c" fill-opacity="0.8"/>
<circle cx="491.55" cy="1665.00" r="3.0" fill="#7c7c7c" fill-opacity="0.8"/>
<circle cx="514.56" cy="1765.76" r="3.0" fill="#7c7c7c" fill-opacity="0.8"/>
<circle cx="496.25" cy="1719.50" r="3.0" fill="#7c7c7c" fill-opacity="0.8"/>
<circle cx="483.80" cy="1699.01" r="3.0" fill="#7c7c7c" fill-opacity="0.8"/>
<circle cx="485.92" cy="1762.99" r="3.0" fill="#7c7c7c" fill-opacity="0.8"/>
<circle cx="507.34" cy="1705.89" r="3.0" fill="#7c7c7c" fill-opacity="0.8"/>
<circle cx="492.88" cy="1725.35" r="3.0" fill="#7c7c7c" fill-opacity="0.8"/>
<circle cx="532.18" cy="1699.58" r="3.0" fill="#7c7c7c" fill-opacity="0.8"/>
<circle cx="519.09" cy="1770.71" r="3.0" fill="#7c7c7c" fill-opacity="0.8"/>
<circle cx="505.42" cy="1813.64" r="3.0" fill="#7c7c7c" fill-opacity="0.8"/>
<circle cx="512.67" cy="1791.34" r="3.0" fill="#7c7c7c" fill-opacity="0.8"/>
<circle cx="490.46" cy="1766.40" r="3.0" fill="#7c7c7c" fill-opacity="0.8"/>
<circle cx="501.16" cy="1708.20" r="3.0" fill="#7c7c7c" fill-opacity="0.8"/>
<circle cx="524.81" cy="1747.70" r="3.0" fill="#7c7c7c" fill-opacity="0.8"/>
<circle cx="529.37" cy="1758.08" r="3.0" fill="#7c7c7c" fill-opacity="0.8"/>
<circle cx="483.95" cy="1746.38" r="3.0" fill="#7c7c7c" fill-opacity="0.8"/>
<circle cx="495.58" cy="1678.11" r="3.0" fill="#7c7c7c" fill-opacity="0.8"/>
<circle cx="520.88" cy="1767.50" r="3.0" fill="#7c7c7c" fill-opacity="0.8"/>
<circle cx="496.34" cy="1656.15" r="3.0" fill="#7c7c7c" fill-opacity="0.8"/>
<circle cx="499.11" cy="1802.30" r="3.0" fill="#7c7c7c" fill-opacity="0.8"/>
<circle cx="483.78" cy="1768.40" r="3.0" fill="#7c7c7c" fill-opacity="0.8"/>
<circle cx="526.85" cy="1691.17" r="3.0" fill="#7c7c7c" fill-opacity="0.8"/>
<circle cx="479.48" cy="1709.16" r="3.0" fill="#7c7c7c" fill-opacity="0.8"/>
<circle cx="514.35" cy="1782.45" r="3.0" fill="#7c7c7c" fill-opacity="0.8"/>
<circle cx="480.01" cy="1742.61" r="3.0" fill="#7c7c7c" fill-opacity="0.8"/>
<circle cx="493.49" cy="1774.62" r="3.0" fill="#7c7c7c" fill-opacity="0.8"/>
<circle cx="532.50" cy="1691.38" r="3.0" fill="#7c7c7c" fill-opacity="0.8"/>
<circle cx="480.21" cy="1707.99" r="3.0" fill="#7c7c7c" fill-opacity="0.8"/>
<circle cx="520.62" cy="1774.85" r="3.0" fill="#7c7c7c" fill-opacity="0.8"/>
<circle cx="486.57" cy="1715.60" r="3.0" fill="#7c7c7c" fill-opacity="0.8"/>
<circle cx="524.87" cy="1756.39" r="3.0" fill="#7c7c7c" fill-opacity="0.8"/>
<circle cx="495.17" cy="1740.63" r="3.0" fill="#7c7c7c" fill-opacity="0.8"/>
<circle cx="508.36" cy="1733.35" r="3.0" fill="#7c7c7c" fill-opacity="0.8"/>
<circle cx="523.15" cy="1766.89" r="3.0" fill="#7c7c7c" fill-opacity="0.8"/>
<circle cx="477.92" cy="1714.12" r="3.0" fill="#7c7c7c" fill-opacity="0.8"/>
<circle cx="497.62" cy="1712.23" r="3.0" fill="#7c7c7c" fill-opacity="0.8"/>
<circle cx="533.23" cy="1714.07" r="3.0" fill="#7c7c7c" fill-opacity="0.8"/>
<circle cx="492.43" cy="1677.85" r="3.0" fill="#7c7c7c" fill-opacity="0.8"/>
<circle cx="509.92" cy="1751.30" r="3.0" fill="#7c7c7c" fill-opacity="0.8"/>
<circle cx="521.22" cy="1815.92" r="3.0" fill="#7c7c7c" fill-opacity="0.8"/>
<circle cx="517.43" cy="1762.89" r="3.0" fill="#7c7c7c" fill-opacity="0.8"/>
<circle cx="533.78" cy="1726.08" r="3.0" fill="#7c7c7c" fill-opacity="0.8"/>
<circle cx="509.32" cy="1735.62" r="3.0" fill="#7c7c7c" fill-opacity="0.8"/>
<circle cx="517.25" cy="1705.92" r="3.0" fill="#7c7c7c" fill-opacity="0.8"/>
<circle cx="478.11" cy="1693.76" r="3.0" fill="#7c7c7c" fill-opacity="0.8"/>
<circle cx="533.78" cy="1743.07" r="3.0" fill="#7c7c7c" fill-opacity="0.8"/>
<circle cx="500.78" cy="1742.68" r="3.0" fill="#7c7c7c" fill-opacity="0.8"/>
<circle cx="507.40" cy="1789.48" r="3.0" fill="#7c7c7c" fill-opacity="0.8"/>
<circle cx="507.68" cy="1681.67" r="3.0" fill="#7c7c7c" fill-opacity="0.8"/>
<circle cx="494.49" cy="1750.88" r="3.0" fill="#7c7c7c" fill-opacity="0.8"/>
<circle cx="525.96" cy="1794.60" r="3.0" fill="#7c7c7c" fill-opacity="0.8"/>
<circle cx="512.63" cy="1796.26" r="3.0" fill="#7c7c7c" fill-opacity="0.8"/>
<circle cx="507.57" cy="1758.93" r="3.0" fill="#7c7c7c" fill-opacity="0.8"/>
<circle cx="490.90" cy="1653.80" r="3.0" fill="#7c7c7c" fill-opacity="0.8"/>
<circle cx="520.64" cy="1695.57" r="3.0" fill="#7c7c7c" fill-opacity="0.8"/>
<circle cx="510.67" cy="1827.19" r="3.0" fill="#7c7c7c" fill-opacity="0.8"/>
<circle cx="534.04" cy="1743.39" r="3.0" fill="#7c7c7c" fill-opacity="0.8"/>
<circle cx="510.52" cy="1722.71" r="3.0" fill="#7c7c7c" fill-opacity="0.8"/>
<circle cx="494.45" cy="1703.36" r="3.0" fill="#7c7c7c" fill-opacity="0.8"/>
<circle cx="514.35" cy="1718.46" r="3.0" fill="#7c7c7c" fill-opacity="0.8"/>
<circle cx="486.92" cy="1770.99" r="3.0" fill="#7c7c7c" fill-opacity="0.8"/>
<circle cx="487.25" cy="1714.82" r="3.0" fill="#7c7c7c" fill-opacity="0.8"/>
<circle cx="507.68" cy="1523.35" r="3.0" fill="#7c7c7c" fill-opacity="0.8"/>
<circle cx="509.75" cy="1583.18" r="3.0" fill="#7c7c7c" fill-opacity="0.8"/>
<circle cx="520.83" cy="1607.43" r="3.0" fill="#7c7c7c" fill-opacity="0.8"/>
<circle cx="490.66" cy="1610.67" r="3.0" fill="#7c7c7c" fill-opacity="0.8"/>
<circle cx="518.18" cy="1612.29" r="3.0" fill="#7c7c7c" fill-opacity="0.8"/>
<circle cx="502.65" cy="1620.37" r="3.0" fill="#7c7c7c" fill-opacity="0.8"/>
<circle cx="490.02" cy="1625.22" r="3.0" fill="#7c7c7c" fill-opacity="0.8"/>
<circle cx="502.33" cy="1626.84" r="3.0" fill="#7c7c7c" fill-opacity="0.8"/>
<circle cx="472.80" cy="1841.90" r="3.0" fill="#7c7c7c" fill-opacity="0.8"/>
<circle cx="474.49" cy="1841.90" r="3.0" fill="#7c7c7c" fill-opacity="0.8"/>
<circle cx="476.60" cy="1841.90" r="3.0" fill="#7c7c7c" fill-opacity="0.8"/>
<circle cx="479.69" cy="1841.90" r="3.0" fill="#7c7c7c" fill-opacity="0.8"/>
<circle cx="481.06" cy="1841.90" r="3.0" fill="#7c7c7c" fill-opacity="0.8"/>
<circle cx="484.27" cy="1841.90" r="3.0" fill="#7c7c7c" fill-opacity="0.8"/>
<circle cx="485.03" cy="1841.90" r="3.0" fill="#7c7c7c" fill-opacity="0.8"/>
<circle cx="486.86" cy="1841.90" r="3.0" fill="#7c7c7c" fill-opacity="0.8"/>
<circle cx="489.78" cy="1841.90" r="3.0" fill="#7c7c7c" fill-opacity="0.8"/>
<circle cx="492.42" cy="1841.90" r="3.0" fill="#7c7c7c" fill-opacity="0.8"/>
<circle cx="493.82" cy="1841.90" r="3.0" fill="#7c7c7c" fill-opacity="0.8"/>
<circle cx="495.76" cy="1841.90" r="3.0" fill="#7c7c7c" fill-opacity="0.8"/>
<circle cx="498.54" cy="1841.90" r="3.0" fill="#7c7c7c" fill-opacity="0.8"/>
<circle cx="501.21" cy="1841.90" r="3.0" fill="#7c7c7c" fill-opacity="0.8"/>
<circle cx="502.87" cy="1841.90" r="3.0" fill="#7c7c7c" fill-opacity="0.8"/>
<circle cx="505.07" cy="1841.90" r="3.0" fill="#7c7c7c" fill-opacity="0.8"/>
<circle cx="506.82" cy="1841.90" r="3.0" fill="#7c7c7c" fill-opacity="0.8"/>
<circle cx="509.48" cy="1841.90" r="3.0" fill="#7c7c7c" fill-opacity="0.8"/>
<circle cx="511.85" cy="1841.90" r="3.0" fill="#7c7c7c" fill-opacity="0.8"/>
<circle cx="512.64" cy="1841.90" r="3.0" fill="#7c7c7c" fill-opacity="0.8"/>
<circle cx="516.59" cy="1841.90" r="3.0" fill="#7c7c7c" fill-opacity="0.8"/>
<circle cx="517.65" cy="1841.90" r="3.0" fill="#7c7c7c" fill-opacity="0.8"/>
<circle cx="519.85" cy="1841.90" r="3.0" fill="#7c7c7c" fill-opacity="0.8"/>
<circle cx="522.07" cy="1841.90" r="3.0" fill="#7c7c7c" fill-opacity="0.8"/>
<circle cx="524.70" cy="1841.90" r="3.0" fill="#7c7c7c" fill-opacity="0.8"/>
<circle cx="526.33" cy="1841.90" r="3.0" fill="#7c7c7c" fill-opacity="0.8"/>
<circle cx="528.75" cy="1841.90" r="3.0" fill="#7c7c7c" fill-opacity="0.8"/>
<circle cx="530.29" cy="1841.90" r="3.0" fill="#7c7c7c" fill-opacity="0.8"/>
<circle cx="532.35" cy="1841.90" r="3.0" fill="#7c7c7c" fill-opacity="0.8"/>
<circle cx="535.02" cy="1841.90" r="3.0" fill="#7c7c7c" fill-opacity="0.8"/>
<circle cx="536.38" cy="1841.90" r="3.0" fill="#7c7c7c" fill-opacity="0.8"/>
<circle cx="538.39" cy="1841.90" r="3.0" fill="#7c7c7c" fill-opacity="0.8"/>
<circle cx="541.87" cy="1841.90" r="3.0" fill="#7c7c7c" fill-opacity="0.8"/>
<circle cx="542.89" cy="1841.90" r="3.0" fill="#7c7c7c" fill-opacity="0.8"/>
<line x1="445.30" y1="1518.50" x2="445.30" y2="1842.00" stroke="#000" stroke-width="2.3" stroke-linecap="butt"/>
<line x1="443.80" y1="1854.70" x2="592.80" y2="1854.70" stroke="#000" stroke-width="2.3" stroke-linecap="butt"/>
<line x1="445.30" y1="1518.50" x2="449.80" y2="1518.50" stroke="#000" stroke-width="2.3" stroke-linecap="butt"/>
<line x1="445.30" y1="1599.35" x2="449.80" y2="1599.35" stroke="#000" stroke-width="2.3" stroke-linecap="butt"/>
<line x1="445.30" y1="1680.20" x2="449.80" y2="1680.20" stroke="#000" stroke-width="2.3" stroke-linecap="butt"/>
<line x1="445.30" y1="1761.05" x2="449.80" y2="1761.05" stroke="#000" stroke-width="2.3" stroke-linecap="butt"/>
<line x1="445.30" y1="1841.90" x2="449.80" y2="1841.90" stroke="#000" stroke-width="2.3" stroke-linecap="butt"/>
<line x1="555.90" y1="1736.20" x2="578.20" y2="1736.20" stroke="#000" stroke-width="4.0" stroke-linecap="butt"/>
<line x1="567.00" y1="1731.50" x2="567.00" y2="1740.90" stroke="#000" stroke-width="3.0" stroke-linecap="butt"/>
<line x1="735.80" y1="1680.20" x2="882.70" y2="1680.20" stroke="#555" stroke-width="2.0" stroke-dasharray="7.6,5.3" stroke-linecap="butt"/>
<circle cx="789.73" cy="1746.37" r="3.0" fill="#7c7c7c" fill-opacity="0.8"/>
<circle cx="818.53" cy="1702.39" r="3.0" fill="#7c7c7c" fill-opacity="0.8"/>
<circle cx="780.67" cy="1671.00" r="3.0" fill="#7c7c7c" fill-opacity="0.8"/>
<circle cx="780.33" cy="1663.88" r="3.0" fill="#7c7c7c" fill-opacity="0.8"/>
<circle cx="808.77" cy="1665.39" r="3.0" fill="#7c7c7c" fill-opacity="0.8"/>
<circle cx="773.59" cy="1681.04" r="3.0" fill="#7c7c7c" fill-opacity="0.8"/>
<circle cx="788.74" cy="1717.21" r="3.0" fill="#7c7c7c" fill-opacity="0.8"/>
<circle cx="805.70" cy="1671.16" r="3.0" fill="#7c7c7c" fill-opacity="0.8"/>
<circle cx="781.90" cy="1680.51" r="3.0" fill="#7c7c7c" fill-opacity="0.8"/>
<circle cx="765.34" cy="1686.63" r="3.0" fill="#7c7c7c" fill-opacity="0.8"/>
<circle cx="819.38" cy="1722.25" r="3.0" fill="#7c7c7c" fill-opacity="0.8"/>
<circle cx="785.71" cy="1683.63" r="3.0" fill="#7c7c7c" fill-opacity="0.8"/>
<circle cx="784.74" cy="1659.04" r="3.0" fill="#7c7c7c" fill-opacity="0.8"/>
<circle cx="798.10" cy="1675.18" r="3.0" fill="#7c7c7c" fill-opacity="0.8"/>
<circle cx="817.78" cy="1698.58" r="3.0" fill="#7c7c7c" fill-opacity="0.8"/>
<circle cx="791.63" cy="1679.92" r="3.0" fill="#7c7c7c" fill-opacity="0.8"/>
<circle cx="798.79" cy="1692.98" r="3.0" fill="#7c7c7c" fill-opacity="0.8"/>
<circle cx="815.06" cy="1688.78" r="3.0" fill="#7c7c7c" fill-opacity="0.8"/>
<circle cx="825.04" cy="1672.70" r="3.0" fill="#7c7c7c" fill-opacity="0.8"/>
<circle cx="804.77" cy="1684.80" r="3.0" fill="#7c7c7c" fill-opacity="0.8"/>
<circle cx="817.16" cy="1691.33" r="3.0" fill="#7c7c7c" fill-opacity="0.8"/>
<circle cx="779.96" cy="1683.82" r="3.0" fill="#7c7c7c" fill-opacity="0.8"/>
<circle cx="781.07" cy="1712.85" r="3.0" fill="#7c7c7c" fill-opacity="0.8"/>
<circle cx="774.40" cy="1717.11" r="3.0" fill="#7c7c7c" fill-opacity="0.8"/>
<circle cx="782.49" cy="1681.42" r="3.0" fill="#7c7c7c" fill-opacity="0.8"/>
<circle cx="780.81" cy="1707.39" r="3.0" fill="#7c7c7c" fill-opacity="0.8"/>
<circle cx="816.65" cy="1679.62" r="3.0" fill="#7c7c7c" fill-opacity="0.8"/>
<circle cx="818.93" cy="1737.47" r="3.0" fill="#7c7c7c" fill-opacity="0.8"/>
<circle cx="775.37" cy="1664.24" r="3.0" fill="#7c7c7c" fill-opacity="0.8"/>
<circle cx="806.82" cy="1695.52" r="3.0" fill="#7c7c7c" fill-opacity="0.8"/>
<circle cx="820.14" cy="1652.96" r="3.0" fill="#7c7c7c" fill-opacity="0.8"/>
<circle cx="814.61" cy="1752.79" r="3.0" fill="#7c7c7c" fill-opacity="0.8"/>
<circle cx="782.39" cy="1733.65" r="3.0" fill="#7c7c7c" fill-opacity="0.8"/>
<circle cx="801.67" cy="1659.26" r="3.0" fill="#7c7c7c" fill-opacity="0.8"/>
<circle cx="808.80" cy="1689.30" r="3.0" fill="#7c7c7c" fill-opacity="0.8"/>
<circle cx="766.09" cy="1685.74" r="3.0" fill="#7c7c7c" fill-opacity="0.8"/>
<circle cx="770.02" cy="1690.06" r="3.0" fill="#7c7c7c" fill-opacity="0.8"/>
<circle cx="811.16" cy="1689.19" r="3.0" fill="#7c7c7c" fill-opacity="0.8"/>
<circle cx="797.58" cy="1680.07" r="3.0" fill="#7c7c7c" fill-opacity="0.8"/>
<circle cx="807.02" cy="1717.36" r="3.0" fill="#7c7c7c" fill-opacity="0.8"/>
<circle cx="772.32" cy="1697.05" r="3.0" fill="#7c7c7c" fill-opacity="0.8"/>
<circle cx="780.57" cy="1661.68" r="3.0" fill="#7c7c7c" fill-opacity="0.8"/>
<circle cx="815.00" cy="1688.65" r="3.0" fill="#7c7c7c" fill-opacity="0.8"/>
<circle cx="789.99" cy="1707.97" r="3.0" fill="#7c7c7c" fill-opacity="0.8"/>
<circle cx="796.25" cy="1690.69" r="3.0" fill="#7c7c7c" fill-opacity="0.8"/>
<circle cx="812.35" cy="1667.82" r="3.0" fill="#7c7c7c" fill-opacity="0.8"/>
<circle cx="770.68" cy="1697.80" r="3.0" fill="#7c7c7c" fill-opacity="0.8"/>
<circle cx="772.69" cy="1697.28" r="3.0" fill="#7c7c7c" fill-opacity="0.8"/>
<circle cx="796.96" cy="1681.15" r="3.0" fill="#7c7c7c" fill-opacity="0.8"/>
<circle cx="806.02" cy="1672.48" r="3.0" fill="#7c7c7c" fill-opacity="0.8"/>
<circle cx="788.31" cy="1657.39" r="3.0" fill="#7c7c7c" fill-opacity="0.8"/>
<circle cx="797.91" cy="1696.09" r="3.0" fill="#7c7c7c" fill-opacity="0.8"/>
<circle cx="813.00" cy="1684.57" r="3.0" fill="#7c7c7c" fill-opacity="0.8"/>
<circle cx="817.91" cy="1667.78" r="3.0" fill="#7c7c7c" fill-opacity="0.8"/>
<circle cx="784.98" cy="1738.80" r="3.0" fill="#7c7c7c" fill-opacity="0.8"/>
<circle cx="811.84" cy="1689.44" r="3.0" fill="#7c7c7c" fill-opacity="0.8"/>
<circle cx="778.88" cy="1681.75" r="3.0" fill="#7c7c7c" fill-opacity="0.8"/>
<circle cx="795.38" cy="1694.88" r="3.0" fill="#7c7c7c" fill-opacity="0.8"/>
<circle cx="810.74" cy="1713.40" r="3.0" fill="#7c7c7c" fill-opacity="0.8"/>
<circle cx="785.62" cy="1678.72" r="3.0" fill="#7c7c7c" fill-opacity="0.8"/>
<circle cx="803.27" cy="1662.84" r="3.0" fill="#7c7c7c" fill-opacity="0.8"/>
<circle cx="782.28" cy="1694.93" r="3.0" fill="#7c7c7c" fill-opacity="0.8"/>
<circle cx="804.42" cy="1704.42" r="3.0" fill="#7c7c7c" fill-opacity="0.8"/>
<circle cx="796.28" cy="1697.94" r="3.0" fill="#7c7c7c" fill-opacity="0.8"/>
<circle cx="793.07" cy="1655.19" r="3.0" fill="#7c7c7c" fill-opacity="0.8"/>
<circle cx="776.70" cy="1662.71" r="3.0" fill="#7c7c7c" fill-opacity="0.8"/>
<circle cx="789.73" cy="1691.64" r="3.0" fill="#7c7c7c" fill-opacity="0.8"/>
<circle cx="813.02" cy="1719.12" r="3.0" fill="#7c7c7c" fill-opacity="0.8"/>
<circle cx="779.02" cy="1723.18" r="3.0" fill="#7c7c7c" fill-opacity="0.8"/>
<circle cx="814.37" cy="1700.41" r="3.0" fill="#7c7c7c" fill-opacity="0.8"/>
<circle cx="817.09" cy="1700.23" r="3.0" fill="#7c7c7c" fill-opacity="0.8"/>
<circle cx="823.79" cy="1686.16" r="3.0" fill="#7c7c7c" fill-opacity="0.8"/>
<circle cx="798.16" cy="1719.88" r="3.0" fill="#7c7c7c" fill-opacity="0.8"/>
<circle cx="797.61" cy="1695.59" r="3.0" fill="#7c7c7c" fill-opacity="0.8"/>
<circle cx="795.71" cy="1679.69" r="3.0" fill="#7c7c7c" fill-opacity="0.8"/>
<circle cx="799.61" cy="1733.29" r="3.0" fill="#7c7c7c" fill-opacity="0.8"/>
<circle cx="810.78" cy="1637.09" r="3.0" fill="#7c7c7c" fill-opacity="0.8"/>
<circle cx="800.60" cy="1678.60" r="3.0" fill="#7c7c7c" fill-opacity="0.8"/>
<circle cx="801.05" cy="1679.79" r="3.0" fill="#7c7c7c" fill-opacity="0.8"/>
<circle cx="812.05" cy="1723.94" r="3.0" fill="#7c7c7c" fill-opacity="0.8"/>
<circle cx="785.99" cy="1717.24" r="3.0" fill="#7c7c7c" fill-opacity="0.8"/>
<circle cx="769.78" cy="1667.85" r="3.0" fill="#7c7c7c" fill-opacity="0.8"/>
<circle cx="822.39" cy="1670.98" r="3.0" fill="#7c7c7c" fill-opacity="0.8"/>
<circle cx="792.01" cy="1751.26" r="3.0" fill="#7c7c7c" fill-opacity="0.8"/>
<circle cx="796.32" cy="1664.48" r="3.0" fill="#7c7c7c" fill-opacity="0.8"/>
<circle cx="795.21" cy="1674.78" r="3.0" fill="#7c7c7c" fill-opacity="0.8"/>
<circle cx="809.78" cy="1677.29" r="3.0" fill="#7c7c7c" fill-opacity="0.8"/>
<circle cx="780.98" cy="1719.20" r="3.0" fill="#7c7c7c" fill-opacity="0.8"/>
<circle cx="781.33" cy="1686.09" r="3.0" fill="#7c7c7c" fill-opacity="0.8"/>
<circle cx="780.92" cy="1706.97" r="3.0" fill="#7c7c7c" fill-opacity="0.8"/>
<circle cx="810.59" cy="1701.38" r="3.0" fill="#7c7c7c" fill-opacity="0.8"/>
<circle cx="793.32" cy="1660.10" r="3.0" fill="#7c7c7c" fill-opacity="0.8"/>
<circle cx="828.09" cy="1698.76" r="3.0" fill="#7c7c7c" fill-opacity="0.8"/>
<circle cx="821.45" cy="1686.62" r="3.0" fill="#7c7c7c" fill-opacity="0.8"/>
<circle cx="821.15" cy="1729.45" r="3.0" fill="#7c7c7c" fill-opacity="0.8"/>
<circle cx="784.69" cy="1752.34" r="3.0" fill="#7c7c7c" fill-opacity="0.8"/>
<circle cx="780.40" cy="1718.88" r="3.0" fill="#7c7c7c" fill-opacity="0.8"/>
<circle cx="813.59" cy="1685.83" r="3.0" fill="#7c7c7c" fill-opacity="0.8"/>
<circle cx="805.72" cy="1671.87" r="3.0" fill="#7c7c7c" fill-opacity="0.8"/>
<circle cx="786.17" cy="1721.18" r="3.0" fill="#7c7c7c" fill-opacity="0.8"/>
<circle cx="790.31" cy="1711.05" r="3.0" fill="#7c7c7c" fill-opacity="0.8"/>
<circle cx="772.32" cy="1732.08" r="3.0" fill="#7c7c7c" fill-opacity="0.8"/>
<circle cx="812.97" cy="1774.66" r="3.0" fill="#7c7c7c" fill-opacity="0.8"/>
<circle cx="774.54" cy="1716.41" r="3.0" fill="#7c7c7c" fill-opacity="0.8"/>
<circle cx="815.12" cy="1707.95" r="3.0" fill="#7c7c7c" fill-opacity="0.8"/>
<circle cx="794.87" cy="1732.54" r="3.0" fill="#7c7c7c" fill-opacity="0.8"/>
<circle cx="808.97" cy="1724.73" r="3.0" fill="#7c7c7c" fill-opacity="0.8"/>
<circle cx="783.06" cy="1777.27" r="3.0" fill="#7c7c7c" fill-opacity="0.8"/>
<circle cx="798.31" cy="1717.30" r="3.0" fill="#7c7c7c" fill-opacity="0.8"/>
<circle cx="795.05" cy="1674.51" r="3.0" fill="#7c7c7c" fill-opacity="0.8"/>
<circle cx="808.05" cy="1719.87" r="3.0" fill="#7c7c7c" fill-opacity="0.8"/>
<circle cx="774.45" cy="1699.89" r="3.0" fill="#7c7c7c" fill-opacity="0.8"/>
<circle cx="823.61" cy="1704.79" r="3.0" fill="#7c7c7c" fill-opacity="0.8"/>
<circle cx="819.44" cy="1743.57" r="3.0" fill="#7c7c7c" fill-opacity="0.8"/>
<circle cx="779.84" cy="1712.34" r="3.0" fill="#7c7c7c" fill-opacity="0.8"/>
<circle cx="778.34" cy="1745.55" r="3.0" fill="#7c7c7c" fill-opacity="0.8"/>
<circle cx="798.27" cy="1634.92" r="3.0" fill="#7c7c7c" fill-opacity="0.8"/>
<circle cx="793.36" cy="1712.47" r="3.0" fill="#7c7c7c" fill-opacity="0.8"/>
<circle cx="802.79" cy="1754.27" r="3.0" fill="#7c7c7c" fill-opacity="0.8"/>
<circle cx="814.16" cy="1768.66" r="3.0" fill="#7c7c7c" fill-opacity="0.8"/>
<circle cx="809.97" cy="1670.96" r="3.0" fill="#7c7c7c" fill-opacity="0.8"/>
<circle cx="810.84" cy="1699.29" r="3.0" fill="#7c7c7c" fill-opacity="0.8"/>
<circle cx="820.96" cy="1706.31" r="3.0" fill="#7c7c7c" fill-opacity="0.8"/>
<circle cx="801.12" cy="1763.07" r="3.0" fill="#7c7c7c" fill-opacity="0.8"/>
<circle cx="788.73" cy="1737.29" r="3.0" fill="#7c7c7c" fill-opacity="0.8"/>
<circle cx="782.69" cy="1758.32" r="3.0" fill="#7c7c7c" fill-opacity="0.8"/>
<circle cx="782.29" cy="1683.68" r="3.0" fill="#7c7c7c" fill-opacity="0.8"/>
<circle cx="801.87" cy="1736.06" r="3.0" fill="#7c7c7c" fill-opacity="0.8"/>
<circle cx="783.64" cy="1656.95" r="3.0" fill="#7c7c7c" fill-opacity="0.8"/>
<circle cx="782.33" cy="1702.40" r="3.0" fill="#7c7c7c" fill-opacity="0.8"/>
<circle cx="806.80" cy="1729.54" r="3.0" fill="#7c7c7c" fill-opacity="0.8"/>
<circle cx="815.62" cy="1675.86" r="3.0" fill="#7c7c7c" fill-opacity="0.8"/>
<circle cx="790.30" cy="1780.45" r="3.0" fill="#7c7c7c" fill-opacity="0.8"/>
<circle cx="816.51" cy="1746.04" r="3.0" fill="#7c7c7c" fill-opacity="0.8"/>
<circle cx="810.78" cy="1732.13" r="3.0" fill="#7c7c7c" fill-opacity="0.8"/>
<circle cx="787.41" cy="1684.66" r="3.0" fill="#7c7c7c" fill-opacity="0.8"/>
<circle cx="794.81" cy="1684.41" r="3.0" fill="#7c7c7c" fill-opacity="0.8"/>
<circle cx="774.91" cy="1707.66" r="3.0" fill="#7c7c7c" fill-opacity="0.8"/>
<circle cx="806.24" cy="1776.49" r="3.0" fill="#7c7c7c" fill-opacity="0.8"/>
<circle cx="817.14" cy="1736.24" r="3.0" fill="#7c7c7c" fill-opacity="0.8"/>
<circle cx="804.57" cy="1547.61" r="3.0" fill="#7c7c7c" fill-opacity="0.8"/>
<circle cx="785.85" cy="1554.07" r="3.0" fill="#7c7c7c" fill-opacity="0.8"/>
<circle cx="809.22" cy="1567.01" r="3.0" fill="#7c7c7c" fill-opacity="0.8"/>
<circle cx="792.67" cy="1567.01" r="3.0" fill="#7c7c7c" fill-opacity="0.8"/>
<circle cx="799.47" cy="1579.95" r="3.0" fill="#7c7c7c" fill-opacity="0.8"/>
<circle cx="791.30" cy="1599.35" r="3.0" fill="#7c7c7c" fill-opacity="0.8"/>
<circle cx="792.61" cy="1599.35" r="3.0" fill="#7c7c7c" fill-opacity="0.8"/>
<circle cx="791.05" cy="1618.75" r="3.0" fill="#7c7c7c" fill-opacity="0.8"/>
<circle cx="779.19" cy="1634.92" r="3.0" fill="#7c7c7c" fill-opacity="0.8"/>
<circle cx="799.05" cy="1636.54" r="3.0" fill="#7c7c7c" fill-opacity="0.8"/>
<circle cx="796.61" cy="1639.78" r="3.0" fill="#7c7c7c" fill-opacity="0.8"/>
<circle cx="803.33" cy="1644.63" r="3.0" fill="#7c7c7c" fill-opacity="0.8"/>
<circle cx="794.35" cy="1812.79" r="3.0" fill="#7c7c7c" fill-opacity="0.8"/>
<circle cx="778.00" cy="1841.90" r="3.0" fill="#7c7c7c" fill-opacity="0.8"/>
<circle cx="781.50" cy="1841.90" r="3.0" fill="#7c7c7c" fill-opacity="0.8"/>
<circle cx="791.00" cy="1841.90" r="3.0" fill="#7c7c7c" fill-opacity="0.8"/>
<circle cx="800.00" cy="1841.90" r="3.0" fill="#7c7c7c" fill-opacity="0.8"/>
<circle cx="805.00" cy="1841.90" r="3.0" fill="#7c7c7c" fill-opacity="0.8"/>
<line x1="735.80" y1="1518.50" x2="735.80" y2="1842.00" stroke="#000" stroke-width="2.3" stroke-linecap="butt"/>
<line x1="734.30" y1="1854.70" x2="882.70" y2="1854.70" stroke="#000" stroke-width="2.3" stroke-linecap="butt"/>
<line x1="735.80" y1="1518.50" x2="740.30" y2="1518.50" stroke="#000" stroke-width="2.3" stroke-linecap="butt"/>
<line x1="735.80" y1="1599.35" x2="740.30" y2="1599.35" stroke="#000" stroke-width="2.3" stroke-linecap="butt"/>
<line x1="735.80" y1="1680.20" x2="740.30" y2="1680.20" stroke="#000" stroke-width="2.3" stroke-linecap="butt"/>
<line x1="735.80" y1="1761.05" x2="740.30" y2="1761.05" stroke="#000" stroke-width="2.3" stroke-linecap="butt"/>
<line x1="735.80" y1="1841.90" x2="740.30" y2="1841.90" stroke="#000" stroke-width="2.3" stroke-linecap="butt"/>
<line x1="848.70" y1="1701.00" x2="870.30" y2="1701.00" stroke="#000" stroke-width="4.0" stroke-linecap="butt"/>
<line x1="859.50" y1="1697.00" x2="859.50" y2="1705.00" stroke="#000" stroke-width="3.0" stroke-linecap="butt"/>
<text x="81.40" y="351.60" font-family='"Liberation Sans", Arial, sans-serif' font-size="25.00" font-weight="normal" fill="#000">0</text>
<text x="67.65" y="292.70" font-family='"Liberation Sans", Arial, sans-serif' font-size="25.00" font-weight="normal" fill="#000">10</text>
<text x="67.65" y="233.80" font-family='"Liberation Sans", Arial, sans-serif' font-size="25.00" font-weight="normal" fill="#000">20</text>
<text x="67.65" y="174.90" font-family='"Liberation Sans", Arial, sans-serif' font-size="25.00" font-weight="normal" fill="#000">30</text>
<text x="67.65" y="116.00" font-family='"Liberation Sans", Arial, sans-serif' font-size="25.00" font-weight="normal" fill="#000">40</text>
<text x="67.65" y="57.10" font-family='"Liberation Sans", Arial, sans-serif' font-size="25.00" font-weight="normal" fill="#000">50</text>
<text x="127.62" y="373.90" font-family='"Liberation Sans", Arial, sans-serif' font-size="25.00" font-weight="normal" fill="#000">1</text>
<text x="187.10" y="373.90" font-family='"Liberation Sans", Arial, sans-serif' font-size="25.00" font-weight="normal" fill="#000">2</text>
<text x="246.32" y="373.90" font-family='"Liberation Sans", Arial, sans-serif' font-size="25.00" font-weight="normal" fill="#000">3</text>
<text x="305.43" y="373.90" font-family='"Liberation Sans", Arial, sans-serif' font-size="25.00" font-weight="normal" fill="#000">4</text>
<text x="364.52" y="373.90" font-family='"Liberation Sans", Arial, sans-serif' font-size="25.00" font-weight="normal" fill="#000">5</text>
<text x="420.50" y="373.90" font-family='"Liberation Sans", Arial, sans-serif' font-size="25.00" font-weight="normal" fill="#000">6</text>
<text x="257.27" y="404.30" font-family='"Liberation Sans", Arial, sans-serif' font-size="25.50" font-weight="normal" fill="#000">Days</text>
<text x="369.65" y="39.00" font-family='"Liberation Sans", Arial, sans-serif' font-size="29.34" font-weight="normal" fill="#E8365E">Muscimol</text>
<text transform="translate(40.40,314.55) rotate(-90)" font-family='"Liberation Sans", Arial, sans-serif' font-size="29.33" font-weight="normal" fill="#000">Fraction excited (%)</text>
<text x="382.00" y="169.53" font-family='"Liberation Sans", Arial, sans-serif' font-size="30.77" font-weight="bold" fill="#000">*</text>
<text x="584.80" y="351.60" font-family='"Liberation Sans", Arial, sans-serif' font-size="25.00" font-weight="normal" fill="#000">0</text>
<text x="571.05" y="292.70" font-family='"Liberation Sans", Arial, sans-serif' font-size="25.00" font-weight="normal" fill="#000">20</text>
<text x="571.05" y="233.80" font-family='"Liberation Sans", Arial, sans-serif' font-size="25.00" font-weight="normal" fill="#000">40</text>
<text x="571.05" y="174.90" font-family='"Liberation Sans", Arial, sans-serif' font-size="25.00" font-weight="normal" fill="#000">60</text>
<text x="571.05" y="116.00" font-family='"Liberation Sans", Arial, sans-serif' font-size="25.00" font-weight="normal" fill="#000">80</text>
<text x="557.05" y="57.10" font-family='"Liberation Sans", Arial, sans-serif' font-size="25.00" font-weight="normal" fill="#000">100</text>
<text x="631.02" y="373.90" font-family='"Liberation Sans", Arial, sans-serif' font-size="25.00" font-weight="normal" fill="#000">1</text>
<text x="690.50" y="373.90" font-family='"Liberation Sans", Arial, sans-serif' font-size="25.00" font-weight="normal" fill="#000">2</text>
<text x="749.73" y="373.90" font-family='"Liberation Sans", Arial, sans-serif' font-size="25.00" font-weight="normal" fill="#000">3</text>
<text x="808.83" y="373.90" font-family='"Liberation Sans", Arial, sans-serif' font-size="25.00" font-weight="normal" fill="#000">4</text>
<text x="867.92" y="373.90" font-family='"Liberation Sans", Arial, sans-serif' font-size="25.00" font-weight="normal" fill="#000">5</text>
<text x="923.90" y="373.90" font-family='"Liberation Sans", Arial, sans-serif' font-size="25.00" font-weight="normal" fill="#000">6</text>
<text x="760.67" y="404.30" font-family='"Liberation Sans", Arial, sans-serif' font-size="25.50" font-weight="normal" fill="#000">Days</text>
<text x="871.21" y="39.00" font-family='"Liberation Sans", Arial, sans-serif' font-size="29.88" font-weight="normal" fill="#E8365E">Muscimol</text>
<text transform="translate(545.50,348.65) rotate(-90)" font-family='"Liberation Sans", Arial, sans-serif' font-size="29.40" font-weight="normal" fill="#000">Fraction suppressed (%)</text>
<text x="887.70" y="85.23" font-family='"Liberation Sans", Arial, sans-serif' font-size="30.77" font-weight="bold" fill="#000">*</text>
<text x="1117.40" y="351.60" font-family='"Liberation Sans", Arial, sans-serif' font-size="25.00" font-weight="normal" fill="#000">0</text>
<text x="1103.65" y="292.70" font-family='"Liberation Sans", Arial, sans-serif' font-size="25.00" font-weight="normal" fill="#000">10</text>
<text x="1103.65" y="233.80" font-family='"Liberation Sans", Arial, sans-serif' font-size="25.00" font-weight="normal" fill="#000">20</text>
<text x="1103.65" y="174.90" font-family='"Liberation Sans", Arial, sans-serif' font-size="25.00" font-weight="normal" fill="#000">30</text>
<text x="1103.65" y="116.00" font-family='"Liberation Sans", Arial, sans-serif' font-size="25.00" font-weight="normal" fill="#000">40</text>
<text x="1103.65" y="57.10" font-family='"Liberation Sans", Arial, sans-serif' font-size="25.00" font-weight="normal" fill="#000">50</text>
<text x="1163.62" y="373.90" font-family='"Liberation Sans", Arial, sans-serif' font-size="25.00" font-weight="normal" fill="#000">1</text>
<text x="1223.10" y="373.90" font-family='"Liberation Sans", Arial, sans-serif' font-size="25.00" font-weight="normal" fill="#000">2</text>
<text x="1282.33" y="373.90" font-family='"Liberation Sans", Arial, sans-serif' font-size="25.00" font-weight="normal" fill="#000">3</text>
<text x="1341.42" y="373.90" font-family='"Liberation Sans", Arial, sans-serif' font-size="25.00" font-weight="normal" fill="#000">4</text>
<text x="1400.53" y="373.90" font-family='"Liberation Sans", Arial, sans-serif' font-size="25.00" font-weight="normal" fill="#000">5</text>
<text x="1456.50" y="373.90" font-family='"Liberation Sans", Arial, sans-serif' font-size="25.00" font-weight="normal" fill="#000">6</text>
<text x="1293.27" y="404.30" font-family='"Liberation Sans", Arial, sans-serif' font-size="25.50" font-weight="normal" fill="#000">Days</text>
<text x="1435.57" y="40.40" font-family='"Liberation Sans", Arial, sans-serif' font-size="30.32" font-weight="normal" fill="#5B6670">PBS</text>
<text transform="translate(1076.90,313.32) rotate(-90)" font-family='"Liberation Sans", Arial, sans-serif' font-size="29.04" font-weight="normal" fill="#000">Fraction excited (%)</text>
<text x="1417.92" y="204.00" font-family='"Liberation Sans", Arial, sans-serif' font-size="24.00" font-weight="normal" fill="#000">n.s.</text>
<text x="1600.10" y="351.60" font-family='"Liberation Sans", Arial, sans-serif' font-size="25.00" font-weight="normal" fill="#000">0</text>
<text x="1586.35" y="292.70" font-family='"Liberation Sans", Arial, sans-serif' font-size="25.00" font-weight="normal" fill="#000">20</text>
<text x="1586.35" y="233.80" font-family='"Liberation Sans", Arial, sans-serif' font-size="25.00" font-weight="normal" fill="#000">40</text>
<text x="1586.35" y="174.90" font-family='"Liberation Sans", Arial, sans-serif' font-size="25.00" font-weight="normal" fill="#000">60</text>
<text x="1586.35" y="116.00" font-family='"Liberation Sans", Arial, sans-serif' font-size="25.00" font-weight="normal" fill="#000">80</text>
<text x="1572.35" y="57.10" font-family='"Liberation Sans", Arial, sans-serif' font-size="25.00" font-weight="normal" fill="#000">100</text>
<text x="1646.33" y="373.90" font-family='"Liberation Sans", Arial, sans-serif' font-size="25.00" font-weight="normal" fill="#000">1</text>
<text x="1705.80" y="373.90" font-family='"Liberation Sans", Arial, sans-serif' font-size="25.00" font-weight="normal" fill="#000">2</text>
<text x="1765.03" y="373.90" font-family='"Liberation Sans", Arial, sans-serif' font-size="25.00" font-weight="normal" fill="#000">3</text>
<text x="1824.12" y="373.90" font-family='"Liberation Sans", Arial, sans-serif' font-size="25.00" font-weight="normal" fill="#000">4</text>
<text x="1883.23" y="373.90" font-family='"Liberation Sans", Arial, sans-serif' font-size="25.00" font-weight="normal" fill="#000">5</text>
<text x="1939.20" y="373.90" font-family='"Liberation Sans", Arial, sans-serif' font-size="25.00" font-weight="normal" fill="#000">6</text>
<text x="1775.97" y="404.30" font-family='"Liberation Sans", Arial, sans-serif' font-size="25.50" font-weight="normal" fill="#000">Days</text>
<text x="1918.63" y="40.40" font-family='"Liberation Sans", Arial, sans-serif' font-size="29.63" font-weight="normal" fill="#5B6670">PBS</text>
<text transform="translate(1560.50,348.65) rotate(-90)" font-family='"Liberation Sans", Arial, sans-serif' font-size="29.40" font-weight="normal" fill="#000">Fraction suppressed (%)</text>
<text x="1899.52" y="71.30" font-family='"Liberation Sans", Arial, sans-serif' font-size="24.00" font-weight="normal" fill="#000">n.s.</text>
<text x="-1.18" y="28.00" font-family='"Liberation Sans", Arial, sans-serif' font-size="39.25" font-weight="bold" fill="#000">a</text>
<text x="1032.92" y="29.50" font-family='"Liberation Sans", Arial, sans-serif' font-size="44.00" font-weight="bold" fill="#000">b</text>
<text x="97.53" y="849.10" font-family='"Liberation Sans", Arial, sans-serif' font-size="25.00" font-weight="normal" fill="#000">1</text>
<text x="158.00" y="849.10" font-family='"Liberation Sans", Arial, sans-serif' font-size="25.00" font-weight="normal" fill="#000">2</text>
<text x="213.03" y="849.10" font-family='"Liberation Sans", Arial, sans-serif' font-size="25.00" font-weight="normal" fill="#000">3</text>
<text x="267.52" y="849.10" font-family='"Liberation Sans", Arial, sans-serif' font-size="25.00" font-weight="normal" fill="#000">4</text>
<text x="323.12" y="849.10" font-family='"Liberation Sans", Arial, sans-serif' font-size="25.00" font-weight="normal" fill="#000">5</text>
<text x="378.00" y="849.10" font-family='"Liberation Sans", Arial, sans-serif' font-size="25.00" font-weight="normal" fill="#000">6</text>
<text x="218.22" y="877.70" font-family='"Liberation Sans", Arial, sans-serif' font-size="25.50" font-weight="normal" fill="#000">Days</text>
<text x="78.68" y="461.90" font-family='"Liberation Sans", Arial, sans-serif' font-size="28.99" font-weight="normal" fill="#A038F0">Projection onto Mode</text>
<text x="352.90" y="465.70" font-family='"Liberation Sans", Arial, sans-serif' font-size="23.57" font-weight="normal" fill="#A038F0">within</text>
<text x="322.65" y="507.00" font-family='"Liberation Sans", Arial, sans-serif' font-size="29.44" font-weight="normal" fill="#E8365E">Muscimol</text>
<text x="512.42" y="849.10" font-family='"Liberation Sans", Arial, sans-serif' font-size="25.00" font-weight="normal" fill="#000">1</text>
<text x="572.40" y="849.10" font-family='"Liberation Sans", Arial, sans-serif' font-size="25.00" font-weight="normal" fill="#000">2</text>
<text x="628.12" y="849.10" font-family='"Liberation Sans", Arial, sans-serif' font-size="25.00" font-weight="normal" fill="#000">3</text>
<text x="682.52" y="849.10" font-family='"Liberation Sans", Arial, sans-serif' font-size="25.00" font-weight="normal" fill="#000">4</text>
<text x="737.52" y="849.10" font-family='"Liberation Sans", Arial, sans-serif' font-size="25.00" font-weight="normal" fill="#000">5</text>
<text x="792.40" y="849.10" font-family='"Liberation Sans", Arial, sans-serif' font-size="25.00" font-weight="normal" fill="#000">6</text>
<text x="633.02" y="877.70" font-family='"Liberation Sans", Arial, sans-serif' font-size="25.50" font-weight="normal" fill="#000">Days</text>
<text x="481.87" y="461.90" font-family='"Liberation Sans", Arial, sans-serif' font-size="29.15" font-weight="normal" fill="#18AC18">Projection onto Mode</text>
<text x="756.93" y="465.70" font-family='"Liberation Sans", Arial, sans-serif' font-size="21.64" font-weight="normal" fill="#18AC18">across</text>
<text x="735.64" y="507.00" font-family='"Liberation Sans", Arial, sans-serif' font-size="29.49" font-weight="normal" fill="#E8365E">Muscimol</text>
<text transform="translate(41.00,809.95) rotate(-90)" font-family='"Liberation Sans", Arial, sans-serif' font-size="29.33" font-weight="normal" fill="#000">Projected activity (a.u.)</text>
<text x="-1.67" y="466.00" font-family='"Liberation Sans", Arial, sans-serif' font-size="41.84" font-weight="bold" fill="#000">c</text>
<text x="985.65" y="515.90" font-family='"Liberation Sans", Arial, sans-serif' font-size="25.00" font-weight="normal" fill="#000">1</text>
<text x="974.95" y="577.02" font-family='"Liberation Sans", Arial, sans-serif' font-size="25.00" font-weight="normal" fill="#000">0.8</text>
<text x="974.95" y="638.14" font-family='"Liberation Sans", Arial, sans-serif' font-size="25.00" font-weight="normal" fill="#000">0.6</text>
<text x="974.70" y="699.26" font-family='"Liberation Sans", Arial, sans-serif' font-size="25.00" font-weight="normal" fill="#000">0.4</text>
<text x="975.20" y="760.38" font-family='"Liberation Sans", Arial, sans-serif' font-size="25.00" font-weight="normal" fill="#000">0.2</text>
<text x="988.90" y="821.50" font-family='"Liberation Sans", Arial, sans-serif' font-size="25.00" font-weight="normal" fill="#000">0</text>
<text x="1072.03" y="598.80" font-family='"Liberation Sans", Arial, sans-serif' font-size="25.33" font-weight="normal" fill="#000">Θ = 78.9°</text>
<text transform="translate(952.70,761.15) rotate(-90)" font-family='"Liberation Sans", Arial, sans-serif' font-size="29.00" font-weight="normal" fill="#000">Cosine similarity</text>
<text x="925.00" y="466.00" font-family='"Liberation Sans", Arial, sans-serif' font-size="42.40" font-weight="bold" fill="#000">d</text>
<text x="1381.50" y="505.05" font-family='"Liberation Sans", Arial, sans-serif' font-size="25.00" font-weight="normal" fill="#000">0.2</text>
<text x="1381.50" y="581.98" font-family='"Liberation Sans", Arial, sans-serif' font-size="25.00" font-weight="normal" fill="#000">0.1</text>
<text x="1402.00" y="658.90" font-family='"Liberation Sans", Arial, sans-serif' font-size="25.00" font-weight="normal" fill="#000">0</text>
<text x="1373.00" y="735.82" font-family='"Liberation Sans", Arial, sans-serif' font-size="25.00" font-weight="normal" fill="#000">-0.1</text>
<text x="1373.25" y="812.75" font-family='"Liberation Sans", Arial, sans-serif' font-size="25.00" font-weight="normal" fill="#000">-0.2</text>
<text x="1442.33" y="838.50" font-family='"Liberation Sans", Arial, sans-serif' font-size="25.00" font-weight="normal" fill="#000">1</text>
<text x="1486.97" y="838.50" font-family='"Liberation Sans", Arial, sans-serif' font-size="25.00" font-weight="normal" fill="#000">2</text>
<text x="1531.37" y="838.50" font-family='"Liberation Sans", Arial, sans-serif' font-size="25.00" font-weight="normal" fill="#000">3</text>
<text x="1575.63" y="838.50" font-family='"Liberation Sans", Arial, sans-serif' font-size="25.00" font-weight="normal" fill="#000">4</text>
<text x="1619.90" y="838.50" font-family='"Liberation Sans", Arial, sans-serif' font-size="25.00" font-weight="normal" fill="#000">5</text>
<text x="1664.05" y="838.50" font-family='"Liberation Sans", Arial, sans-serif' font-size="25.00" font-weight="normal" fill="#000">6</text>
<text x="1708.32" y="838.50" font-family='"Liberation Sans", Arial, sans-serif' font-size="25.00" font-weight="normal" fill="#000">7</text>
<text x="1752.72" y="838.50" font-family='"Liberation Sans", Arial, sans-serif' font-size="25.00" font-weight="normal" fill="#000">8</text>
<text x="1495.49" y="869.50" font-family='"Liberation Sans", Arial, sans-serif' font-size="25.09" font-weight="normal" fill="#000">Blocks within Day 1</text>
<text x="1448.37" y="469.00" font-family='"Liberation Sans", Arial, sans-serif' font-size="29.25" font-weight="normal" fill="#000">Inhibitory responses</text>
<text transform="translate(1351.00,737.43) rotate(-90)" font-family='"Liberation Sans", Arial, sans-serif' font-size="28.57" font-weight="normal" fill="#000">Change Index</text>
<text x="1640.66" y="709.30" font-family='"Liberation Sans", Arial, sans-serif' font-size="29.26" font-weight="normal" fill="#5E6267">PBS</text>
<text x="1707.58" y="709.30" font-family='"Liberation Sans", Arial, sans-serif' font-size="28.07" font-weight="normal" fill="#000">or</text>
<text x="1640.65" y="744.00" font-family='"Liberation Sans", Arial, sans-serif' font-size="29.36" font-weight="normal" fill="#E83A64">Muscimol</text>
<text x="1295.01" y="466.40" font-family='"Liberation Sans", Arial, sans-serif' font-size="42.20" font-weight="bold" fill="#000">g</text>
<text x="118.80" y="1313.40" font-family='"Liberation Sans", Arial, sans-serif' font-size="25.00" font-weight="normal" fill="#000">0</text>
<text x="191.60" y="1313.40" font-family='"Liberation Sans", Arial, sans-serif' font-size="25.00" font-weight="normal" fill="#000">2</text>
<text x="264.93" y="1313.40" font-family='"Liberation Sans", Arial, sans-serif' font-size="25.00" font-weight="normal" fill="#000">4</text>
<text x="140.99" y="1343.00" font-family='"Liberation Sans", Arial, sans-serif' font-size="25.33" font-weight="normal" fill="#000">Time (sec)</text>
<text x="63.90" y="937.60" font-family='"Liberation Sans", Arial, sans-serif' font-size="25.01" font-weight="normal" fill="#A855F7">Plasticity along Mode</text>
<text transform="translate(300.40,937.60) scale(0.9432,1)" font-family='"Liberation Sans", Arial, sans-serif' font-size="17.50" font-weight="normal" fill="#A855F7">within</text>
<text x="118.11" y="967.60" font-family='"Liberation Sans", Arial, sans-serif' font-size="24.33" font-weight="normal" fill="#A855F7">Trial 10 - Trial 1</text>
<text transform="translate(66.40,1280.42) rotate(-90)" font-family='"Liberation Sans", Arial, sans-serif' font-size="26.48" font-weight="normal" fill="#000">Projected activity (a.u.)</text>
<text x="-1.77" y="928.50" font-family='"Liberation Sans", Arial, sans-serif' font-size="44.38" font-weight="bold" fill="#000">e</text>
<text x="448.70" y="1313.40" font-family='"Liberation Sans", Arial, sans-serif' font-size="25.00" font-weight="normal" fill="#000">0</text>
<text x="522.00" y="1313.40" font-family='"Liberation Sans", Arial, sans-serif' font-size="25.00" font-weight="normal" fill="#000">2</text>
<text x="594.83" y="1313.40" font-family='"Liberation Sans", Arial, sans-serif' font-size="25.00" font-weight="normal" fill="#000">4</text>
<text x="472.20" y="1343.00" font-family='"Liberation Sans", Arial, sans-serif' font-size="25.07" font-weight="normal" fill="#000">Time (sec)</text>
<text x="403.29" y="938.00" font-family='"Liberation Sans", Arial, sans-serif' font-size="25.06" font-weight="normal" fill="#000">Plasticity along Mode</text>
<text transform="translate(639.72,938.00) scale(0.9961,1)" font-family='"Liberation Sans", Arial, sans-serif' font-size="17.00" font-weight="normal" fill="#000">across</text>
<text x="469.32" y="967.60" font-family='"Liberation Sans", Arial, sans-serif' font-size="24.69" font-weight="normal" fill="#1FAF1F">Day 5 - Day 1</text>
<text x="469.28" y="997.70" font-family='"Liberation Sans", Arial, sans-serif' font-size="25.19" font-weight="normal" fill="#D01818">Day 6 - Day 5</text>
<text x="852.06" y="1268.30" font-family='"Liberation Sans", Arial, sans-serif' font-size="24.50" font-weight="normal" fill="#000">0</text>
<text x="852.30" y="1183.50" font-family='"Liberation Sans", Arial, sans-serif' font-size="24.50" font-weight="normal" fill="#000">1</text>
<text x="852.30" y="1098.70" font-family='"Liberation Sans", Arial, sans-serif' font-size="24.50" font-weight="normal" fill="#000">2</text>
<text x="852.30" y="1013.90" font-family='"Liberation Sans", Arial, sans-serif' font-size="24.50" font-weight="normal" fill="#000">3</text>
<text transform="translate(827.50,1222.33) rotate(-90)" font-family='"Liberation Sans", Arial, sans-serif' font-size="25.37" font-weight="normal" fill="#000">Ramp-up Index</text>
<text x="804.49" y="955.30" font-family='"Liberation Sans", Arial, sans-serif' font-size="26.42" font-weight="normal" fill="#000">RI =</text>
<text x="876.30" y="937.00" font-family='"Liberation Sans", Arial, sans-serif' font-size="26.30" font-weight="normal" fill="#000">Amplitude</text>
<text x="1000.79" y="937.00" font-family='"Liberation Sans", Arial, sans-serif' font-size="20.80" font-weight="normal" fill="#000">t = 5 sec</text>
<text x="877.00" y="973.00" font-family='"Liberation Sans", Arial, sans-serif' font-size="26.14" font-weight="normal" fill="#000">Amplitude</text>
<text x="1000.79" y="973.00" font-family='"Liberation Sans", Arial, sans-serif' font-size="20.80" font-weight="normal" fill="#000">t = 1 sec</text>
<text x="752.19" y="938.30" font-family='"Liberation Sans", Arial, sans-serif' font-size="40.62" font-weight="bold" fill="#000">f</text>
<text x="1389.35" y="962.60" font-family='"Liberation Sans", Arial, sans-serif' font-size="25.00" font-weight="normal" fill="#000">1.0</text>
<text x="1389.35" y="1043.35" font-family='"Liberation Sans", Arial, sans-serif' font-size="25.00" font-weight="normal" fill="#000">0.5</text>
<text x="1410.10" y="1124.10" font-family='"Liberation Sans", Arial, sans-serif' font-size="25.00" font-weight="normal" fill="#000">0</text>
<text x="1381.10" y="1204.85" font-family='"Liberation Sans", Arial, sans-serif' font-size="25.00" font-weight="normal" fill="#000">-0.5</text>
<text x="1381.10" y="1285.60" font-family='"Liberation Sans", Arial, sans-serif' font-size="25.00" font-weight="normal" fill="#000">-1.0</text>
<text x="1585.53" y="922.80" font-family='"Liberation Sans", Arial, sans-serif' font-size="25.00" font-weight="normal" fill="#000">n.s.</text>
<text x="1500.49" y="1326.00" font-family='"Liberation Sans", Arial, sans-serif' font-size="25.11" font-weight="normal" fill="#333333">PBS</text>
<text x="1628.97" y="1326.00" font-family='"Liberation Sans", Arial, sans-serif' font-size="25.42" font-weight="normal" fill="#E8365E">Muscimol</text>
<text transform="translate(1327.00,1206.95) rotate(-90)" font-family='"Liberation Sans", Arial, sans-serif' font-size="29.09" font-weight="normal" fill="#000">Change Index</text>
<text transform="translate(1362.80,1241.96) rotate(-90)" font-family='"Liberation Sans", Arial, sans-serif' font-size="29.28" font-weight="normal" fill="#000">(Blocks 2-4 vs. 6-8)</text>
<text x="1294.94" y="930.00" font-family='"Liberation Sans", Arial, sans-serif' font-size="43.75" font-weight="bold" fill="#000">h</text>
<text x="96.65" y="1526.80" font-family='"Liberation Sans", Arial, sans-serif' font-size="25.00" font-weight="normal" fill="#000">1.0</text>
<text x="96.65" y="1607.65" font-family='"Liberation Sans", Arial, sans-serif' font-size="25.00" font-weight="normal" fill="#000">0.5</text>
<text x="117.40" y="1688.50" font-family='"Liberation Sans", Arial, sans-serif' font-size="25.00" font-weight="normal" fill="#000">0</text>
<text x="88.40" y="1769.35" font-family='"Liberation Sans", Arial, sans-serif' font-size="25.00" font-weight="normal" fill="#000">-0.5</text>
<text x="88.40" y="1850.20" font-family='"Liberation Sans", Arial, sans-serif' font-size="25.00" font-weight="normal" fill="#000">-1.0</text>
<text transform="translate(138.21,1469.50) scale(1.0297,1)" font-family='"Liberation Sans", Arial, sans-serif' font-size="25.00" font-weight="normal" fill="#1515DD">SST neurons</text>
<text transform="translate(70.90,1879.97) rotate(-90)" font-family='"Liberation Sans", Arial, sans-serif' font-size="29.32" font-weight="normal" fill="#000">Change Index (Day 6 vs. Day 5)</text>
<text x="394.35" y="1526.80" font-family='"Liberation Sans", Arial, sans-serif' font-size="25.00" font-weight="normal" fill="#000">1.0</text>
<text x="394.35" y="1607.65" font-family='"Liberation Sans", Arial, sans-serif' font-size="25.00" font-weight="normal" fill="#000">0.5</text>
<text x="415.10" y="1688.50" font-family='"Liberation Sans", Arial, sans-serif' font-size="25.00" font-weight="normal" fill="#000">0</text>
<text x="386.10" y="1769.35" font-family='"Liberation Sans", Arial, sans-serif' font-size="25.00" font-weight="normal" fill="#000">-0.5</text>
<text x="386.10" y="1850.20" font-family='"Liberation Sans", Arial, sans-serif' font-size="25.00" font-weight="normal" fill="#000">-1.0</text>
<text transform="translate(434.94,1469.50) scale(1.0485,1)" font-family='"Liberation Sans", Arial, sans-serif' font-size="25.00" font-weight="normal" fill="#B0179C">VIP neurons</text>
<text transform="translate(368.60,1879.97) rotate(-90)" font-family='"Liberation Sans", Arial, sans-serif' font-size="29.32" font-weight="normal" fill="#000">Change Index (Day 6 vs. Day 5)</text>
<text x="541.75" y="1739.18" font-family='"Liberation Sans", Arial, sans-serif' font-size="32.43" font-weight="normal" fill="#000" stroke="#000" stroke-width="0.35">****</text>
<text x="684.85" y="1526.80" font-family='"Liberation Sans", Arial, sans-serif' font-size="25.00" font-weight="normal" fill="#000">1.0</text>
<text x="684.85" y="1607.65" font-family='"Liberation Sans", Arial, sans-serif' font-size="25.00" font-weight="normal" fill="#000">0.5</text>
<text x="705.60" y="1688.50" font-family='"Liberation Sans", Arial, sans-serif' font-size="25.00" font-weight="normal" fill="#000">0</text>
<text x="676.60" y="1769.35" font-family='"Liberation Sans", Arial, sans-serif' font-size="25.00" font-weight="normal" fill="#000">-0.5</text>
<text x="676.60" y="1850.20" font-family='"Liberation Sans", Arial, sans-serif' font-size="25.00" font-weight="normal" fill="#000">-1.0</text>
<text transform="translate(724.88,1469.50) scale(1.0614,1)" font-family='"Liberation Sans", Arial, sans-serif' font-size="25.00" font-weight="normal" fill="#1A8C1A">PV neurons</text>
<text transform="translate(659.10,1879.97) rotate(-90)" font-family='"Liberation Sans", Arial, sans-serif' font-size="29.32" font-weight="normal" fill="#000">Change Index (Day 6 vs. Day 5)</text>
<text x="835.17" y="1705.83" font-family='"Liberation Sans", Arial, sans-serif' font-size="31.64" font-weight="normal" fill="#000" stroke="#000" stroke-width="0.35">****</text>
<text x="57.98" y="1412.00" font-family='"Liberation Sans", Arial, sans-serif' font-size="33.61" font-weight="normal" fill="#000">Inhibitory responses</text>
<text x="3.78" y="1407.80" font-family='"Liberation Sans", Arial, sans-serif' font-size="40.50" font-weight="bold" fill="#000">i</text>
</svg></body></html>
